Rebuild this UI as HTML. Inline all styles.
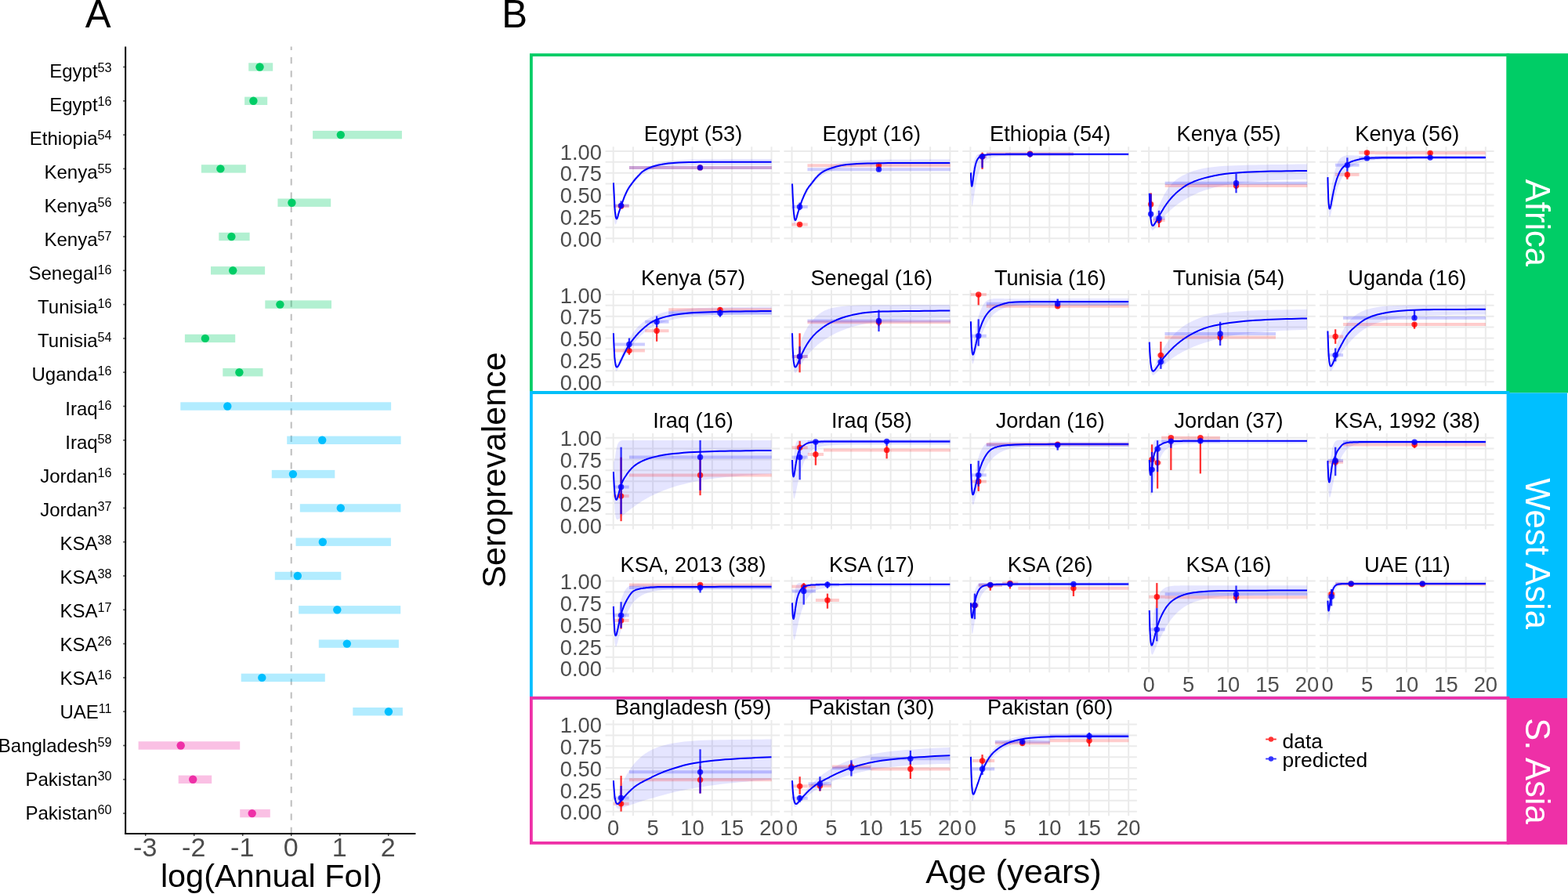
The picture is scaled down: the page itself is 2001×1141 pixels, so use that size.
<!DOCTYPE html>
<html lang="en"><head><meta charset="utf-8"><title>Figure: annual force of infection and seroprevalence by age</title>
<style>html,body{margin:0;padding:0;background:#fff}body{width:2001px;height:1141px;overflow:hidden}svg{display:block}text{font-family:'Liberation Sans', sans-serif}</style></head><body>
<svg width="2001" height="1141" viewBox="0 0 2001 1141">
<rect x="0" y="0" width="2001" height="1141" fill="#ffffff"/>
<g id="panelA">
<text x="108.8" y="34.9" font-size="49.2" fill="#000">A</text>
<line x1="371.7" y1="1064" x2="371.7" y2="59.4" stroke="#bebebe" stroke-width="2" stroke-dasharray="8.2 9.04"/>
<rect x="317.2" y="80.3" width="31" height="10.4" fill="#00CD66" fill-opacity="0.3"/>
<rect x="312.1" y="123.6" width="29.1" height="10.4" fill="#00CD66" fill-opacity="0.3"/>
<rect x="399.1" y="166.9" width="113.8" height="10.4" fill="#00CD66" fill-opacity="0.3"/>
<rect x="256.9" y="210.2" width="56.9" height="10.4" fill="#00CD66" fill-opacity="0.3"/>
<rect x="354.4" y="253.5" width="67.8" height="10.4" fill="#00CD66" fill-opacity="0.3"/>
<rect x="279.3" y="296.8" width="39.3" height="10.4" fill="#00CD66" fill-opacity="0.3"/>
<rect x="269" y="340.1" width="69.1" height="10.4" fill="#00CD66" fill-opacity="0.3"/>
<rect x="338.3" y="383.4" width="84.7" height="10.4" fill="#00CD66" fill-opacity="0.3"/>
<rect x="235.9" y="426.7" width="64.3" height="10.4" fill="#00CD66" fill-opacity="0.3"/>
<rect x="284.3" y="470" width="51.2" height="10.4" fill="#00CD66" fill-opacity="0.3"/>
<rect x="230.3" y="513.3" width="268.8" height="10.4" fill="#00BFFF" fill-opacity="0.3"/>
<rect x="366.2" y="556.6" width="145.4" height="10.4" fill="#00BFFF" fill-opacity="0.3"/>
<rect x="346.8" y="599.9" width="80.5" height="10.4" fill="#00BFFF" fill-opacity="0.3"/>
<rect x="382.8" y="643.2" width="128.6" height="10.4" fill="#00BFFF" fill-opacity="0.3"/>
<rect x="377.5" y="686.5" width="121.4" height="10.4" fill="#00BFFF" fill-opacity="0.3"/>
<rect x="350.8" y="729.8" width="84.5" height="10.4" fill="#00BFFF" fill-opacity="0.3"/>
<rect x="381.1" y="773.1" width="130.1" height="10.4" fill="#00BFFF" fill-opacity="0.3"/>
<rect x="406.8" y="816.4" width="102.1" height="10.4" fill="#00BFFF" fill-opacity="0.3"/>
<rect x="307.7" y="859.7" width="107.1" height="10.4" fill="#00BFFF" fill-opacity="0.3"/>
<rect x="450.3" y="903" width="63.6" height="10.4" fill="#00BFFF" fill-opacity="0.3"/>
<rect x="176.6" y="946.3" width="129.6" height="10.4" fill="#EE30A7" fill-opacity="0.3"/>
<rect x="227.7" y="989.6" width="42.5" height="10.4" fill="#EE30A7" fill-opacity="0.3"/>
<rect x="306.2" y="1032.9" width="38.6" height="10.4" fill="#EE30A7" fill-opacity="0.3"/>
<circle cx="331.5" cy="85.5" r="5.2" fill="#00CD66"/>
<circle cx="323.4" cy="128.8" r="5.2" fill="#00CD66"/>
<circle cx="434.8" cy="172.1" r="5.2" fill="#00CD66"/>
<circle cx="281.4" cy="215.4" r="5.2" fill="#00CD66"/>
<circle cx="372.4" cy="258.7" r="5.2" fill="#00CD66"/>
<circle cx="295.4" cy="302" r="5.2" fill="#00CD66"/>
<circle cx="297.2" cy="345.3" r="5.2" fill="#00CD66"/>
<circle cx="357.4" cy="388.6" r="5.2" fill="#00CD66"/>
<circle cx="261.9" cy="431.9" r="5.2" fill="#00CD66"/>
<circle cx="305.4" cy="475.2" r="5.2" fill="#00CD66"/>
<circle cx="290.3" cy="518.5" r="5.2" fill="#00BFFF"/>
<circle cx="411.2" cy="561.8" r="5.2" fill="#00BFFF"/>
<circle cx="373.9" cy="605.1" r="5.2" fill="#00BFFF"/>
<circle cx="434.8" cy="648.4" r="5.2" fill="#00BFFF"/>
<circle cx="411.8" cy="691.7" r="5.2" fill="#00BFFF"/>
<circle cx="379.8" cy="735" r="5.2" fill="#00BFFF"/>
<circle cx="430.3" cy="778.3" r="5.2" fill="#00BFFF"/>
<circle cx="442.8" cy="821.6" r="5.2" fill="#00BFFF"/>
<circle cx="334.3" cy="864.9" r="5.2" fill="#00BFFF"/>
<circle cx="495.9" cy="908.2" r="5.2" fill="#00BFFF"/>
<circle cx="230.7" cy="951.5" r="5.2" fill="#EE30A7"/>
<circle cx="246.2" cy="994.8" r="5.2" fill="#EE30A7"/>
<circle cx="321.7" cy="1038.1" r="5.2" fill="#EE30A7"/>
<line x1="160.15" y1="59.4" x2="160.15" y2="1065" stroke="#000" stroke-width="2"/>
<line x1="159.15" y1="1064" x2="530.4" y2="1064" stroke="#000" stroke-width="2"/>
<line x1="157.15" y1="85.5" x2="159.15" y2="85.5" stroke="#4d4d4d" stroke-width="1.7"/>
<line x1="157.15" y1="128.8" x2="159.15" y2="128.8" stroke="#4d4d4d" stroke-width="1.7"/>
<line x1="157.15" y1="172.1" x2="159.15" y2="172.1" stroke="#4d4d4d" stroke-width="1.7"/>
<line x1="157.15" y1="215.4" x2="159.15" y2="215.4" stroke="#4d4d4d" stroke-width="1.7"/>
<line x1="157.15" y1="258.7" x2="159.15" y2="258.7" stroke="#4d4d4d" stroke-width="1.7"/>
<line x1="157.15" y1="302" x2="159.15" y2="302" stroke="#4d4d4d" stroke-width="1.7"/>
<line x1="157.15" y1="345.3" x2="159.15" y2="345.3" stroke="#4d4d4d" stroke-width="1.7"/>
<line x1="157.15" y1="388.6" x2="159.15" y2="388.6" stroke="#4d4d4d" stroke-width="1.7"/>
<line x1="157.15" y1="431.9" x2="159.15" y2="431.9" stroke="#4d4d4d" stroke-width="1.7"/>
<line x1="157.15" y1="475.2" x2="159.15" y2="475.2" stroke="#4d4d4d" stroke-width="1.7"/>
<line x1="157.15" y1="518.5" x2="159.15" y2="518.5" stroke="#4d4d4d" stroke-width="1.7"/>
<line x1="157.15" y1="561.8" x2="159.15" y2="561.8" stroke="#4d4d4d" stroke-width="1.7"/>
<line x1="157.15" y1="605.1" x2="159.15" y2="605.1" stroke="#4d4d4d" stroke-width="1.7"/>
<line x1="157.15" y1="648.4" x2="159.15" y2="648.4" stroke="#4d4d4d" stroke-width="1.7"/>
<line x1="157.15" y1="691.7" x2="159.15" y2="691.7" stroke="#4d4d4d" stroke-width="1.7"/>
<line x1="157.15" y1="735" x2="159.15" y2="735" stroke="#4d4d4d" stroke-width="1.7"/>
<line x1="157.15" y1="778.3" x2="159.15" y2="778.3" stroke="#4d4d4d" stroke-width="1.7"/>
<line x1="157.15" y1="821.6" x2="159.15" y2="821.6" stroke="#4d4d4d" stroke-width="1.7"/>
<line x1="157.15" y1="864.9" x2="159.15" y2="864.9" stroke="#4d4d4d" stroke-width="1.7"/>
<line x1="157.15" y1="908.2" x2="159.15" y2="908.2" stroke="#4d4d4d" stroke-width="1.7"/>
<line x1="157.15" y1="951.5" x2="159.15" y2="951.5" stroke="#4d4d4d" stroke-width="1.7"/>
<line x1="157.15" y1="994.8" x2="159.15" y2="994.8" stroke="#4d4d4d" stroke-width="1.7"/>
<line x1="157.15" y1="1038.1" x2="159.15" y2="1038.1" stroke="#4d4d4d" stroke-width="1.7"/>
<line x1="185.7" y1="1065" x2="185.7" y2="1067" stroke="#4d4d4d" stroke-width="1.7"/>
<text x="185.2" y="1093.4" font-size="34" fill="#4d4d4d" text-anchor="middle">-3</text>
<line x1="247.7" y1="1065" x2="247.7" y2="1067" stroke="#4d4d4d" stroke-width="1.7"/>
<text x="247.2" y="1093.4" font-size="34" fill="#4d4d4d" text-anchor="middle">-2</text>
<line x1="309.7" y1="1065" x2="309.7" y2="1067" stroke="#4d4d4d" stroke-width="1.7"/>
<text x="309.2" y="1093.4" font-size="34" fill="#4d4d4d" text-anchor="middle">-1</text>
<line x1="371.7" y1="1065" x2="371.7" y2="1067" stroke="#4d4d4d" stroke-width="1.7"/>
<text x="371.2" y="1093.4" font-size="34" fill="#4d4d4d" text-anchor="middle">0</text>
<line x1="433.7" y1="1065" x2="433.7" y2="1067" stroke="#4d4d4d" stroke-width="1.7"/>
<text x="433.2" y="1093.4" font-size="34" fill="#4d4d4d" text-anchor="middle">1</text>
<line x1="495.7" y1="1065" x2="495.7" y2="1067" stroke="#4d4d4d" stroke-width="1.7"/>
<text x="495.2" y="1093.4" font-size="34" fill="#4d4d4d" text-anchor="middle">2</text>
<text x="142.6" y="98.8" font-size="24" fill="#000" text-anchor="end">Egypt<tspan dy="-7" font-size="16.2">53</tspan></text>
<text x="142.6" y="141.87" font-size="24" fill="#000" text-anchor="end">Egypt<tspan dy="-7" font-size="16.2">16</tspan></text>
<text x="142.6" y="184.94" font-size="24" fill="#000" text-anchor="end">Ethiopia<tspan dy="-7" font-size="16.2">54</tspan></text>
<text x="142.6" y="228.01" font-size="24" fill="#000" text-anchor="end">Kenya<tspan dy="-7" font-size="16.2">55</tspan></text>
<text x="142.6" y="271.08" font-size="24" fill="#000" text-anchor="end">Kenya<tspan dy="-7" font-size="16.2">56</tspan></text>
<text x="142.6" y="314.15" font-size="24" fill="#000" text-anchor="end">Kenya<tspan dy="-7" font-size="16.2">57</tspan></text>
<text x="142.6" y="357.22" font-size="24" fill="#000" text-anchor="end">Senegal<tspan dy="-7" font-size="16.2">16</tspan></text>
<text x="142.6" y="400.29" font-size="24" fill="#000" text-anchor="end">Tunisia<tspan dy="-7" font-size="16.2">16</tspan></text>
<text x="142.6" y="443.36" font-size="24" fill="#000" text-anchor="end">Tunisia<tspan dy="-7" font-size="16.2">54</tspan></text>
<text x="142.6" y="486.43" font-size="24" fill="#000" text-anchor="end">Uganda<tspan dy="-7" font-size="16.2">16</tspan></text>
<text x="142.6" y="529.5" font-size="24" fill="#000" text-anchor="end">Iraq<tspan dy="-7" font-size="16.2">16</tspan></text>
<text x="142.6" y="572.57" font-size="24" fill="#000" text-anchor="end">Iraq<tspan dy="-7" font-size="16.2">58</tspan></text>
<text x="142.6" y="615.64" font-size="24" fill="#000" text-anchor="end">Jordan<tspan dy="-7" font-size="16.2">16</tspan></text>
<text x="142.6" y="658.71" font-size="24" fill="#000" text-anchor="end">Jordan<tspan dy="-7" font-size="16.2">37</tspan></text>
<text x="142.6" y="701.78" font-size="24" fill="#000" text-anchor="end">KSA<tspan dy="-7" font-size="16.2">38</tspan></text>
<text x="142.6" y="744.85" font-size="24" fill="#000" text-anchor="end">KSA<tspan dy="-7" font-size="16.2">38</tspan></text>
<text x="142.6" y="787.92" font-size="24" fill="#000" text-anchor="end">KSA<tspan dy="-7" font-size="16.2">17</tspan></text>
<text x="142.6" y="830.99" font-size="24" fill="#000" text-anchor="end">KSA<tspan dy="-7" font-size="16.2">26</tspan></text>
<text x="142.6" y="874.06" font-size="24" fill="#000" text-anchor="end">KSA<tspan dy="-7" font-size="16.2">16</tspan></text>
<text x="142.6" y="917.13" font-size="24" fill="#000" text-anchor="end">UAE<tspan dy="-7" font-size="16.2">11</tspan></text>
<text x="142.6" y="960.2" font-size="24" fill="#000" text-anchor="end">Bangladesh<tspan dy="-7" font-size="16.2">59</tspan></text>
<text x="142.6" y="1003.27" font-size="24" fill="#000" text-anchor="end">Pakistan<tspan dy="-7" font-size="16.2">30</tspan></text>
<text x="142.6" y="1046.34" font-size="24" fill="#000" text-anchor="end">Pakistan<tspan dy="-7" font-size="16.2">60</tspan></text>
<text x="346.4" y="1132" font-size="41.4" fill="#000" text-anchor="middle">log(Annual FoI)</text>
</g>
<g id="panelB">
<text x="640.3" y="34.9" font-size="49.2" fill="#000">B</text>
<text transform="translate(645.2 600) rotate(-90)" font-size="43" fill="#000" text-anchor="middle">Seroprevalence</text>
<text x="1293.5" y="1127" font-size="43.4" fill="#000" text-anchor="middle">Age (years)</text>
<g><path d="M772.61 304.15H995.19M772.61 290.24H995.19M772.61 276.34H995.19M772.61 262.43H995.19M772.61 248.53H995.19M772.61 234.62H995.19M772.61 220.71H995.19M772.61 206.81H995.19M772.61 192.9H995.19M782.7 187.34V309.71M807.93 187.34V309.71M833.15 187.34V309.71M858.38 187.34V309.71M883.6 187.34V309.71M908.83 187.34V309.71M934.05 187.34V309.71M959.28 187.34V309.71M984.5 187.34V309.71" stroke="#ebebeb" stroke-width="2" fill="none"/><path d="M782.9 223.2 L783.2 232 L783.5 239.5 L783.8 245.8 L784.1 251.2 L784.3 255.7 L784.6 259.5 L784.9 262.6 L785.2 265.2 L785.5 267.3 L785.7 268.9 L786 270.3 L786.3 271.2 L786.6 272 L786.9 272.5 L787.2 272.7 L787.4 272.8 L787.7 272.8 L788 272.6 L788.3 272.4 L788.6 272 L788.8 271.5 L789.1 271 L789.4 270.5 L789.7 269.8 L790 269.2 L790.3 268.5 L790.5 267.7 L790.8 267 L791.1 266.2 L791.4 265.5 L791.7 264.7 L791.9 263.9 L792.2 263.1 L792.5 262.3 L792.8 261.5 L793.8 258.6 L794.9 255.7 L795.9 253 L796.9 250.4 L798 247.8 L799 245.5 L800 243.2 L801.1 241 L802.1 239 L803.1 237.1 L804.2 235.3 L805.2 233.5 L806.2 231.9 L807.3 230.4 L808.3 228.9 L809.3 227.5 L810.4 226.2 L811.4 225 L812.5 223.8 L813.5 222.7 L814.5 221.7 L815.6 220.7 L816.6 219.8 L817.6 218.9 L818.7 218 L819.7 217.3 L820.7 216.5 L821.8 215.8 L822.8 215.1 L823.8 214.5 L824.9 213.9 L825.9 213.4 L826.9 212.8 L828 212.3 L829 211.8 L830 211.4 L831.1 211 L832.1 210.5 L833.2 210.2 L839.7 208.1 L846.3 206.7 L852.9 205.6 L859.5 204.9 L866.1 204.4 L872.6 204 L879.2 203.7 L885.8 203.5 L892.4 203.4 L899 203.3 L905.5 203.2 L912.1 203.2 L918.7 203.2 L925.3 203.1 L931.9 203.1 L938.4 203.1 L945 203.1 L951.6 203.1 L958.2 203.1 L964.8 203.1 L971.3 203.1 L977.9 203.1 L984.5 203.1 L984.5 211.1 L977.9 211.1 L971.3 211.1 L964.8 211.1 L958.2 211.1 L951.6 211.1 L945 211 L938.4 211 L931.9 211 L925.3 211 L918.7 211 L912.1 211 L905.5 211.1 L899 211.1 L892.4 211.1 L885.8 211.2 L879.2 211.3 L872.6 211.4 L866.1 211.6 L859.5 211.8 L852.9 212.2 L846.3 212.9 L839.7 214 L833.2 215.8 L832.1 216.1 L831.1 216.5 L830 216.9 L829 217.4 L828 217.9 L826.9 218.4 L825.9 218.9 L824.9 219.5 L823.8 220.2 L822.8 220.8 L821.8 221.5 L820.7 222.3 L819.7 223 L818.7 223.8 L817.6 224.7 L816.6 225.6 L815.6 226.6 L814.5 227.6 L813.5 228.6 L812.5 229.7 L811.4 230.8 L810.4 232 L809.3 233.3 L808.3 234.6 L807.3 235.9 L806.2 237.3 L805.2 238.8 L804.2 240.4 L803.1 242.1 L802.1 243.8 L801.1 245.7 L800 247.7 L799 249.8 L798 252 L796.9 254.3 L795.9 256.7 L794.9 259.4 L793.8 262.1 L792.8 265 L792.5 265.8 L792.2 266.7 L791.9 267.5 L791.7 268.4 L791.4 269.2 L791.1 270.1 L790.8 271 L790.5 271.9 L790.3 272.9 L790 273.8 L789.7 274.7 L789.4 275.7 L789.1 276.6 L788.8 277.6 L788.6 278.6 L788.3 279.6 L788 280.5 L787.7 281.5 L787.4 282.4 L787.2 283.3 L786.9 284.2 L786.6 285 L786.3 285.7 L786 286.3 L785.7 286.6 L785.5 286.8 L785.2 286.6 L784.9 286 L784.6 284.7 L784.3 282.7 L784.1 279.7 L783.8 275.2 L783.5 268.9 L783.2 260.1 L782.9 248Z" fill="#0000ff" fill-opacity="0.1" stroke="none"/><line x1="782.92" y1="263.13" x2="802.71" y2="263.13" stroke="#ff0000" stroke-opacity="0.2" stroke-width="4"/><line x1="802.94" y1="213.91" x2="984.84" y2="213.91" stroke="#ff0000" stroke-opacity="0.2" stroke-width="4"/><line x1="792.59" y1="261.45" x2="792.59" y2="264.82" stroke="#ff0000" stroke-opacity="0.8" stroke-width="2.3"/><circle cx="792.59" cy="263.13" r="3.7" fill="#ff0000" fill-opacity="0.8"/><line x1="893.44" y1="212.57" x2="893.44" y2="215.37" stroke="#ff0000" stroke-opacity="0.8" stroke-width="2.3"/><circle cx="893.44" cy="213.91" r="3.7" fill="#ff0000" fill-opacity="0.8"/><line x1="782.92" y1="262.35" x2="802.71" y2="262.35" stroke="#0000ff" stroke-opacity="0.2" stroke-width="4"/><line x1="802.94" y1="213.91" x2="984.84" y2="213.91" stroke="#0000ff" stroke-opacity="0.2" stroke-width="4"/><line x1="792.59" y1="256.39" x2="792.59" y2="265.94" stroke="#0000ff" stroke-opacity="0.8" stroke-width="2.3"/><circle cx="792.59" cy="262.35" r="3.7" fill="#0000ff" fill-opacity="0.8"/><line x1="893.44" y1="212" x2="893.44" y2="215.94" stroke="#0000ff" stroke-opacity="0.8" stroke-width="2.3"/><circle cx="893.44" cy="213.91" r="3.7" fill="#0000ff" fill-opacity="0.8"/><path d="M782.9 233.4 L783.2 239.2 L783.5 245.5 L783.8 251.4 L784.1 256.9 L784.3 262 L784.6 266.4 L784.9 269.9 L785.2 272.6 L785.5 274.7 L785.7 276.3 L786 277.6 L786.3 278.5 L786.6 279.1 L786.9 279.4 L787.2 279.3 L787.4 278.9 L787.7 278.3 L788 277.6 L788.3 276.7 L788.6 275.8 L788.8 274.8 L789.1 273.6 L789.4 272.5 L789.7 271.5 L790 270.5 L790.3 269.7 L790.5 269 L790.8 268.2 L791.1 267.4 L791.4 266.6 L791.7 265.8 L791.9 265.1 L792.2 264.3 L792.5 263.5 L792.8 262.7 L793.8 259.6 L794.9 256.5 L795.9 253.6 L796.9 250.9 L798 248.5 L799 246.2 L800 244.1 L801.1 242.1 L802.1 240.3 L803.1 238.7 L804.2 237.2 L805.2 235.8 L806.2 234.4 L807.3 233 L808.3 231.7 L809.3 230.3 L810.4 229 L811.4 227.8 L812.5 226.7 L813.5 225.6 L814.5 224.5 L815.6 223.4 L816.6 222.3 L817.6 221.2 L818.7 220.1 L819.7 219.2 L820.7 218.5 L821.8 217.8 L822.8 217.2 L823.8 216.6 L824.9 216 L825.9 215.5 L826.9 215 L828 214.5 L829 214.1 L830 213.7 L831.1 213.3 L832.1 212.9 L833.2 212.5 L839.7 210.8 L846.3 209.5 L852.9 208.6 L859.5 208 L866.1 207.5 L872.6 207.2 L879.2 207 L885.8 206.9 L892.4 206.8 L899 206.7 L905.5 206.7 L912.1 206.7 L918.7 206.7 L925.3 206.7 L931.9 206.7 L938.4 206.7 L945 206.7 L951.6 206.7 L958.2 206.7 L964.8 206.7 L971.3 206.7 L977.9 206.7 L984.5 206.7" fill="none" stroke="#0000ff" stroke-width="2" stroke-linejoin="round"/><text x="884.5" y="180.1" font-size="27.2" fill="#000" text-anchor="middle">Egypt (53)</text><text x="768" y="314.8" font-size="27.4" fill="#4d4d4d" text-anchor="end">0.00</text><text x="768" y="286.99" font-size="27.4" fill="#4d4d4d" text-anchor="end">0.25</text><text x="768" y="259.18" font-size="27.4" fill="#4d4d4d" text-anchor="end">0.50</text><text x="768" y="231.36" font-size="27.4" fill="#4d4d4d" text-anchor="end">0.75</text><text x="768" y="203.55" font-size="27.4" fill="#4d4d4d" text-anchor="end">1.00</text></g>
<g><path d="M1000.45 304.15H1223.03M1000.45 290.24H1223.03M1000.45 276.34H1223.03M1000.45 262.43H1223.03M1000.45 248.53H1223.03M1000.45 234.62H1223.03M1000.45 220.71H1223.03M1000.45 206.81H1223.03M1000.45 192.9H1223.03M1010.54 187.34V309.71M1035.77 187.34V309.71M1060.99 187.34V309.71M1086.22 187.34V309.71M1111.44 187.34V309.71M1136.66 187.34V309.71M1161.89 187.34V309.71M1187.12 187.34V309.71M1212.34 187.34V309.71" stroke="#ebebeb" stroke-width="2" fill="none"/><path d="M1011 224.4 L1011.3 233.6 L1011.5 241.3 L1011.8 247.9 L1012.1 253.4 L1012.4 258 L1012.6 261.7 L1012.9 264.9 L1013.2 267.4 L1013.5 269.4 L1013.7 271 L1014 272.3 L1014.3 273.2 L1014.6 273.8 L1014.8 274.2 L1015.1 274.5 L1015.4 274.5 L1015.7 274.4 L1015.9 274.2 L1016.2 273.9 L1016.5 273.4 L1016.8 273 L1017 272.4 L1017.3 271.8 L1017.6 271.2 L1017.9 270.5 L1018.2 269.8 L1018.4 269.1 L1018.7 268.3 L1019 267.6 L1019.3 266.8 L1019.5 266 L1019.8 265.2 L1020.1 264.4 L1020.4 263.6 L1020.6 262.9 L1021.7 259.9 L1022.7 257.1 L1023.7 254.3 L1024.8 251.7 L1025.8 249.2 L1026.8 246.8 L1027.9 244.6 L1028.9 242.4 L1029.9 240.4 L1031 238.5 L1032 236.7 L1033 234.9 L1034.1 233.3 L1035.1 231.7 L1036.2 230.2 L1037.2 228.9 L1038.2 227.5 L1039.3 226.3 L1040.3 225.1 L1041.3 224 L1042.4 223 L1043.4 222 L1044.4 221 L1045.5 220.1 L1046.5 219.3 L1047.5 218.5 L1048.6 217.7 L1049.6 217 L1050.6 216.4 L1051.7 215.7 L1052.7 215.1 L1053.7 214.5 L1054.8 214 L1055.8 213.5 L1056.9 213 L1057.9 212.5 L1058.9 212 L1060 211.6 L1061 211.2 L1067.6 209 L1074.2 207.5 L1080.7 206.3 L1087.3 205.5 L1093.9 205 L1100.5 204.5 L1107.1 204.2 L1113.6 204 L1120.2 203.8 L1126.8 203.7 L1133.4 203.6 L1140 203.5 L1146.5 203.5 L1153.1 203.4 L1159.7 203.4 L1166.3 203.4 L1172.9 203.3 L1179.4 203.3 L1186 203.3 L1192.6 203.3 L1199.2 203.3 L1205.8 203.2 L1212.3 203.2 L1212.3 211.3 L1205.8 211.3 L1199.2 211.3 L1192.6 211.3 L1186 211.3 L1179.4 211.3 L1172.9 211.3 L1166.3 211.3 L1159.7 211.3 L1153.1 211.4 L1146.5 211.4 L1140 211.4 L1133.4 211.5 L1126.8 211.5 L1120.2 211.6 L1113.6 211.8 L1107.1 212 L1100.5 212.2 L1093.9 212.5 L1087.3 212.9 L1080.7 213.4 L1074.2 214.3 L1067.6 215.7 L1061 217.6 L1060 218 L1058.9 218.4 L1057.9 218.9 L1056.9 219.4 L1055.8 219.9 L1054.8 220.4 L1053.7 220.9 L1052.7 221.5 L1051.7 222.2 L1050.6 222.8 L1049.6 223.5 L1048.6 224.3 L1047.5 225 L1046.5 225.9 L1045.5 226.7 L1044.4 227.6 L1043.4 228.6 L1042.4 229.6 L1041.3 230.6 L1040.3 231.7 L1039.3 232.8 L1038.2 234 L1037.2 235.3 L1036.2 236.6 L1035.1 237.9 L1034.1 239.4 L1033 240.9 L1032 242.5 L1031 244.2 L1029.9 245.9 L1028.9 247.8 L1027.9 249.8 L1026.8 251.8 L1025.8 254 L1024.8 256.3 L1023.7 258.7 L1022.7 261.3 L1021.7 264 L1020.6 266.8 L1020.4 267.6 L1020.1 268.4 L1019.8 269.2 L1019.5 270 L1019.3 270.8 L1019 271.6 L1018.7 272.5 L1018.4 273.3 L1018.2 274.2 L1017.9 275.1 L1017.6 276 L1017.3 276.8 L1017 277.7 L1016.8 278.6 L1016.5 279.5 L1016.2 280.4 L1015.9 281.3 L1015.7 282.2 L1015.4 283 L1015.1 283.9 L1014.8 284.6 L1014.6 285.3 L1014.3 285.9 L1014 286.3 L1013.7 286.6 L1013.5 286.6 L1013.2 286.3 L1012.9 285.6 L1012.6 284.2 L1012.4 282.1 L1012.1 279 L1011.8 274.5 L1011.5 268.2 L1011.3 259.6 L1011 248Z" fill="#0000ff" fill-opacity="0.1" stroke="none"/><line x1="1010.54" y1="286.51" x2="1030.78" y2="286.51" stroke="#ff0000" stroke-opacity="0.2" stroke-width="4"/><line x1="1030.44" y1="211.22" x2="1212.9" y2="211.22" stroke="#ff0000" stroke-opacity="0.2" stroke-width="4"/><line x1="1020.55" y1="285.05" x2="1020.55" y2="287.86" stroke="#ff0000" stroke-opacity="0.8" stroke-width="2.3"/><circle cx="1020.55" cy="286.51" r="3.7" fill="#ff0000" fill-opacity="0.8"/><line x1="1121.5" y1="207.51" x2="1121.5" y2="213.69" stroke="#ff0000" stroke-opacity="0.8" stroke-width="2.3"/><circle cx="1121.5" cy="211.22" r="3.7" fill="#ff0000" fill-opacity="0.8"/><line x1="1010.54" y1="264.03" x2="1030.78" y2="264.03" stroke="#0000ff" stroke-opacity="0.2" stroke-width="4"/><line x1="1030.44" y1="216.16" x2="1212.9" y2="216.16" stroke="#0000ff" stroke-opacity="0.2" stroke-width="4"/><line x1="1020.55" y1="258.64" x2="1020.55" y2="268.19" stroke="#0000ff" stroke-opacity="0.8" stroke-width="2.3"/><circle cx="1020.55" cy="264.03" r="3.7" fill="#0000ff" fill-opacity="0.8"/><line x1="1121.5" y1="213.69" x2="1121.5" y2="218.75" stroke="#0000ff" stroke-opacity="0.8" stroke-width="2.3"/><circle cx="1121.5" cy="216.16" r="3.7" fill="#0000ff" fill-opacity="0.8"/><path d="M1011 234.5 L1011.3 240.4 L1011.5 246.4 L1011.8 252.1 L1012.1 257.5 L1012.4 262.5 L1012.6 266.9 L1012.9 270.5 L1013.2 273.3 L1013.5 275.7 L1013.7 277.6 L1014 279 L1014.3 280 L1014.6 280.7 L1014.8 281.1 L1015.1 281.1 L1015.4 280.8 L1015.7 280.2 L1015.9 279.5 L1016.2 278.8 L1016.5 278 L1016.8 277 L1017 276 L1017.3 274.9 L1017.6 273.8 L1017.9 272.8 L1018.2 271.9 L1018.4 271 L1018.7 270.1 L1019 269.2 L1019.3 268.3 L1019.5 267.4 L1019.8 266.5 L1020.1 265.7 L1020.4 264.8 L1020.6 264 L1021.7 260.9 L1022.7 257.9 L1023.7 255.2 L1024.8 252.6 L1025.8 250.2 L1026.8 247.9 L1027.9 245.7 L1028.9 243.7 L1029.9 241.8 L1031 240.2 L1032 238.7 L1033 237.4 L1034.1 236.2 L1035.1 234.9 L1036.2 233.5 L1037.2 232.1 L1038.2 230.8 L1039.3 229.5 L1040.3 228.2 L1041.3 227 L1042.4 225.9 L1043.4 224.8 L1044.4 223.8 L1045.5 222.8 L1046.5 221.9 L1047.5 221.1 L1048.6 220.3 L1049.6 219.6 L1050.6 219 L1051.7 218.4 L1052.7 217.9 L1053.7 217.4 L1054.8 216.9 L1055.8 216.4 L1056.9 216 L1057.9 215.6 L1058.9 215.2 L1060 214.9 L1061 214.5 L1067.6 212.5 L1074.2 211.1 L1080.7 210.1 L1087.3 209.4 L1093.9 209 L1100.5 208.7 L1107.1 208.5 L1113.6 208.4 L1120.2 208.3 L1126.8 208.2 L1133.4 208.1 L1140 208.1 L1146.5 208.1 L1153.1 208.1 L1159.7 208.1 L1166.3 208.1 L1172.9 208.1 L1179.4 208.1 L1186 208.1 L1192.6 208.1 L1199.2 208.1 L1205.8 208.1 L1212.3 208.1" fill="none" stroke="#0000ff" stroke-width="2" stroke-linejoin="round"/><text x="1112.34" y="180.1" font-size="27.2" fill="#000" text-anchor="middle">Egypt (16)</text></g>
<g><path d="M1228.29 304.15H1450.87M1228.29 290.24H1450.87M1228.29 276.34H1450.87M1228.29 262.43H1450.87M1228.29 248.53H1450.87M1228.29 234.62H1450.87M1228.29 220.71H1450.87M1228.29 206.81H1450.87M1228.29 192.9H1450.87M1238.38 187.34V309.71M1263.61 187.34V309.71M1288.83 187.34V309.71M1314.06 187.34V309.71M1339.28 187.34V309.71M1364.51 187.34V309.71M1389.73 187.34V309.71M1414.96 187.34V309.71M1440.18 187.34V309.71" stroke="#ebebeb" stroke-width="2" fill="none"/><path d="M1238.9 210.9 L1239.2 216.2 L1239.5 219.2 L1239.8 220.5 L1240 220.7 L1240.3 220.1 L1240.6 219 L1240.8 217.6 L1241.1 216 L1241.4 214.4 L1241.7 212.8 L1241.9 211.2 L1242.2 209.7 L1242.5 208.3 L1242.8 207 L1243 205.9 L1243.3 204.8 L1243.6 203.8 L1243.8 203 L1244.1 202.2 L1244.4 201.5 L1244.7 200.8 L1244.9 200.3 L1245.2 199.8 L1245.5 199.4 L1245.7 199 L1246 198.6 L1246.3 198.3 L1246.6 198.1 L1246.8 197.8 L1247.1 197.6 L1247.4 197.4 L1247.7 197.3 L1247.9 197.1 L1248.2 197 L1248.5 196.9 L1249.5 196.6 L1250.5 196.4 L1251.6 196.3 L1252.6 196.3 L1253.6 196.3 L1254.7 196.2 L1255.7 196.2 L1256.7 196.2 L1257.8 196.2 L1258.8 196.2 L1259.9 196.2 L1260.9 196.2 L1261.9 196.2 L1263 196.2 L1264 196.2 L1265 196.2 L1266.1 196.2 L1267.1 196.2 L1268.1 196.2 L1269.2 196.2 L1270.2 196.2 L1271.2 196.2 L1272.3 196.2 L1273.3 196.2 L1274.3 196.2 L1275.4 196.2 L1276.4 196.2 L1277.4 196.2 L1278.5 196.2 L1279.5 196.2 L1280.6 196.2 L1281.6 196.2 L1282.6 196.2 L1283.7 196.2 L1284.7 196.2 L1285.7 196.2 L1286.8 196.2 L1287.8 196.2 L1288.8 196.2 L1295.4 196.2 L1302 196.2 L1308.6 196.2 L1315.2 196.2 L1321.7 196.2 L1328.3 196.2 L1334.9 196.2 L1341.5 196.2 L1348.1 196.2 L1354.6 196.2 L1361.2 196.2 L1367.8 196.2 L1374.4 196.2 L1381 196.2 L1387.5 196.2 L1394.1 196.2 L1400.7 196.2 L1407.3 196.2 L1413.9 196.2 L1420.4 196.2 L1427 196.2 L1433.6 196.2 L1440.2 196.2 L1440.2 199.2 L1433.6 199.2 L1427 199.2 L1420.4 199.2 L1413.9 199.2 L1407.3 199.2 L1400.7 199.2 L1394.1 199.2 L1387.5 199.2 L1381 199.2 L1374.4 199.2 L1367.8 199.2 L1361.2 199.2 L1354.6 199.2 L1348.1 199.2 L1341.5 199.2 L1334.9 199.3 L1328.3 199.3 L1321.7 199.3 L1315.2 199.3 L1308.6 199.3 L1302 199.3 L1295.4 199.3 L1288.8 199.4 L1287.8 199.4 L1286.8 199.4 L1285.7 199.4 L1284.7 199.4 L1283.7 199.5 L1282.6 199.5 L1281.6 199.5 L1280.6 199.5 L1279.5 199.6 L1278.5 199.6 L1277.4 199.7 L1276.4 199.7 L1275.4 199.8 L1274.3 199.8 L1273.3 199.9 L1272.3 200 L1271.2 200.1 L1270.2 200.3 L1269.2 200.4 L1268.1 200.6 L1267.1 200.8 L1266.1 201 L1265 201.3 L1264 201.6 L1263 202 L1261.9 202.4 L1260.9 202.9 L1259.9 203.5 L1258.8 204.1 L1257.8 204.9 L1256.7 205.8 L1255.7 206.9 L1254.7 208.2 L1253.6 209.7 L1252.6 211.5 L1251.6 213.6 L1250.5 216 L1249.5 218.9 L1248.5 222.2 L1248.2 223.1 L1247.9 224.1 L1247.7 225.2 L1247.4 226.3 L1247.1 227.4 L1246.8 228.6 L1246.6 229.8 L1246.3 231.1 L1246 232.4 L1245.7 233.8 L1245.5 235.2 L1245.2 236.7 L1244.9 238.2 L1244.7 239.8 L1244.4 241.4 L1244.1 243.2 L1243.8 244.9 L1243.6 246.7 L1243.3 248.5 L1243 250.4 L1242.8 252.3 L1242.5 254.1 L1242.2 256 L1241.9 257.7 L1241.7 259.4 L1241.4 260.8 L1241.1 261.9 L1240.8 262.6 L1240.6 262.7 L1240.3 261.9 L1240 260 L1239.8 256.5 L1239.5 250.9 L1239.2 242.3 L1238.9 230Z" fill="#0000ff" fill-opacity="0.1" stroke="none"/><line x1="1248.72" y1="199.98" x2="1258.84" y2="199.98" stroke="#ff0000" stroke-opacity="0.2" stroke-width="4"/><line x1="1258.84" y1="196.27" x2="1369.92" y2="196.27" stroke="#ff0000" stroke-opacity="0.2" stroke-width="4"/><line x1="1253.56" y1="194.59" x2="1253.56" y2="215.94" stroke="#ff0000" stroke-opacity="0.8" stroke-width="2.3"/><circle cx="1253.56" cy="199.98" r="3.7" fill="#ff0000" fill-opacity="0.8"/><line x1="1314.49" y1="195.15" x2="1314.49" y2="200.77" stroke="#ff0000" stroke-opacity="0.8" stroke-width="2.3"/><circle cx="1314.49" cy="196.27" r="3.7" fill="#ff0000" fill-opacity="0.8"/><line x1="1248.72" y1="199.64" x2="1258.84" y2="199.64" stroke="#0000ff" stroke-opacity="0.2" stroke-width="4"/><line x1="1258.84" y1="196.83" x2="1369.92" y2="196.83" stroke="#0000ff" stroke-opacity="0.2" stroke-width="4"/><line x1="1253.56" y1="196.27" x2="1253.56" y2="214.25" stroke="#0000ff" stroke-opacity="0.8" stroke-width="2.3"/><circle cx="1253.56" cy="199.64" r="3.7" fill="#0000ff" fill-opacity="0.8"/><line x1="1314.49" y1="195.71" x2="1314.49" y2="198.52" stroke="#0000ff" stroke-opacity="0.8" stroke-width="2.3"/><circle cx="1314.49" cy="196.83" r="3.7" fill="#0000ff" fill-opacity="0.8"/><path d="M1238.9 220.4 L1239.2 228.5 L1239.5 233.5 L1239.8 236.3 L1240 237.6 L1240.3 237.7 L1240.6 236.9 L1240.8 235.7 L1241.1 234 L1241.4 232.1 L1241.7 230.1 L1241.9 228 L1242.2 225.9 L1242.5 223.9 L1242.8 222 L1243 220.1 L1243.3 218.3 L1243.6 216.7 L1243.8 215.1 L1244.1 213.7 L1244.4 212.4 L1244.7 211.1 L1244.9 210 L1245.2 209 L1245.5 208.1 L1245.7 207.3 L1246 206.5 L1246.3 205.8 L1246.6 205.2 L1246.8 204.6 L1247.1 204.1 L1247.4 203.6 L1247.7 203.1 L1247.9 202.7 L1248.2 202.3 L1248.5 201.9 L1249.5 200.7 L1250.5 199.9 L1251.6 199.3 L1252.6 198.8 L1253.6 198.5 L1254.7 198.2 L1255.7 198 L1256.7 197.8 L1257.8 197.7 L1258.8 197.6 L1259.9 197.4 L1260.9 197.3 L1261.9 197.3 L1263 197.2 L1264 197.2 L1265 197.1 L1266.1 197.1 L1267.1 197.1 L1268.1 197 L1269.2 197 L1270.2 197 L1271.2 197 L1272.3 197 L1273.3 196.9 L1274.3 196.9 L1275.4 196.9 L1276.4 196.9 L1277.4 196.9 L1278.5 196.9 L1279.5 196.9 L1280.6 196.9 L1281.6 196.9 L1282.6 196.9 L1283.7 196.8 L1284.7 196.8 L1285.7 196.8 L1286.8 196.8 L1287.8 196.8 L1288.8 196.8 L1295.4 196.8 L1302 196.8 L1308.6 196.8 L1315.2 196.8 L1321.7 196.8 L1328.3 196.8 L1334.9 196.8 L1341.5 196.8 L1348.1 196.8 L1354.6 196.8 L1361.2 196.8 L1367.8 196.8 L1374.4 196.8 L1381 196.8 L1387.5 196.8 L1394.1 196.8 L1400.7 196.8 L1407.3 196.8 L1413.9 196.8 L1420.4 196.8 L1427 196.8 L1433.6 196.8 L1440.2 196.8" fill="none" stroke="#0000ff" stroke-width="2" stroke-linejoin="round"/><text x="1340.18" y="180.1" font-size="27.2" fill="#000" text-anchor="middle">Ethiopia (54)</text></g>
<g><path d="M1456.13 304.15H1678.71M1456.13 290.24H1678.71M1456.13 276.34H1678.71M1456.13 262.43H1678.71M1456.13 248.53H1678.71M1456.13 234.62H1678.71M1456.13 220.71H1678.71M1456.13 206.81H1678.71M1456.13 192.9H1678.71M1466.22 187.34V309.71M1491.44 187.34V309.71M1516.67 187.34V309.71M1541.89 187.34V309.71M1567.12 187.34V309.71M1592.35 187.34V309.71M1617.57 187.34V309.71M1642.8 187.34V309.71M1668.02 187.34V309.71" stroke="#ebebeb" stroke-width="2" fill="none"/><path d="M1466.8 236.7 L1467.1 248.8 L1467.3 258.3 L1467.6 265.5 L1467.9 270.8 L1468.1 274.5 L1468.4 277.6 L1468.7 280 L1469 282 L1469.2 283.6 L1469.5 284.4 L1469.8 284.7 L1470 284.8 L1470.3 284.7 L1470.6 284.5 L1470.9 284.1 L1471.1 283.6 L1471.4 283 L1471.7 282.3 L1472 281.7 L1472.2 280.9 L1472.5 280.2 L1472.8 279.4 L1473 278.7 L1473.3 277.9 L1473.6 277.1 L1473.9 276.3 L1474.1 275.5 L1474.4 274.8 L1474.7 274 L1474.9 273.2 L1475.2 272.5 L1475.5 271.7 L1475.8 270.9 L1476 270.2 L1476.3 269.5 L1477.3 266.7 L1478.4 264.1 L1479.4 261.7 L1480.4 259.3 L1481.5 256.9 L1482.5 254.7 L1483.6 252.6 L1484.6 250.5 L1485.6 248.6 L1486.7 246.7 L1487.7 244.9 L1488.7 243.2 L1489.8 241.7 L1490.8 240.2 L1491.8 238.7 L1492.9 237.4 L1493.9 236.2 L1494.9 235 L1496 233.9 L1497 232.9 L1498 231.9 L1499.1 231 L1500.1 230.1 L1501.1 229.3 L1502.2 228.5 L1503.2 227.8 L1504.3 227.1 L1505.3 226.4 L1506.3 225.7 L1507.4 225.1 L1508.4 224.5 L1509.4 224 L1510.5 223.4 L1511.5 222.9 L1512.5 222.4 L1513.6 221.9 L1514.6 221.5 L1515.6 221 L1516.7 220.5 L1523.3 218.1 L1529.8 216.2 L1536.4 214.8 L1543 213.8 L1549.6 212.9 L1556.2 212.3 L1562.7 211.8 L1569.3 211.5 L1575.9 211.2 L1582.5 210.9 L1589.1 210.7 L1595.6 210.6 L1602.2 210.4 L1608.8 210.3 L1615.4 210.2 L1622 210.1 L1628.5 210 L1635.1 209.9 L1641.7 209.8 L1648.3 209.7 L1654.9 209.6 L1661.4 209.5 L1668 209.4 L1668 229 L1661.4 229.1 L1654.9 229.2 L1648.3 229.4 L1641.7 229.5 L1635.1 229.8 L1628.5 230 L1622 230.3 L1615.4 230.6 L1608.8 231 L1602.2 231.5 L1595.6 232 L1589.1 232.7 L1582.5 233.4 L1575.9 234.2 L1569.3 235.2 L1562.7 236.4 L1556.2 237.7 L1549.6 239.3 L1543 241.2 L1536.4 243.3 L1529.8 245.8 L1523.3 248.7 L1516.7 252 L1515.6 252.6 L1514.6 253.2 L1513.6 253.8 L1512.5 254.4 L1511.5 255 L1510.5 255.6 L1509.4 256.3 L1508.4 256.9 L1507.4 257.6 L1506.3 258.3 L1505.3 259 L1504.3 259.7 L1503.2 260.5 L1502.2 261.2 L1501.1 262 L1500.1 262.8 L1499.1 263.6 L1498 264.5 L1497 265.3 L1496 266.2 L1494.9 267.1 L1493.9 268 L1492.9 269 L1491.8 269.9 L1490.8 270.9 L1489.8 272 L1488.7 273 L1487.7 274.1 L1486.7 275.2 L1485.6 276.3 L1484.6 277.5 L1483.6 278.7 L1482.5 279.9 L1481.5 281.1 L1480.4 282.4 L1479.4 283.7 L1478.4 285.1 L1477.3 286.5 L1476.3 288 L1476 288.3 L1475.8 288.7 L1475.5 289.1 L1475.2 289.5 L1474.9 289.9 L1474.7 290.3 L1474.4 290.6 L1474.1 291 L1473.9 291.4 L1473.6 291.8 L1473.3 292.1 L1473 292.4 L1472.8 292.8 L1472.5 293.1 L1472.2 293.3 L1472 293.6 L1471.7 293.8 L1471.4 293.9 L1471.1 294 L1470.9 294 L1470.6 293.9 L1470.3 293.8 L1470 293.4 L1469.8 292.9 L1469.5 292.2 L1469.2 291.3 L1469 290 L1468.7 288.4 L1468.4 286.4 L1468.1 283.7 L1467.9 280.4 L1467.6 276.3 L1467.3 271.2 L1467.1 264.8 L1466.8 257Z" fill="#0000ff" fill-opacity="0.1" stroke="none"/><line x1="1466.22" y1="260.66" x2="1471.28" y2="260.66" stroke="#ff0000" stroke-opacity="0.2" stroke-width="4"/><line x1="1471.28" y1="281.11" x2="1486.68" y2="281.11" stroke="#ff0000" stroke-opacity="0.2" stroke-width="4"/><line x1="1486.68" y1="236.95" x2="1668.24" y2="236.95" stroke="#ff0000" stroke-opacity="0.2" stroke-width="4"/><line x1="1468.69" y1="246.28" x2="1468.69" y2="265.94" stroke="#ff0000" stroke-opacity="0.8" stroke-width="2.3"/><circle cx="1468.69" cy="260.66" r="3.7" fill="#ff0000" fill-opacity="0.8"/><line x1="1479.04" y1="272.69" x2="1479.04" y2="290.1" stroke="#ff0000" stroke-opacity="0.8" stroke-width="2.3"/><circle cx="1479.04" cy="281.11" r="3.7" fill="#ff0000" fill-opacity="0.8"/><line x1="1577.52" y1="232.23" x2="1577.52" y2="241.22" stroke="#ff0000" stroke-opacity="0.8" stroke-width="2.3"/><circle cx="1577.52" cy="236.95" r="3.7" fill="#ff0000" fill-opacity="0.8"/><line x1="1466.22" y1="273.25" x2="1471.28" y2="273.25" stroke="#0000ff" stroke-opacity="0.2" stroke-width="4"/><line x1="1471.28" y1="278.53" x2="1486.68" y2="278.53" stroke="#0000ff" stroke-opacity="0.2" stroke-width="4"/><line x1="1486.68" y1="233.69" x2="1668.24" y2="233.69" stroke="#0000ff" stroke-opacity="0.2" stroke-width="4"/><line x1="1468.69" y1="247.4" x2="1468.69" y2="278.3" stroke="#0000ff" stroke-opacity="0.8" stroke-width="2.3"/><circle cx="1468.69" cy="273.25" r="3.7" fill="#0000ff" fill-opacity="0.8"/><line x1="1479.04" y1="268.75" x2="1479.04" y2="285.05" stroke="#0000ff" stroke-opacity="0.8" stroke-width="2.3"/><circle cx="1479.04" cy="278.53" r="3.7" fill="#0000ff" fill-opacity="0.8"/><line x1="1577.52" y1="221.56" x2="1577.52" y2="246.28" stroke="#0000ff" stroke-opacity="0.8" stroke-width="2.3"/><circle cx="1577.52" cy="233.69" r="3.7" fill="#0000ff" fill-opacity="0.8"/><path d="M1466.8 246.8 L1467.1 254.7 L1467.3 261.3 L1467.6 266.8 L1467.9 271.3 L1468.1 275 L1468.4 278 L1468.7 280.5 L1469 282.4 L1469.2 284 L1469.5 285.2 L1469.8 286.2 L1470 286.9 L1470.3 287.4 L1470.6 287.7 L1470.9 287.9 L1471.1 287.9 L1471.4 287.9 L1471.7 287.8 L1472 287.6 L1472.2 287.3 L1472.5 287 L1472.8 286.7 L1473 286.3 L1473.3 286 L1473.6 285.6 L1473.9 285.1 L1474.1 284.7 L1474.4 284.3 L1474.7 283.8 L1474.9 283.3 L1475.2 282.9 L1475.5 282.4 L1475.8 281.9 L1476 281.4 L1476.3 280.9 L1477.3 279.1 L1478.4 277.2 L1479.4 275.4 L1480.4 273.5 L1481.5 271.7 L1482.5 269.9 L1483.6 268.2 L1484.6 266.5 L1485.6 264.8 L1486.7 263.2 L1487.7 261.7 L1488.7 260.2 L1489.8 258.8 L1490.8 257.4 L1491.8 256.1 L1492.9 254.9 L1493.9 253.7 L1494.9 252.5 L1496 251.3 L1497 250.2 L1498 249.2 L1499.1 248.1 L1500.1 247.1 L1501.1 246.1 L1502.2 245.2 L1503.2 244.3 L1504.3 243.4 L1505.3 242.6 L1506.3 241.8 L1507.4 241 L1508.4 240.2 L1509.4 239.5 L1510.5 238.7 L1511.5 238.1 L1512.5 237.4 L1513.6 236.7 L1514.6 236.1 L1515.6 235.5 L1516.7 234.9 L1523.3 231.8 L1529.8 229.4 L1536.4 227.4 L1543 225.7 L1549.6 224.3 L1556.2 223.1 L1562.7 222.1 L1569.3 221.3 L1575.9 220.7 L1582.5 220.2 L1589.1 219.8 L1595.6 219.5 L1602.2 219.2 L1608.8 219 L1615.4 218.8 L1622 218.6 L1628.5 218.5 L1635.1 218.4 L1641.7 218.3 L1648.3 218.2 L1654.9 218.1 L1661.4 218 L1668 218" fill="none" stroke="#0000ff" stroke-width="2" stroke-linejoin="round"/><text x="1568.02" y="180.1" font-size="27.2" fill="#000" text-anchor="middle">Kenya (55)</text></g>
<g><path d="M1683.97 304.15H1906.55M1683.97 290.24H1906.55M1683.97 276.34H1906.55M1683.97 262.43H1906.55M1683.97 248.53H1906.55M1683.97 234.62H1906.55M1683.97 220.71H1906.55M1683.97 206.81H1906.55M1683.97 192.9H1906.55M1694.06 187.34V309.71M1719.28 187.34V309.71M1744.51 187.34V309.71M1769.73 187.34V309.71M1794.96 187.34V309.71M1820.18 187.34V309.71M1845.41 187.34V309.71M1870.63 187.34V309.71M1895.86 187.34V309.71" stroke="#ebebeb" stroke-width="2" fill="none"/><path d="M1694.4 216.5 L1694.7 234.4 L1695 246.1 L1695.2 253.2 L1695.5 257.6 L1695.8 259.7 L1696.1 260.2 L1696.3 259.7 L1696.6 258.5 L1696.9 256.8 L1697.2 254.9 L1697.5 252.8 L1697.7 250.6 L1698 248.3 L1698.3 246.1 L1698.6 244 L1698.9 241.9 L1699.1 239.9 L1699.4 237.9 L1699.7 236.1 L1700 234.3 L1700.2 232.6 L1700.5 231 L1700.8 229.4 L1701.1 228 L1701.4 226.6 L1701.6 225.2 L1701.9 224 L1702.2 222.7 L1702.5 221.6 L1702.8 220.5 L1703 219.5 L1703.3 218.5 L1703.6 217.5 L1703.9 216.6 L1704.1 215.7 L1705.2 212.7 L1706.2 209.8 L1707.3 207.2 L1708.3 205 L1709.3 203.3 L1710.4 202.1 L1711.4 201.2 L1712.4 200.5 L1713.5 199.9 L1714.5 199.5 L1715.5 199.1 L1716.6 198.8 L1717.6 198.6 L1718.6 198.5 L1719.7 198.4 L1720.7 198.3 L1721.7 198.3 L1722.8 198.2 L1723.8 198.2 L1724.8 198.3 L1725.9 198.3 L1726.9 198.3 L1728 198.4 L1729 198.4 L1730 198.5 L1731.1 198.5 L1732.1 198.6 L1733.1 198.6 L1734.2 198.7 L1735.2 198.7 L1736.2 198.8 L1737.3 198.8 L1738.3 198.8 L1739.3 198.9 L1740.4 198.9 L1741.4 198.9 L1742.4 198.9 L1743.5 198.9 L1744.5 198.9 L1751.1 198.9 L1757.7 198.9 L1764.3 198.9 L1770.8 198.9 L1777.4 198.9 L1784 198.9 L1790.6 198.9 L1797.2 198.9 L1803.7 198.9 L1810.3 198.9 L1816.9 198.9 L1823.5 198.9 L1830.1 198.9 L1836.6 198.9 L1843.2 198.9 L1849.8 198.9 L1856.4 198.8 L1863 198.8 L1869.5 198.8 L1876.1 198.8 L1882.7 198.8 L1889.3 198.8 L1895.9 198.8 L1895.9 203.1 L1889.3 203.1 L1882.7 203.1 L1876.1 203.1 L1869.5 203.1 L1863 203.1 L1856.4 203.1 L1849.8 203.1 L1843.2 203.1 L1836.6 203.1 L1830.1 203.1 L1823.5 203.1 L1816.9 203.1 L1810.3 203.1 L1803.7 203.1 L1797.2 203.1 L1790.6 203.2 L1784 203.2 L1777.4 203.3 L1770.8 203.4 L1764.3 203.6 L1757.7 203.9 L1751.1 204.4 L1744.5 205.2 L1743.5 205.4 L1742.4 205.6 L1741.4 205.8 L1740.4 206 L1739.3 206.2 L1738.3 206.5 L1737.3 206.8 L1736.2 207.1 L1735.2 207.4 L1734.2 207.8 L1733.1 208.1 L1732.1 208.5 L1731.1 209 L1730 209.5 L1729 210 L1728 210.6 L1726.9 211.2 L1725.9 211.9 L1724.8 212.6 L1723.8 213.4 L1722.8 214.2 L1721.7 215.1 L1720.7 216.1 L1719.7 217.2 L1718.6 218.4 L1717.6 219.6 L1716.6 221 L1715.5 222.4 L1714.5 224 L1713.5 225.7 L1712.4 227.6 L1711.4 229.6 L1710.4 231.8 L1709.3 234.2 L1708.3 236.8 L1707.3 239.6 L1706.2 242.6 L1705.2 245.9 L1704.1 249.5 L1703.9 250.5 L1703.6 251.5 L1703.3 252.5 L1703 253.6 L1702.8 254.7 L1702.5 255.8 L1702.2 256.9 L1701.9 258.1 L1701.6 259.3 L1701.4 260.5 L1701.1 261.7 L1700.8 262.9 L1700.5 264.1 L1700.2 265.4 L1700 266.6 L1699.7 267.9 L1699.4 269.1 L1699.1 270.3 L1698.9 271.5 L1698.6 272.7 L1698.3 273.7 L1698 274.7 L1697.7 275.6 L1697.5 276.2 L1697.2 276.6 L1696.9 276.8 L1696.6 276.5 L1696.3 275.7 L1696.1 274.2 L1695.8 271.8 L1695.5 268.4 L1695.2 263.5 L1695 256.8 L1694.7 247.7 L1694.4 235.6Z" fill="#0000ff" fill-opacity="0.1" stroke="none"/><line x1="1703.95" y1="222.9" x2="1734.53" y2="222.9" stroke="#ff0000" stroke-opacity="0.2" stroke-width="4"/><line x1="1734.31" y1="194.92" x2="1754.54" y2="194.92" stroke="#ff0000" stroke-opacity="0.2" stroke-width="4"/><line x1="1754.54" y1="195.37" x2="1895.64" y2="195.37" stroke="#ff0000" stroke-opacity="0.2" stroke-width="4"/><line x1="1719.36" y1="218.75" x2="1719.36" y2="228.86" stroke="#ff0000" stroke-opacity="0.8" stroke-width="2.3"/><circle cx="1719.36" cy="222.9" r="3.7" fill="#ff0000" fill-opacity="0.8"/><line x1="1744.43" y1="192.9" x2="1744.43" y2="198.52" stroke="#ff0000" stroke-opacity="0.8" stroke-width="2.3"/><circle cx="1744.43" cy="194.92" r="3.7" fill="#ff0000" fill-opacity="0.8"/><line x1="1825.15" y1="193.46" x2="1825.15" y2="197.96" stroke="#ff0000" stroke-opacity="0.8" stroke-width="2.3"/><circle cx="1825.15" cy="195.37" r="3.7" fill="#ff0000" fill-opacity="0.8"/><line x1="1703.95" y1="210.66" x2="1734.53" y2="210.66" stroke="#0000ff" stroke-opacity="0.2" stroke-width="4"/><line x1="1734.31" y1="201.89" x2="1754.54" y2="201.89" stroke="#0000ff" stroke-opacity="0.2" stroke-width="4"/><line x1="1754.54" y1="201.1" x2="1895.64" y2="201.1" stroke="#0000ff" stroke-opacity="0.2" stroke-width="4"/><line x1="1719.36" y1="201.33" x2="1719.36" y2="218.75" stroke="#0000ff" stroke-opacity="0.8" stroke-width="2.3"/><circle cx="1719.36" cy="210.66" r="3.7" fill="#0000ff" fill-opacity="0.8"/><line x1="1744.43" y1="200.2" x2="1744.43" y2="204.14" stroke="#0000ff" stroke-opacity="0.8" stroke-width="2.3"/><circle cx="1744.43" cy="201.89" r="3.7" fill="#0000ff" fill-opacity="0.8"/><line x1="1825.15" y1="199.64" x2="1825.15" y2="203.01" stroke="#0000ff" stroke-opacity="0.8" stroke-width="2.3"/><circle cx="1825.15" cy="201.1" r="3.7" fill="#0000ff" fill-opacity="0.8"/><path d="M1694.4 226.1 L1694.7 237.9 L1695 246.9 L1695.2 253.7 L1695.5 258.5 L1695.8 262 L1696.1 264.3 L1696.3 265.7 L1696.6 266.4 L1696.9 266.5 L1697.2 266.2 L1697.5 265.6 L1697.7 264.7 L1698 263.7 L1698.3 262.5 L1698.6 261.1 L1698.9 259.7 L1699.1 258.3 L1699.4 256.8 L1699.7 255.3 L1700 253.8 L1700.2 252.4 L1700.5 250.9 L1700.8 249.4 L1701.1 248 L1701.4 246.6 L1701.6 245.3 L1701.9 243.9 L1702.2 242.6 L1702.5 241.4 L1702.8 240.2 L1703 239 L1703.3 237.8 L1703.6 236.7 L1703.9 235.6 L1704.1 234.6 L1705.2 231 L1706.2 227.8 L1707.3 225 L1708.3 222.5 L1709.3 220.3 L1710.4 218.3 L1711.4 216.7 L1712.4 215.2 L1713.5 214 L1714.5 213 L1715.5 212 L1716.6 211.2 L1717.6 210.4 L1718.6 209.7 L1719.7 209 L1720.7 208.3 L1721.7 207.7 L1722.8 207.2 L1723.8 206.7 L1724.8 206.2 L1725.9 205.8 L1726.9 205.4 L1728 205.1 L1729 204.8 L1730 204.5 L1731.1 204.2 L1732.1 203.9 L1733.1 203.7 L1734.2 203.5 L1735.2 203.2 L1736.2 203 L1737.3 202.8 L1738.3 202.6 L1739.3 202.5 L1740.4 202.3 L1741.4 202.2 L1742.4 202.1 L1743.5 202 L1744.5 201.9 L1751.1 201.6 L1757.7 201.4 L1764.3 201.3 L1770.8 201.2 L1777.4 201.2 L1784 201.2 L1790.6 201.2 L1797.2 201.2 L1803.7 201.1 L1810.3 201.1 L1816.9 201.1 L1823.5 201.1 L1830.1 201.1 L1836.6 201.1 L1843.2 201.1 L1849.8 201.1 L1856.4 201.1 L1863 201.1 L1869.5 201.1 L1876.1 201.1 L1882.7 201.1 L1889.3 201.1 L1895.9 201.1" fill="none" stroke="#0000ff" stroke-width="2" stroke-linejoin="round"/><text x="1795.86" y="180.1" font-size="27.2" fill="#000" text-anchor="middle">Kenya (56)</text></g>
<g><path d="M772.61 487.15H995.19M772.61 473.24H995.19M772.61 459.34H995.19M772.61 445.43H995.19M772.61 431.52H995.19M772.61 417.62H995.19M772.61 403.71H995.19M772.61 389.81H995.19M772.61 375.9H995.19M782.7 370.34V492.71M807.93 370.34V492.71M833.15 370.34V492.71M858.38 370.34V492.71M883.6 370.34V492.71M908.83 370.34V492.71M934.05 370.34V492.71M959.28 370.34V492.71M984.5 370.34V492.71" stroke="#ebebeb" stroke-width="2" fill="none"/><path d="M782.9 416.4 L783.2 425 L783.5 432.3 L783.8 438.4 L784.1 443.6 L784.3 447.9 L784.6 451.4 L784.9 454.3 L785.2 456.7 L785.5 458.6 L785.7 460.2 L786 461.3 L786.3 462.2 L786.6 462.9 L786.9 463.3 L787.2 463.5 L787.4 463.6 L787.7 463.6 L788 463.4 L788.3 463.2 L788.6 462.8 L788.8 462.4 L789.1 462 L789.4 461.5 L789.7 460.9 L790 460.3 L790.3 459.7 L790.5 459.1 L790.8 458.5 L791.1 457.8 L791.4 457.1 L791.7 456.4 L791.9 455.8 L792.2 455.1 L792.5 454.4 L792.8 453.7 L793.8 451.2 L794.9 448.7 L795.9 446.3 L796.9 443.9 L798 441.7 L799 439.6 L800 437.5 L801.1 435.5 L802.1 433.6 L803.1 431.8 L804.2 430.1 L805.2 428.5 L806.2 426.9 L807.3 425.4 L808.3 423.9 L809.3 422.6 L810.4 421.3 L811.4 420 L812.5 418.8 L813.5 417.7 L814.5 416.6 L815.6 415.6 L816.6 414.6 L817.6 413.7 L818.7 412.8 L819.7 412 L820.7 411.1 L821.8 410.4 L822.8 409.6 L823.8 408.9 L824.9 408.2 L825.9 407.6 L826.9 406.9 L828 406.3 L829 405.8 L830 405.2 L831.1 404.7 L832.1 404.1 L833.2 403.6 L839.7 400.9 L846.3 398.8 L852.9 397.2 L859.5 396 L866.1 395.1 L872.6 394.4 L879.2 393.9 L885.8 393.5 L892.4 393.1 L899 392.9 L905.5 392.7 L912.1 392.5 L918.7 392.4 L925.3 392.2 L931.9 392.1 L938.4 392 L945 391.9 L951.6 391.9 L958.2 391.8 L964.8 391.7 L971.3 391.6 L977.9 391.6 L984.5 391.5 L984.5 401.5 L977.9 401.5 L971.3 401.5 L964.8 401.5 L958.2 401.6 L951.6 401.6 L945 401.7 L938.4 401.7 L931.9 401.8 L925.3 402 L918.7 402.1 L912.1 402.3 L905.5 402.6 L899 403 L892.4 403.4 L885.8 403.9 L879.2 404.6 L872.6 405.4 L866.1 406.4 L859.5 407.7 L852.9 409.3 L846.3 411.3 L839.7 413.8 L833.2 417 L832.1 417.5 L831.1 418.2 L830 418.8 L829 419.4 L828 420.1 L826.9 420.8 L825.9 421.6 L824.9 422.4 L823.8 423.2 L822.8 424 L821.8 424.9 L820.7 425.8 L819.7 426.7 L818.7 427.6 L817.6 428.6 L816.6 429.6 L815.6 430.7 L814.5 431.8 L813.5 432.9 L812.5 434 L811.4 435.2 L810.4 436.4 L809.3 437.6 L808.3 438.9 L807.3 440.1 L806.2 441.5 L805.2 442.8 L804.2 444.2 L803.1 445.7 L802.1 447.2 L801.1 448.7 L800 450.3 L799 452 L798 453.7 L796.9 455.5 L795.9 457.3 L794.9 459.2 L793.8 461.1 L792.8 463.1 L792.5 463.7 L792.2 464.2 L791.9 464.8 L791.7 465.3 L791.4 465.9 L791.1 466.5 L790.8 467.1 L790.5 467.6 L790.3 468.2 L790 468.8 L789.7 469.3 L789.4 469.9 L789.1 470.4 L788.8 470.9 L788.6 471.4 L788.3 471.9 L788 472.4 L787.7 472.8 L787.4 473.1 L787.2 473.4 L786.9 473.6 L786.6 473.7 L786.3 473.6 L786 473.4 L785.7 472.9 L785.5 472.2 L785.2 471.2 L784.9 469.7 L784.6 467.7 L784.3 465.1 L784.1 461.7 L783.8 457.3 L783.5 451.6 L783.2 444.5 L782.9 435.5Z" fill="#0000ff" fill-opacity="0.1" stroke="none"/><line x1="782.92" y1="447.59" x2="822.95" y2="447.59" stroke="#ff0000" stroke-opacity="0.2" stroke-width="4"/><line x1="823.17" y1="422.2" x2="853.53" y2="422.2" stroke="#ff0000" stroke-opacity="0.2" stroke-width="4"/><line x1="853.19" y1="395.34" x2="984.84" y2="395.34" stroke="#ff0000" stroke-opacity="0.2" stroke-width="4"/><line x1="802.94" y1="443.32" x2="802.94" y2="452.88" stroke="#ff0000" stroke-opacity="0.8" stroke-width="2.3"/><circle cx="802.94" cy="447.59" r="3.7" fill="#ff0000" fill-opacity="0.8"/><line x1="838.12" y1="416.35" x2="838.12" y2="435.8" stroke="#ff0000" stroke-opacity="0.8" stroke-width="2.3"/><circle cx="838.12" cy="422.2" r="3.7" fill="#ff0000" fill-opacity="0.8"/><line x1="918.96" y1="392.19" x2="918.96" y2="398.37" stroke="#ff0000" stroke-opacity="0.8" stroke-width="2.3"/><circle cx="918.96" cy="395.34" r="3.7" fill="#ff0000" fill-opacity="0.8"/><line x1="782.92" y1="439.39" x2="822.95" y2="439.39" stroke="#0000ff" stroke-opacity="0.2" stroke-width="4"/><line x1="823.17" y1="410.74" x2="853.53" y2="410.74" stroke="#0000ff" stroke-opacity="0.2" stroke-width="4"/><line x1="853.19" y1="399.5" x2="984.84" y2="399.5" stroke="#0000ff" stroke-opacity="0.2" stroke-width="4"/><line x1="802.94" y1="431.52" x2="802.94" y2="445.57" stroke="#0000ff" stroke-opacity="0.8" stroke-width="2.3"/><circle cx="802.94" cy="439.39" r="3.7" fill="#0000ff" fill-opacity="0.8"/><line x1="838.12" y1="403.43" x2="838.12" y2="417.48" stroke="#0000ff" stroke-opacity="0.8" stroke-width="2.3"/><circle cx="838.12" cy="410.74" r="3.7" fill="#0000ff" fill-opacity="0.8"/><line x1="918.96" y1="395" x2="918.96" y2="404.56" stroke="#0000ff" stroke-opacity="0.8" stroke-width="2.3"/><circle cx="918.96" cy="399.5" r="3.7" fill="#0000ff" fill-opacity="0.8"/><path d="M782.9 425.3 L783.2 433.8 L783.5 440.8 L783.8 446.7 L784.1 451.5 L784.3 455.4 L784.6 458.6 L784.9 461.2 L785.2 463.2 L785.5 464.9 L785.7 466.1 L786 467 L786.3 467.7 L786.6 468.2 L786.9 468.4 L787.2 468.6 L787.4 468.5 L787.7 468.4 L788 468.2 L788.3 467.9 L788.6 467.5 L788.8 467.1 L789.1 466.7 L789.4 466.2 L789.7 465.7 L790 465.2 L790.3 464.6 L790.5 464.1 L790.8 463.5 L791.1 462.9 L791.4 462.3 L791.7 461.7 L791.9 461.1 L792.2 460.5 L792.5 459.9 L792.8 459.3 L793.8 457.1 L794.9 454.9 L795.9 452.8 L796.9 450.7 L798 448.7 L799 446.7 L800 444.8 L801.1 443 L802.1 441.3 L803.1 439.6 L804.2 438.1 L805.2 436.7 L806.2 435.3 L807.3 434 L808.3 432.6 L809.3 431.3 L810.4 430.1 L811.4 428.8 L812.5 427.6 L813.5 426.5 L814.5 425.3 L815.6 424.3 L816.6 423.2 L817.6 422.2 L818.7 421.2 L819.7 420.3 L820.7 419.4 L821.8 418.5 L822.8 417.6 L823.8 416.7 L824.9 415.9 L825.9 415 L826.9 414.2 L828 413.5 L829 412.7 L830 412 L831.1 411.4 L832.1 410.8 L833.2 410.2 L839.7 407.2 L846.3 405.1 L852.9 403.4 L859.5 402.1 L866.1 401.1 L872.6 400.3 L879.2 399.6 L885.8 399.1 L892.4 398.7 L899 398.4 L905.5 398.2 L912.1 398 L918.7 397.8 L925.3 397.7 L931.9 397.6 L938.4 397.5 L945 397.4 L951.6 397.3 L958.2 397.3 L964.8 397.2 L971.3 397.1 L977.9 397.1 L984.5 397" fill="none" stroke="#0000ff" stroke-width="2" stroke-linejoin="round"/><text x="884.5" y="363.95" font-size="27.2" fill="#000" text-anchor="middle">Kenya (57)</text><text x="768" y="497.8" font-size="27.4" fill="#4d4d4d" text-anchor="end">0.00</text><text x="768" y="469.99" font-size="27.4" fill="#4d4d4d" text-anchor="end">0.25</text><text x="768" y="442.17" font-size="27.4" fill="#4d4d4d" text-anchor="end">0.50</text><text x="768" y="414.36" font-size="27.4" fill="#4d4d4d" text-anchor="end">0.75</text><text x="768" y="386.55" font-size="27.4" fill="#4d4d4d" text-anchor="end">1.00</text></g>
<g><path d="M1000.45 487.15H1223.03M1000.45 473.24H1223.03M1000.45 459.34H1223.03M1000.45 445.43H1223.03M1000.45 431.52H1223.03M1000.45 417.62H1223.03M1000.45 403.71H1223.03M1000.45 389.81H1223.03M1000.45 375.9H1223.03M1010.54 370.34V492.71M1035.77 370.34V492.71M1060.99 370.34V492.71M1086.22 370.34V492.71M1111.44 370.34V492.71M1136.66 370.34V492.71M1161.89 370.34V492.71M1187.12 370.34V492.71M1212.34 370.34V492.71" stroke="#ebebeb" stroke-width="2" fill="none"/><path d="M1011 410.7 L1011.3 424.2 L1011.5 434.6 L1011.8 442.5 L1012.1 448.6 L1012.4 453.1 L1012.6 456.4 L1012.9 458.8 L1013.2 460.3 L1013.5 461.3 L1013.7 461.9 L1014 462 L1014.3 461.9 L1014.6 461.5 L1014.8 461 L1015.1 460.3 L1015.4 459.5 L1015.7 458.6 L1015.9 457.7 L1016.2 456.7 L1016.5 455.6 L1016.8 454.6 L1017 453.5 L1017.3 452.4 L1017.6 451.4 L1017.9 450.3 L1018.2 449.2 L1018.4 448.2 L1018.7 447.2 L1019 446.1 L1019.3 445.1 L1019.5 444.2 L1019.8 443.2 L1020.1 442.3 L1020.4 441.3 L1020.6 440.4 L1021.7 437.2 L1022.7 434.2 L1023.7 431.5 L1024.8 428.9 L1025.8 426.6 L1026.8 424.3 L1027.9 422.3 L1028.9 420.4 L1029.9 418.5 L1031 416.8 L1032 415.2 L1033 413.7 L1034.1 412.3 L1035.1 410.9 L1036.2 409.6 L1037.2 408.3 L1038.2 407.2 L1039.3 406.1 L1040.3 405 L1041.3 404 L1042.4 403.1 L1043.4 402.2 L1044.4 401.4 L1045.5 400.6 L1046.5 399.9 L1047.5 399.2 L1048.6 398.5 L1049.6 397.9 L1050.6 397.3 L1051.7 396.8 L1052.7 396.3 L1053.7 395.8 L1054.8 395.4 L1055.8 395 L1056.9 394.6 L1057.9 394.2 L1058.9 393.9 L1060 393.6 L1061 393.3 L1067.6 391.9 L1074.2 391 L1080.7 390.4 L1087.3 390 L1093.9 389.7 L1100.5 389.5 L1107.1 389.4 L1113.6 389.3 L1120.2 389.3 L1126.8 389.2 L1133.4 389.2 L1140 389.2 L1146.5 389.2 L1153.1 389.1 L1159.7 389.1 L1166.3 389.1 L1172.9 389 L1179.4 389 L1186 389 L1192.6 389 L1199.2 388.9 L1205.8 388.9 L1212.3 388.9 L1212.3 406 L1205.8 406.1 L1199.2 406.3 L1192.6 406.4 L1186 406.6 L1179.4 406.8 L1172.9 407.1 L1166.3 407.3 L1159.7 407.6 L1153.1 408 L1146.5 408.4 L1140 408.9 L1133.4 409.4 L1126.8 410.1 L1120.2 410.9 L1113.6 411.8 L1107.1 412.8 L1100.5 414.1 L1093.9 415.6 L1087.3 417.3 L1080.7 419.4 L1074.2 421.9 L1067.6 424.8 L1061 428.3 L1060 428.8 L1058.9 429.4 L1057.9 430.1 L1056.9 430.7 L1055.8 431.3 L1054.8 431.9 L1053.7 432.6 L1052.7 433.3 L1051.7 434 L1050.6 434.7 L1049.6 435.4 L1048.6 436.1 L1047.5 436.9 L1046.5 437.6 L1045.5 438.4 L1044.4 439.3 L1043.4 440.1 L1042.4 441 L1041.3 441.9 L1040.3 442.9 L1039.3 443.8 L1038.2 444.8 L1037.2 445.9 L1036.2 447 L1035.1 448.1 L1034.1 449.3 L1033 450.5 L1032 451.8 L1031 453.1 L1029.9 454.4 L1028.9 455.7 L1027.9 457.1 L1026.8 458.6 L1025.8 460.1 L1024.8 461.6 L1023.7 463.2 L1022.7 464.8 L1021.7 466.5 L1020.6 468.2 L1020.4 468.6 L1020.1 469.1 L1019.8 469.5 L1019.5 470 L1019.3 470.4 L1019 470.9 L1018.7 471.4 L1018.4 471.8 L1018.2 472.3 L1017.9 472.7 L1017.6 473.1 L1017.3 473.5 L1017 474 L1016.8 474.3 L1016.5 474.7 L1016.2 475 L1015.9 475.3 L1015.7 475.6 L1015.4 475.8 L1015.1 475.9 L1014.8 475.9 L1014.6 475.9 L1014.3 475.6 L1014 475.3 L1013.7 474.7 L1013.5 473.8 L1013.2 472.6 L1012.9 471 L1012.6 469 L1012.4 466.3 L1012.1 462.9 L1011.8 458.6 L1011.5 453.1 L1011.3 446.3 L1011 437.7Z" fill="#0000ff" fill-opacity="0.1" stroke="none"/><line x1="1010.76" y1="455.12" x2="1030.78" y2="455.12" stroke="#ff0000" stroke-opacity="0.2" stroke-width="4"/><line x1="1030.44" y1="411.3" x2="1212.9" y2="411.3" stroke="#ff0000" stroke-opacity="0.2" stroke-width="4"/><line x1="1020.55" y1="425.34" x2="1020.55" y2="475.35" stroke="#ff0000" stroke-opacity="0.8" stroke-width="2.3"/><circle cx="1020.55" cy="455.12" r="3.7" fill="#ff0000" fill-opacity="0.8"/><line x1="1121.5" y1="406.24" x2="1121.5" y2="416.35" stroke="#ff0000" stroke-opacity="0.8" stroke-width="2.3"/><circle cx="1121.5" cy="411.3" r="3.7" fill="#ff0000" fill-opacity="0.8"/><line x1="1010.76" y1="454.9" x2="1030.78" y2="454.9" stroke="#0000ff" stroke-opacity="0.2" stroke-width="4"/><line x1="1030.44" y1="409.39" x2="1212.9" y2="409.39" stroke="#0000ff" stroke-opacity="0.2" stroke-width="4"/><line x1="1020.55" y1="442.2" x2="1020.55" y2="464.68" stroke="#0000ff" stroke-opacity="0.8" stroke-width="2.3"/><circle cx="1020.55" cy="454.9" r="3.7" fill="#0000ff" fill-opacity="0.8"/><line x1="1121.5" y1="395.57" x2="1121.5" y2="423.1" stroke="#0000ff" stroke-opacity="0.8" stroke-width="2.3"/><circle cx="1121.5" cy="409.39" r="3.7" fill="#0000ff" fill-opacity="0.8"/><path d="M1011 425.3 L1011.3 434.2 L1011.5 441.5 L1011.8 447.4 L1012.1 452.3 L1012.4 456.2 L1012.6 459.4 L1012.9 461.9 L1013.2 463.9 L1013.5 465.4 L1013.7 466.6 L1014 467.4 L1014.3 468 L1014.6 468.3 L1014.8 468.5 L1015.1 468.5 L1015.4 468.4 L1015.7 468.2 L1015.9 467.9 L1016.2 467.6 L1016.5 467.1 L1016.8 466.6 L1017 466.1 L1017.3 465.5 L1017.6 464.9 L1017.9 464.3 L1018.2 463.6 L1018.4 463 L1018.7 462.3 L1019 461.7 L1019.3 461 L1019.5 460.3 L1019.8 459.7 L1020.1 459 L1020.4 458.4 L1020.6 457.7 L1021.7 455.4 L1022.7 453 L1023.7 450.8 L1024.8 448.7 L1025.8 446.6 L1026.8 444.6 L1027.9 442.8 L1028.9 441 L1029.9 439.3 L1031 437.6 L1032 436.1 L1033 434.6 L1034.1 433.2 L1035.1 431.9 L1036.2 430.6 L1037.2 429.3 L1038.2 428.2 L1039.3 427.1 L1040.3 426.1 L1041.3 425.1 L1042.4 424.1 L1043.4 423.2 L1044.4 422.4 L1045.5 421.5 L1046.5 420.7 L1047.5 419.9 L1048.6 419.1 L1049.6 418.3 L1050.6 417.5 L1051.7 416.8 L1052.7 416.1 L1053.7 415.4 L1054.8 414.8 L1055.8 414.1 L1056.9 413.5 L1057.9 413 L1058.9 412.4 L1060 411.8 L1061 411.3 L1067.6 408.3 L1074.2 405.7 L1080.7 403.7 L1087.3 402.1 L1093.9 400.7 L1100.5 399.6 L1107.1 398.8 L1113.6 398.2 L1120.2 397.8 L1126.8 397.6 L1133.4 397.4 L1140 397.3 L1146.5 397.2 L1153.1 397.1 L1159.7 397 L1166.3 397 L1172.9 396.9 L1179.4 396.8 L1186 396.8 L1192.6 396.7 L1199.2 396.6 L1205.8 396.5 L1212.3 396.5" fill="none" stroke="#0000ff" stroke-width="2" stroke-linejoin="round"/><text x="1112.34" y="363.95" font-size="27.2" fill="#000" text-anchor="middle">Senegal (16)</text></g>
<g><path d="M1228.29 487.15H1450.87M1228.29 473.24H1450.87M1228.29 459.34H1450.87M1228.29 445.43H1450.87M1228.29 431.52H1450.87M1228.29 417.62H1450.87M1228.29 403.71H1450.87M1228.29 389.81H1450.87M1228.29 375.9H1450.87M1238.38 370.34V492.71M1263.61 370.34V492.71M1288.83 370.34V492.71M1314.06 370.34V492.71M1339.28 370.34V492.71M1364.51 370.34V492.71M1389.73 370.34V492.71M1414.96 370.34V492.71M1440.18 370.34V492.71" stroke="#ebebeb" stroke-width="2" fill="none"/><path d="M1238.9 399.5 L1239.2 416.2 L1239.5 427.6 L1239.8 435.3 L1240 440.1 L1240.3 442.9 L1240.6 444.3 L1240.8 444.6 L1241.1 444.1 L1241.4 443.2 L1241.7 441.8 L1241.9 440.2 L1242.2 438.5 L1242.5 436.6 L1242.8 434.7 L1243 432.9 L1243.3 431 L1243.6 429.1 L1243.8 427.3 L1244.1 425.6 L1244.4 423.9 L1244.7 422.3 L1244.9 420.7 L1245.2 419.1 L1245.5 417.7 L1245.7 416.2 L1246 414.9 L1246.3 413.5 L1246.6 412.3 L1246.8 411.1 L1247.1 409.9 L1247.4 408.8 L1247.7 407.7 L1247.9 406.6 L1248.2 405.6 L1248.5 404.6 L1249.5 401.2 L1250.5 398.1 L1251.6 395.4 L1252.6 393 L1253.6 390.9 L1254.7 389.1 L1255.7 387.5 L1256.7 386.2 L1257.8 385.1 L1258.8 384.3 L1259.9 383.6 L1260.9 383 L1261.9 382.5 L1263 382.2 L1264 381.9 L1265 381.6 L1266.1 381.4 L1267.1 381.3 L1268.1 381.1 L1269.2 381.1 L1270.2 381 L1271.2 381 L1272.3 381 L1273.3 381 L1274.3 381 L1275.4 381 L1276.4 381 L1277.4 381 L1278.5 381.1 L1279.5 381.1 L1280.6 381.1 L1281.6 381.2 L1282.6 381.2 L1283.7 381.2 L1284.7 381.2 L1285.7 381.2 L1286.8 381.2 L1287.8 381.2 L1288.8 381.2 L1295.4 381.2 L1302 381.2 L1308.6 381.2 L1315.2 381.2 L1321.7 381.2 L1328.3 381.2 L1334.9 381.2 L1341.5 381.2 L1348.1 381.2 L1354.6 381.2 L1361.2 381.2 L1367.8 381.1 L1374.4 381.1 L1381 381.1 L1387.5 381.1 L1394.1 381.1 L1400.7 381.1 L1407.3 381.1 L1413.9 381.1 L1420.4 381 L1427 381 L1433.6 381 L1440.2 381 L1440.2 388.8 L1433.6 388.7 L1427 388.7 L1420.4 388.6 L1413.9 388.6 L1407.3 388.5 L1400.7 388.5 L1394.1 388.4 L1387.5 388.4 L1381 388.3 L1374.4 388.3 L1367.8 388.3 L1361.2 388.2 L1354.6 388.2 L1348.1 388.2 L1341.5 388.1 L1334.9 388.1 L1328.3 388.2 L1321.7 388.3 L1315.2 388.4 L1308.6 388.7 L1302 389.2 L1295.4 389.9 L1288.8 391.1 L1287.8 391.3 L1286.8 391.6 L1285.7 391.8 L1284.7 392.1 L1283.7 392.4 L1282.6 392.8 L1281.6 393.1 L1280.6 393.5 L1279.5 393.9 L1278.5 394.4 L1277.4 394.9 L1276.4 395.4 L1275.4 395.9 L1274.3 396.5 L1273.3 397.2 L1272.3 397.9 L1271.2 398.6 L1270.2 399.4 L1269.2 400.2 L1268.1 401.1 L1267.1 402.1 L1266.1 403.1 L1265 404.3 L1264 405.5 L1263 406.8 L1261.9 408.3 L1260.9 410 L1259.9 411.9 L1258.8 413.9 L1257.8 416.1 L1256.7 418.3 L1255.7 420.5 L1254.7 422.7 L1253.6 425.1 L1252.6 427.6 L1251.6 430.3 L1250.5 433.2 L1249.5 436.2 L1248.5 439.5 L1248.2 440.4 L1247.9 441.3 L1247.7 442.2 L1247.4 443.2 L1247.1 444.1 L1246.8 445.1 L1246.6 446.1 L1246.3 447.1 L1246 448.1 L1245.7 449.2 L1245.5 450.2 L1245.2 451.3 L1244.9 452.4 L1244.7 453.5 L1244.4 454.6 L1244.1 455.7 L1243.8 456.8 L1243.6 458 L1243.3 459 L1243 460.1 L1242.8 461.1 L1242.5 462.1 L1242.2 462.9 L1241.9 463.6 L1241.7 464.2 L1241.4 464.4 L1241.1 464.3 L1240.8 463.7 L1240.6 462.4 L1240.3 460.2 L1240 456.8 L1239.8 451.8 L1239.5 444.7 L1239.2 434.7 L1238.9 420.8Z" fill="#0000ff" fill-opacity="0.1" stroke="none"/><line x1="1238.6" y1="375.9" x2="1258.84" y2="375.9" stroke="#ff0000" stroke-opacity="0.2" stroke-width="4"/><line x1="1258.84" y1="390.85" x2="1440.4" y2="390.85" stroke="#ff0000" stroke-opacity="0.2" stroke-width="4"/><line x1="1248.72" y1="375.9" x2="1248.72" y2="389.38" stroke="#ff0000" stroke-opacity="0.8" stroke-width="2.3"/><circle cx="1248.72" cy="375.9" r="3.7" fill="#ff0000" fill-opacity="0.8"/><line x1="1349.68" y1="388.26" x2="1349.68" y2="393.32" stroke="#ff0000" stroke-opacity="0.8" stroke-width="2.3"/><circle cx="1349.68" cy="390.85" r="3.7" fill="#ff0000" fill-opacity="0.8"/><line x1="1238.6" y1="428.72" x2="1258.84" y2="428.72" stroke="#0000ff" stroke-opacity="0.2" stroke-width="4"/><line x1="1258.84" y1="387.7" x2="1440.4" y2="387.7" stroke="#0000ff" stroke-opacity="0.2" stroke-width="4"/><line x1="1248.72" y1="407.36" x2="1248.72" y2="441.64" stroke="#0000ff" stroke-opacity="0.8" stroke-width="2.3"/><circle cx="1248.72" cy="428.72" r="3.7" fill="#0000ff" fill-opacity="0.8"/><line x1="1349.68" y1="381.52" x2="1349.68" y2="390.51" stroke="#0000ff" stroke-opacity="0.8" stroke-width="2.3"/><circle cx="1349.68" cy="387.7" r="3.7" fill="#0000ff" fill-opacity="0.8"/><path d="M1238.9 410.2 L1239.2 421.5 L1239.5 430.3 L1239.8 437.1 L1240 442.2 L1240.3 446 L1240.6 448.7 L1240.8 450.6 L1241.1 451.7 L1241.4 452.4 L1241.7 452.6 L1241.9 452.4 L1242.2 452 L1242.5 451.3 L1242.8 450.5 L1243 449.6 L1243.3 448.6 L1243.6 447.4 L1243.8 446.3 L1244.1 445.1 L1244.4 443.9 L1244.7 442.6 L1244.9 441.4 L1245.2 440.1 L1245.5 438.9 L1245.7 437.7 L1246 436.5 L1246.3 435.3 L1246.6 434.1 L1246.8 433 L1247.1 431.9 L1247.4 430.7 L1247.7 429.7 L1247.9 428.6 L1248.2 427.6 L1248.5 426.6 L1249.5 422.9 L1250.5 419.6 L1251.6 416.6 L1252.6 413.8 L1253.6 411.3 L1254.7 409 L1255.7 406.9 L1256.7 405 L1257.8 403.2 L1258.8 401.7 L1259.9 400.3 L1260.9 399 L1261.9 397.8 L1263 396.7 L1264 395.7 L1265 394.9 L1266.1 394.1 L1267.1 393.3 L1268.1 392.7 L1269.2 392.1 L1270.2 391.6 L1271.2 391.1 L1272.3 390.6 L1273.3 390.2 L1274.3 389.9 L1275.4 389.5 L1276.4 389.2 L1277.4 388.8 L1278.5 388.5 L1279.5 388.1 L1280.6 387.8 L1281.6 387.5 L1282.6 387.2 L1283.7 386.9 L1284.7 386.7 L1285.7 386.5 L1286.8 386.3 L1287.8 386.1 L1288.8 386 L1295.4 385.5 L1302 385.3 L1308.6 385.2 L1315.2 385.1 L1321.7 385.1 L1328.3 385 L1334.9 385 L1341.5 385 L1348.1 385 L1354.6 385 L1361.2 385 L1367.8 385 L1374.4 385 L1381 385 L1387.5 385 L1394.1 385 L1400.7 385 L1407.3 384.9 L1413.9 384.9 L1420.4 384.9 L1427 384.9 L1433.6 384.9 L1440.2 384.9" fill="none" stroke="#0000ff" stroke-width="2" stroke-linejoin="round"/><text x="1340.18" y="363.95" font-size="27.2" fill="#000" text-anchor="middle">Tunisia (16)</text></g>
<g><path d="M1456.13 487.15H1678.71M1456.13 473.24H1678.71M1456.13 459.34H1678.71M1456.13 445.43H1678.71M1456.13 431.52H1678.71M1456.13 417.62H1678.71M1456.13 403.71H1678.71M1456.13 389.81H1678.71M1456.13 375.9H1678.71M1466.22 370.34V492.71M1491.44 370.34V492.71M1516.67 370.34V492.71M1541.89 370.34V492.71M1567.12 370.34V492.71M1592.35 370.34V492.71M1617.57 370.34V492.71M1642.8 370.34V492.71M1668.02 370.34V492.71" stroke="#ebebeb" stroke-width="2" fill="none"/><path d="M1466.8 422 L1467.1 431.2 L1467.3 438.8 L1467.6 445.2 L1467.9 450.3 L1468.1 454.6 L1468.4 458.1 L1468.7 460.9 L1469 463.1 L1469.2 464.9 L1469.5 466.3 L1469.8 467.3 L1470 468.1 L1470.3 468.6 L1470.6 469 L1470.9 469.1 L1471.1 469.2 L1471.4 469.1 L1471.7 469 L1472 468.7 L1472.2 468.4 L1472.5 468 L1472.8 467.6 L1473 467.2 L1473.3 466.7 L1473.6 466.2 L1473.9 465.7 L1474.1 465.2 L1474.4 464.6 L1474.7 464.1 L1474.9 463.5 L1475.2 462.9 L1475.5 462.4 L1475.8 461.8 L1476 461.2 L1476.3 460.6 L1477.3 458.4 L1478.4 456.3 L1479.4 454.2 L1480.4 452.2 L1481.5 450.3 L1482.5 448.4 L1483.6 446.5 L1484.6 444.8 L1485.6 443.1 L1486.7 441.4 L1487.7 439.8 L1488.7 438.3 L1489.8 436.8 L1490.8 435.4 L1491.8 434 L1492.9 432.7 L1493.9 431.4 L1494.9 430.2 L1496 429 L1497 427.9 L1498 426.8 L1499.1 425.7 L1500.1 424.7 L1501.1 423.7 L1502.2 422.7 L1503.2 421.8 L1504.3 420.9 L1505.3 420.1 L1506.3 419.2 L1507.4 418.4 L1508.4 417.6 L1509.4 416.9 L1510.5 416.2 L1511.5 415.5 L1512.5 414.8 L1513.6 414.1 L1514.6 413.5 L1515.6 412.9 L1516.7 412.3 L1523.3 409 L1529.8 406.3 L1536.4 404.1 L1543 402.4 L1549.6 401 L1556.2 400 L1562.7 399.1 L1569.3 398.4 L1575.9 397.8 L1582.5 397.3 L1589.1 396.9 L1595.6 396.6 L1602.2 396.3 L1608.8 396.1 L1615.4 395.9 L1622 395.7 L1628.5 395.6 L1635.1 395.4 L1641.7 395.3 L1648.3 395.2 L1654.9 395.1 L1661.4 394.9 L1668 394.8 L1668 420.8 L1661.4 421 L1654.9 421.2 L1648.3 421.4 L1641.7 421.7 L1635.1 422.1 L1628.5 422.4 L1622 422.9 L1615.4 423.3 L1608.8 423.9 L1602.2 424.5 L1595.6 425.1 L1589.1 425.9 L1582.5 426.8 L1575.9 427.8 L1569.3 428.9 L1562.7 430.2 L1556.2 431.8 L1549.6 433.7 L1543 435.7 L1536.4 437.7 L1529.8 440 L1523.3 442.6 L1516.7 445.4 L1515.6 445.9 L1514.6 446.4 L1513.6 447 L1512.5 447.5 L1511.5 448 L1510.5 448.5 L1509.4 449.1 L1508.4 449.6 L1507.4 450.2 L1506.3 450.8 L1505.3 451.4 L1504.3 452 L1503.2 452.6 L1502.2 453.2 L1501.1 453.9 L1500.1 454.5 L1499.1 455.2 L1498 455.9 L1497 456.6 L1496 457.3 L1494.9 458.1 L1493.9 458.8 L1492.9 459.6 L1491.8 460.4 L1490.8 461.3 L1489.8 462.1 L1488.7 463 L1487.7 463.9 L1486.7 464.8 L1485.6 465.7 L1484.6 466.7 L1483.6 467.7 L1482.5 468.7 L1481.5 469.7 L1480.4 470.7 L1479.4 471.8 L1478.4 472.9 L1477.3 474 L1476.3 475.1 L1476 475.4 L1475.8 475.6 L1475.5 475.9 L1475.2 476.2 L1474.9 476.5 L1474.7 476.8 L1474.4 477 L1474.1 477.3 L1473.9 477.5 L1473.6 477.8 L1473.3 478 L1473 478.2 L1472.8 478.4 L1472.5 478.6 L1472.2 478.7 L1472 478.8 L1471.7 478.9 L1471.4 478.9 L1471.1 478.8 L1470.9 478.7 L1470.6 478.5 L1470.3 478.1 L1470 477.7 L1469.8 477.1 L1469.5 476.4 L1469.2 475.4 L1469 474.2 L1468.7 472.6 L1468.4 470.7 L1468.1 468.4 L1467.9 465.6 L1467.6 462.1 L1467.3 457.9 L1467.1 452.8 L1466.8 446.7Z" fill="#0000ff" fill-opacity="0.1" stroke="none"/><line x1="1476.56" y1="453.44" x2="1486.68" y2="453.44" stroke="#ff0000" stroke-opacity="0.2" stroke-width="4"/><line x1="1486.46" y1="430.4" x2="1628" y2="430.4" stroke="#ff0000" stroke-opacity="0.2" stroke-width="4"/><line x1="1481.4" y1="436.02" x2="1481.4" y2="457.93" stroke="#ff0000" stroke-opacity="0.8" stroke-width="2.3"/><circle cx="1481.4" cy="453.44" r="3.7" fill="#ff0000" fill-opacity="0.8"/><line x1="1557.17" y1="426.47" x2="1557.17" y2="435.46" stroke="#ff0000" stroke-opacity="0.8" stroke-width="2.3"/><circle cx="1557.17" cy="430.4" r="3.7" fill="#ff0000" fill-opacity="0.8"/><line x1="1476.56" y1="461.87" x2="1486.68" y2="461.87" stroke="#0000ff" stroke-opacity="0.2" stroke-width="4"/><line x1="1486.46" y1="425.91" x2="1628" y2="425.91" stroke="#0000ff" stroke-opacity="0.2" stroke-width="4"/><line x1="1481.4" y1="455.69" x2="1481.4" y2="470.86" stroke="#0000ff" stroke-opacity="0.8" stroke-width="2.3"/><circle cx="1481.4" cy="461.87" r="3.7" fill="#0000ff" fill-opacity="0.8"/><line x1="1557.17" y1="410.74" x2="1557.17" y2="441.08" stroke="#0000ff" stroke-opacity="0.8" stroke-width="2.3"/><circle cx="1557.17" cy="425.91" r="3.7" fill="#0000ff" fill-opacity="0.8"/><path d="M1466.8 436.6 L1467.1 443.1 L1467.3 448.7 L1467.6 453.3 L1467.9 457.3 L1468.1 460.5 L1468.4 463.3 L1468.7 465.6 L1469 467.4 L1469.2 469 L1469.5 470.2 L1469.8 471.2 L1470 472 L1470.3 472.6 L1470.6 473 L1470.9 473.4 L1471.1 473.6 L1471.4 473.7 L1471.7 473.7 L1472 473.6 L1472.2 473.5 L1472.5 473.4 L1472.8 473.2 L1473 472.9 L1473.3 472.7 L1473.6 472.4 L1473.9 472.1 L1474.1 471.7 L1474.4 471.4 L1474.7 471 L1474.9 470.6 L1475.2 470.3 L1475.5 469.9 L1475.8 469.5 L1476 469.1 L1476.3 468.7 L1477.3 467.2 L1478.4 465.6 L1479.4 464.1 L1480.4 462.6 L1481.5 461.2 L1482.5 459.8 L1483.6 458.5 L1484.6 457.2 L1485.6 455.9 L1486.7 454.7 L1487.7 453.6 L1488.7 452.4 L1489.8 451.3 L1490.8 450.2 L1491.8 449 L1492.9 447.9 L1493.9 446.9 L1494.9 445.8 L1496 444.8 L1497 443.8 L1498 442.8 L1499.1 441.8 L1500.1 440.9 L1501.1 440 L1502.2 439.1 L1503.2 438.2 L1504.3 437.4 L1505.3 436.5 L1506.3 435.7 L1507.4 434.9 L1508.4 434.2 L1509.4 433.4 L1510.5 432.7 L1511.5 432 L1512.5 431.3 L1513.6 430.6 L1514.6 429.9 L1515.6 429.3 L1516.7 428.7 L1523.3 425 L1529.8 421.9 L1536.4 419.3 L1543 417.1 L1549.6 415.5 L1556.2 414.2 L1562.7 413.1 L1569.3 412.1 L1575.9 411.2 L1582.5 410.4 L1589.1 409.8 L1595.6 409.2 L1602.2 408.8 L1608.8 408.4 L1615.4 408 L1622 407.7 L1628.5 407.5 L1635.1 407.3 L1641.7 407.1 L1648.3 406.9 L1654.9 406.7 L1661.4 406.6 L1668 406.5" fill="none" stroke="#0000ff" stroke-width="2" stroke-linejoin="round"/><text x="1568.02" y="363.95" font-size="27.2" fill="#000" text-anchor="middle">Tunisia (54)</text></g>
<g><path d="M1683.97 487.15H1906.55M1683.97 473.24H1906.55M1683.97 459.34H1906.55M1683.97 445.43H1906.55M1683.97 431.52H1906.55M1683.97 417.62H1906.55M1683.97 403.71H1906.55M1683.97 389.81H1906.55M1683.97 375.9H1906.55M1694.06 370.34V492.71M1719.28 370.34V492.71M1744.51 370.34V492.71M1769.73 370.34V492.71M1794.96 370.34V492.71M1820.18 370.34V492.71M1845.41 370.34V492.71M1870.63 370.34V492.71M1895.86 370.34V492.71" stroke="#ebebeb" stroke-width="2" fill="none"/><path d="M1694.4 411.9 L1694.7 423.1 L1695 432.1 L1695.2 439.3 L1695.5 445.1 L1695.8 449.7 L1696.1 453.2 L1696.3 455.9 L1696.6 458 L1696.9 459.4 L1697.2 460.4 L1697.5 461.1 L1697.7 461.4 L1698 461.5 L1698.3 461.3 L1698.6 461 L1698.9 460.6 L1699.1 460 L1699.4 459.4 L1699.7 458.7 L1700 457.9 L1700.2 457.1 L1700.5 456.3 L1700.8 455.4 L1701.1 454.6 L1701.4 453.7 L1701.6 452.8 L1701.9 451.9 L1702.2 451 L1702.5 450.1 L1702.8 449.2 L1703 448.3 L1703.3 447.4 L1703.6 446.5 L1703.9 445.7 L1704.1 444.8 L1705.2 441.7 L1706.2 438.8 L1707.3 436 L1708.3 433.4 L1709.3 430.9 L1710.4 428.5 L1711.4 426.3 L1712.4 424.2 L1713.5 422.2 L1714.5 420.3 L1715.5 418.6 L1716.6 416.9 L1717.6 415.3 L1718.6 413.9 L1719.7 412.5 L1720.7 411.1 L1721.7 409.9 L1722.8 408.7 L1723.8 407.6 L1724.8 406.6 L1725.9 405.6 L1726.9 404.7 L1728 403.8 L1729 403 L1730 402.2 L1731.1 401.4 L1732.1 400.8 L1733.1 400.1 L1734.2 399.5 L1735.2 398.9 L1736.2 398.3 L1737.3 397.8 L1738.3 397.3 L1739.3 396.9 L1740.4 396.4 L1741.4 396 L1742.4 395.6 L1743.5 395.3 L1744.5 394.9 L1751.1 393.2 L1757.7 391.9 L1764.3 391.1 L1770.8 390.6 L1777.4 390.2 L1784 389.9 L1790.6 389.7 L1797.2 389.6 L1803.7 389.5 L1810.3 389.4 L1816.9 389.3 L1823.5 389.3 L1830.1 389.2 L1836.6 389.2 L1843.2 389.1 L1849.8 389 L1856.4 389 L1863 388.9 L1869.5 388.9 L1876.1 388.8 L1882.7 388.7 L1889.3 388.7 L1895.9 388.6 L1895.9 401.5 L1889.3 401.5 L1882.7 401.6 L1876.1 401.6 L1869.5 401.7 L1863 401.7 L1856.4 401.8 L1849.8 401.9 L1843.2 402 L1836.6 402.2 L1830.1 402.4 L1823.5 402.6 L1816.9 402.9 L1810.3 403.3 L1803.7 403.8 L1797.2 404.4 L1790.6 405.1 L1784 406 L1777.4 407.1 L1770.8 408.4 L1764.3 410.1 L1757.7 412.2 L1751.1 414.8 L1744.5 418.1 L1743.5 418.7 L1742.4 419.3 L1741.4 419.9 L1740.4 420.6 L1739.3 421.3 L1738.3 422 L1737.3 422.7 L1736.2 423.5 L1735.2 424.3 L1734.2 425.2 L1733.1 426 L1732.1 426.9 L1731.1 427.9 L1730 428.8 L1729 429.8 L1728 430.8 L1726.9 431.9 L1725.9 433 L1724.8 434.1 L1723.8 435.2 L1722.8 436.4 L1721.7 437.5 L1720.7 438.8 L1719.7 440 L1718.6 441.3 L1717.6 442.6 L1716.6 443.9 L1715.5 445.3 L1714.5 446.8 L1713.5 448.3 L1712.4 449.8 L1711.4 451.4 L1710.4 453 L1709.3 454.7 L1708.3 456.4 L1707.3 458.2 L1706.2 460 L1705.2 461.9 L1704.1 463.9 L1703.9 464.4 L1703.6 464.9 L1703.3 465.5 L1703 466 L1702.8 466.6 L1702.5 467.1 L1702.2 467.7 L1701.9 468.2 L1701.6 468.7 L1701.4 469.3 L1701.1 469.8 L1700.8 470.3 L1700.5 470.9 L1700.2 471.3 L1700 471.8 L1699.7 472.3 L1699.4 472.7 L1699.1 473 L1698.9 473.4 L1698.6 473.6 L1698.3 473.7 L1698 473.8 L1697.7 473.6 L1697.5 473.4 L1697.2 472.8 L1696.9 472 L1696.6 470.9 L1696.3 469.3 L1696.1 467.2 L1695.8 464.4 L1695.5 460.8 L1695.2 456.1 L1695 450.2 L1694.7 442.7 L1694.4 433.2Z" fill="#0000ff" fill-opacity="0.1" stroke="none"/><line x1="1694.4" y1="429.5" x2="1714.07" y2="429.5" stroke="#ff0000" stroke-opacity="0.2" stroke-width="4"/><line x1="1714.07" y1="414.11" x2="1895.97" y2="414.11" stroke="#ff0000" stroke-opacity="0.2" stroke-width="4"/><line x1="1704.18" y1="420.29" x2="1704.18" y2="438.83" stroke="#ff0000" stroke-opacity="0.8" stroke-width="2.3"/><circle cx="1704.18" cy="429.5" r="3.7" fill="#ff0000" fill-opacity="0.8"/><line x1="1805.02" y1="411.86" x2="1805.02" y2="419.73" stroke="#ff0000" stroke-opacity="0.8" stroke-width="2.3"/><circle cx="1805.02" cy="414.11" r="3.7" fill="#ff0000" fill-opacity="0.8"/><line x1="1694.4" y1="453.21" x2="1714.07" y2="453.21" stroke="#0000ff" stroke-opacity="0.2" stroke-width="4"/><line x1="1714.07" y1="405.68" x2="1895.97" y2="405.68" stroke="#0000ff" stroke-opacity="0.2" stroke-width="4"/><line x1="1704.18" y1="444.45" x2="1704.18" y2="461.3" stroke="#0000ff" stroke-opacity="0.8" stroke-width="2.3"/><circle cx="1704.18" cy="453.21" r="3.7" fill="#0000ff" fill-opacity="0.8"/><line x1="1805.02" y1="395.57" x2="1805.02" y2="407.36" stroke="#0000ff" stroke-opacity="0.8" stroke-width="2.3"/><circle cx="1805.02" cy="405.68" r="3.7" fill="#0000ff" fill-opacity="0.8"/><path d="M1694.4 422.5 L1694.7 431.9 L1695 439.6 L1695.2 445.8 L1695.5 450.9 L1695.8 455 L1696.1 458.3 L1696.3 460.9 L1696.6 462.9 L1696.9 464.4 L1697.2 465.6 L1697.5 466.4 L1697.7 466.9 L1698 467.2 L1698.3 467.4 L1698.6 467.3 L1698.9 467.2 L1699.1 466.9 L1699.4 466.6 L1699.7 466.1 L1700 465.6 L1700.2 465.1 L1700.5 464.5 L1700.8 463.9 L1701.1 463.3 L1701.4 462.6 L1701.6 461.9 L1701.9 461.2 L1702.2 460.6 L1702.5 459.9 L1702.8 459.2 L1703 458.5 L1703.3 457.8 L1703.6 457.1 L1703.9 456.4 L1704.1 455.8 L1705.2 453.3 L1706.2 451 L1707.3 448.9 L1708.3 446.8 L1709.3 444.7 L1710.4 442.8 L1711.4 440.8 L1712.4 438.9 L1713.5 437 L1714.5 435.1 L1715.5 433.3 L1716.6 431.6 L1717.6 430 L1718.6 428.4 L1719.7 427 L1720.7 425.7 L1721.7 424.5 L1722.8 423.3 L1723.8 422.2 L1724.8 421.1 L1725.9 420.1 L1726.9 419.2 L1728 418.2 L1729 417.3 L1730 416.5 L1731.1 415.6 L1732.1 414.7 L1733.1 413.9 L1734.2 413.1 L1735.2 412.3 L1736.2 411.5 L1737.3 410.7 L1738.3 410 L1739.3 409.3 L1740.4 408.6 L1741.4 407.9 L1742.4 407.3 L1743.5 406.8 L1744.5 406.3 L1751.1 403.5 L1757.7 401.5 L1764.3 400 L1770.8 398.7 L1777.4 397.8 L1784 397 L1790.6 396.4 L1797.2 396 L1803.7 395.7 L1810.3 395.5 L1816.9 395.3 L1823.5 395.2 L1830.1 395.1 L1836.6 395.1 L1843.2 395 L1849.8 395 L1856.4 394.9 L1863 394.9 L1869.5 394.9 L1876.1 394.8 L1882.7 394.8 L1889.3 394.8 L1895.9 394.8" fill="none" stroke="#0000ff" stroke-width="2" stroke-linejoin="round"/><text x="1795.86" y="363.95" font-size="27.2" fill="#000" text-anchor="middle">Uganda (16)</text></g>
<g><path d="M772.61 669.9H995.19M772.61 655.99H995.19M772.61 642.09H995.19M772.61 628.18H995.19M772.61 614.27H995.19M772.61 600.37H995.19M772.61 586.46H995.19M772.61 572.56H995.19M772.61 558.65H995.19M782.7 553.09V675.46M807.93 553.09V675.46M833.15 553.09V675.46M858.38 553.09V675.46M883.6 553.09V675.46M908.83 553.09V675.46M934.05 553.09V675.46M959.28 553.09V675.46M984.5 553.09V675.46" stroke="#ebebeb" stroke-width="2" fill="none"/><path d="M782.9 584.7 L783.2 587.8 L783.5 589.1 L783.8 589 L784.1 588.2 L784.3 586.8 L784.6 585.1 L784.9 583.2 L785.2 581.3 L785.5 579.4 L785.7 577.6 L786 575.9 L786.3 574.4 L786.6 572.9 L786.9 571.6 L787.2 570.5 L787.4 569.4 L787.7 568.5 L788 567.6 L788.3 566.9 L788.6 566.3 L788.8 565.7 L789.1 565.2 L789.4 564.8 L789.7 564.4 L790 564 L790.3 563.8 L790.5 563.5 L790.8 563.3 L791.1 563.1 L791.4 562.9 L791.7 562.8 L791.9 562.6 L792.2 562.5 L792.5 562.4 L792.8 562.4 L793.8 562.1 L794.9 562 L795.9 562 L796.9 561.9 L798 561.9 L799 561.9 L800 561.9 L801.1 561.9 L802.1 561.9 L803.1 561.9 L804.2 561.9 L805.2 561.9 L806.2 561.9 L807.3 561.9 L808.3 561.9 L809.3 561.9 L810.4 561.9 L811.4 561.9 L812.5 561.9 L813.5 561.9 L814.5 561.9 L815.6 561.9 L816.6 561.9 L817.6 561.9 L818.7 561.9 L819.7 561.9 L820.7 561.9 L821.8 561.9 L822.8 561.9 L823.8 561.9 L824.9 561.9 L825.9 561.9 L826.9 561.9 L828 561.9 L829 561.9 L830 561.9 L831.1 561.9 L832.1 561.9 L833.2 561.9 L839.7 561.9 L846.3 561.9 L852.9 561.9 L859.5 561.9 L866.1 561.9 L872.6 561.9 L879.2 561.9 L885.8 561.9 L892.4 561.9 L899 561.9 L905.5 561.9 L912.1 561.9 L918.7 561.9 L925.3 561.9 L931.9 561.9 L938.4 561.9 L945 561.9 L951.6 561.9 L958.2 561.9 L964.8 561.9 L971.3 561.9 L977.9 561.9 L984.5 561.9 L984.5 605 L977.9 605.3 L971.3 605.6 L964.8 606 L958.2 606.4 L951.6 606.8 L945 607.3 L938.4 607.9 L931.9 608.5 L925.3 609.1 L918.7 609.8 L912.1 610.6 L905.5 611.5 L899 612.5 L892.4 613.6 L885.8 614.8 L879.2 616.3 L872.6 617.9 L866.1 619.6 L859.5 621.6 L852.9 623.8 L846.3 626.3 L839.7 629 L833.2 632 L832.1 632.6 L831.1 633.1 L830 633.6 L829 634.1 L828 634.7 L826.9 635.3 L825.9 635.8 L824.9 636.4 L823.8 637 L822.8 637.6 L821.8 638.2 L820.7 638.8 L819.7 639.5 L818.7 640.1 L817.6 640.8 L816.6 641.4 L815.6 642.1 L814.5 642.8 L813.5 643.5 L812.5 644.2 L811.4 644.9 L810.4 645.7 L809.3 646.4 L808.3 647.2 L807.3 647.9 L806.2 648.7 L805.2 649.5 L804.2 650.2 L803.1 651 L802.1 651.9 L801.1 652.7 L800 653.5 L799 654.4 L798 655.2 L796.9 656.1 L795.9 657 L794.9 657.9 L793.8 658.8 L792.8 659.7 L792.5 660 L792.2 660.2 L791.9 660.5 L791.7 660.7 L791.4 661 L791.1 661.2 L790.8 661.5 L790.5 661.7 L790.3 661.9 L790 662.1 L789.7 662.3 L789.4 662.5 L789.1 662.7 L788.8 662.9 L788.6 663 L788.3 663.1 L788 663.1 L787.7 663.1 L787.4 663.1 L787.2 662.9 L786.9 662.7 L786.6 662.3 L786.3 661.8 L786 661 L785.7 660.1 L785.5 658.8 L785.2 657.1 L784.9 655 L784.6 652.4 L784.3 649 L784.1 644.7 L783.8 639.4 L783.5 632.7 L783.2 624.4 L782.9 614Z" fill="#0000ff" fill-opacity="0.1" stroke="none"/><line x1="782.7" y1="633.12" x2="802.71" y2="633.12" stroke="#ff0000" stroke-opacity="0.2" stroke-width="4"/><line x1="802.94" y1="606.46" x2="984.84" y2="606.46" stroke="#ff0000" stroke-opacity="0.2" stroke-width="4"/><line x1="792.59" y1="583.62" x2="792.59" y2="665.18" stroke="#ff0000" stroke-opacity="0.8" stroke-width="2.3"/><circle cx="792.59" cy="633.12" r="3.7" fill="#ff0000" fill-opacity="0.8"/><line x1="893.55" y1="583.62" x2="893.55" y2="632.22" stroke="#ff0000" stroke-opacity="0.8" stroke-width="2.3"/><circle cx="893.55" cy="606.46" r="3.7" fill="#ff0000" fill-opacity="0.8"/><line x1="782.7" y1="621.53" x2="802.71" y2="621.53" stroke="#0000ff" stroke-opacity="0.2" stroke-width="4"/><line x1="802.94" y1="583.4" x2="984.84" y2="583.4" stroke="#0000ff" stroke-opacity="0.2" stroke-width="4"/><line x1="792.59" y1="570.69" x2="792.59" y2="656.18" stroke="#0000ff" stroke-opacity="0.8" stroke-width="2.3"/><circle cx="792.59" cy="621.53" r="3.7" fill="#0000ff" fill-opacity="0.8"/><line x1="893.55" y1="561.91" x2="893.55" y2="625.8" stroke="#0000ff" stroke-opacity="0.8" stroke-width="2.3"/><circle cx="893.55" cy="583.4" r="3.7" fill="#0000ff" fill-opacity="0.8"/><path d="M782.9 602.2 L783.2 609.3 L783.5 615.3 L783.8 620.2 L784.1 624.3 L784.3 627.7 L784.6 630.4 L784.9 632.6 L785.2 634.3 L785.5 635.6 L785.7 636.6 L786 637.3 L786.3 637.7 L786.6 637.8 L786.9 637.7 L787.2 637.3 L787.4 636.8 L787.7 636.2 L788 635.4 L788.3 634.6 L788.6 633.6 L788.8 632.7 L789.1 631.6 L789.4 630.6 L789.7 629.5 L790 628.4 L790.3 627.4 L790.5 626.3 L790.8 625.2 L791.1 624.2 L791.4 623.2 L791.7 622.2 L791.9 621.2 L792.2 620.3 L792.5 619.4 L792.8 618.6 L793.8 615.8 L794.9 613.5 L795.9 611.5 L796.9 609.8 L798 608.2 L799 606.7 L800 605.1 L801.1 603.6 L802.1 602.3 L803.1 601 L804.2 599.8 L805.2 598.6 L806.2 597.6 L807.3 596.6 L808.3 595.6 L809.3 594.7 L810.4 593.9 L811.4 593.1 L812.5 592.4 L813.5 591.7 L814.5 591.1 L815.6 590.5 L816.6 590 L817.6 589.4 L818.7 588.9 L819.7 588.4 L820.7 587.9 L821.8 587.5 L822.8 587 L823.8 586.6 L824.9 586.2 L825.9 585.8 L826.9 585.5 L828 585.1 L829 584.8 L830 584.5 L831.1 584.2 L832.1 583.9 L833.2 583.6 L839.7 582.1 L846.3 580.8 L852.9 579.8 L859.5 579 L866.1 578.4 L872.6 577.8 L879.2 577.3 L885.8 577 L892.4 576.7 L899 576.4 L905.5 576.2 L912.1 576 L918.7 575.8 L925.3 575.7 L931.9 575.6 L938.4 575.5 L945 575.4 L951.6 575.3 L958.2 575.2 L964.8 575.1 L971.3 575 L977.9 575 L984.5 575" fill="none" stroke="#0000ff" stroke-width="2" stroke-linejoin="round"/><text x="884.5" y="545.85" font-size="27.2" fill="#000" text-anchor="middle">Iraq (16)</text><text x="768" y="680.55" font-size="27.4" fill="#4d4d4d" text-anchor="end">0.00</text><text x="768" y="652.74" font-size="27.4" fill="#4d4d4d" text-anchor="end">0.25</text><text x="768" y="624.92" font-size="27.4" fill="#4d4d4d" text-anchor="end">0.50</text><text x="768" y="597.11" font-size="27.4" fill="#4d4d4d" text-anchor="end">0.75</text><text x="768" y="569.3" font-size="27.4" fill="#4d4d4d" text-anchor="end">1.00</text></g>
<g><path d="M1000.45 669.9H1223.03M1000.45 655.99H1223.03M1000.45 642.09H1223.03M1000.45 628.18H1223.03M1000.45 614.27H1223.03M1000.45 600.37H1223.03M1000.45 586.46H1223.03M1000.45 572.56H1223.03M1000.45 558.65H1223.03M1010.54 553.09V675.46M1035.77 553.09V675.46M1060.99 553.09V675.46M1086.22 553.09V675.46M1111.44 553.09V675.46M1136.66 553.09V675.46M1161.89 553.09V675.46M1187.12 553.09V675.46M1212.34 553.09V675.46" stroke="#ebebeb" stroke-width="2" fill="none"/><path d="M1011 576.9 L1011.3 592.9 L1011.5 598.6 L1011.8 599 L1012.1 596.7 L1012.4 593.2 L1012.6 589.5 L1012.9 585.8 L1013.2 582.5 L1013.5 579.4 L1013.7 576.8 L1014 574.4 L1014.3 572.4 L1014.6 570.7 L1014.8 569.2 L1015.1 567.9 L1015.4 566.9 L1015.7 565.9 L1015.9 565.2 L1016.2 564.5 L1016.5 564 L1016.8 563.5 L1017 563.1 L1017.3 562.8 L1017.6 562.5 L1017.9 562.3 L1018.2 562.1 L1018.4 562 L1018.7 561.8 L1019 561.7 L1019.3 561.7 L1019.5 561.6 L1019.8 561.5 L1020.1 561.5 L1020.4 561.5 L1020.6 561.4 L1021.7 561.4 L1022.7 561.4 L1023.7 561.5 L1024.8 561.5 L1025.8 561.6 L1026.8 561.6 L1027.9 561.6 L1028.9 561.7 L1029.9 561.7 L1031 561.7 L1032 561.7 L1033 561.7 L1034.1 561.7 L1035.1 561.7 L1036.2 561.7 L1037.2 561.7 L1038.2 561.7 L1039.3 561.7 L1040.3 561.7 L1041.3 561.7 L1042.4 561.7 L1043.4 561.7 L1044.4 561.7 L1045.5 561.7 L1046.5 561.7 L1047.5 561.7 L1048.6 561.7 L1049.6 561.7 L1050.6 561.7 L1051.7 561.7 L1052.7 561.7 L1053.7 561.7 L1054.8 561.7 L1055.8 561.7 L1056.9 561.7 L1057.9 561.7 L1058.9 561.7 L1060 561.7 L1061 561.7 L1067.6 561.7 L1074.2 561.7 L1080.7 561.7 L1087.3 561.7 L1093.9 561.7 L1100.5 561.7 L1107.1 561.7 L1113.6 561.7 L1120.2 561.7 L1126.8 561.7 L1133.4 561.6 L1140 561.6 L1146.5 561.6 L1153.1 561.6 L1159.7 561.6 L1166.3 561.6 L1172.9 561.6 L1179.4 561.6 L1186 561.6 L1192.6 561.6 L1199.2 561.6 L1205.8 561.6 L1212.3 561.6 L1212.3 567.5 L1205.8 567.5 L1199.2 567.5 L1192.6 567.5 L1186 567.5 L1179.4 567.5 L1172.9 567.5 L1166.3 567.5 L1159.7 567.5 L1153.1 567.5 L1146.5 567.5 L1140 567.5 L1133.4 567.5 L1126.8 567.5 L1120.2 567.5 L1113.6 567.5 L1107.1 567.5 L1100.5 567.5 L1093.9 567.5 L1087.3 567.5 L1080.7 567.6 L1074.2 567.7 L1067.6 567.9 L1061 568.2 L1060 568.3 L1058.9 568.4 L1057.9 568.4 L1056.9 568.5 L1055.8 568.7 L1054.8 568.8 L1053.7 568.9 L1052.7 569.1 L1051.7 569.2 L1050.6 569.4 L1049.6 569.6 L1048.6 569.8 L1047.5 570 L1046.5 570.2 L1045.5 570.4 L1044.4 570.6 L1043.4 570.9 L1042.4 571.2 L1041.3 571.6 L1040.3 572 L1039.3 572.5 L1038.2 573.1 L1037.2 573.7 L1036.2 574.5 L1035.1 575.4 L1034.1 576.5 L1033 577.6 L1032 579 L1031 580.4 L1029.9 582 L1028.9 583.8 L1027.9 585.8 L1026.8 587.9 L1025.8 590.4 L1024.8 593.1 L1023.7 596 L1022.7 599.2 L1021.7 602.7 L1020.6 606.5 L1020.4 607.5 L1020.1 608.6 L1019.8 609.6 L1019.5 610.7 L1019.3 611.9 L1019 613 L1018.7 614.2 L1018.4 615.4 L1018.2 616.7 L1017.9 617.9 L1017.6 619.2 L1017.3 620.5 L1017 621.8 L1016.8 623.2 L1016.5 624.5 L1016.2 625.9 L1015.9 627.2 L1015.7 628.6 L1015.4 629.9 L1015.1 631.2 L1014.8 632.5 L1014.6 633.6 L1014.3 634.7 L1014 635.6 L1013.7 636.2 L1013.5 636.6 L1013.2 636.6 L1012.9 636 L1012.6 634.7 L1012.4 632.5 L1012.1 629.2 L1011.8 624.4 L1011.5 617.6 L1011.3 608.4 L1011 596Z" fill="#0000ff" fill-opacity="0.1" stroke="none"/><line x1="1010.54" y1="571.25" x2="1030.78" y2="571.25" stroke="#ff0000" stroke-opacity="0.2" stroke-width="4"/><line x1="1030.78" y1="579.91" x2="1051.01" y2="579.91" stroke="#ff0000" stroke-opacity="0.2" stroke-width="4"/><line x1="1051.01" y1="574.4" x2="1212.9" y2="574.4" stroke="#ff0000" stroke-opacity="0.2" stroke-width="4"/><line x1="1020.66" y1="562.81" x2="1020.66" y2="575.19" stroke="#ff0000" stroke-opacity="0.8" stroke-width="2.3"/><circle cx="1020.66" cy="571.25" r="3.7" fill="#ff0000" fill-opacity="0.8"/><line x1="1040.89" y1="575.75" x2="1040.89" y2="593.75" stroke="#ff0000" stroke-opacity="0.8" stroke-width="2.3"/><circle cx="1040.89" cy="579.91" r="3.7" fill="#ff0000" fill-opacity="0.8"/><line x1="1131.62" y1="569" x2="1131.62" y2="585.31" stroke="#ff0000" stroke-opacity="0.8" stroke-width="2.3"/><circle cx="1131.62" cy="574.4" r="3.7" fill="#ff0000" fill-opacity="0.8"/><line x1="1010.54" y1="583.62" x2="1030.78" y2="583.62" stroke="#0000ff" stroke-opacity="0.2" stroke-width="4"/><line x1="1030.78" y1="563.94" x2="1051.01" y2="563.94" stroke="#0000ff" stroke-opacity="0.2" stroke-width="4"/><line x1="1051.01" y1="563.37" x2="1212.9" y2="563.37" stroke="#0000ff" stroke-opacity="0.2" stroke-width="4"/><line x1="1020.66" y1="570.12" x2="1020.66" y2="612.31" stroke="#0000ff" stroke-opacity="0.8" stroke-width="2.3"/><circle cx="1020.66" cy="583.62" r="3.7" fill="#0000ff" fill-opacity="0.8"/><line x1="1040.89" y1="562.25" x2="1040.89" y2="575.75" stroke="#0000ff" stroke-opacity="0.8" stroke-width="2.3"/><circle cx="1040.89" cy="563.94" r="3.7" fill="#0000ff" fill-opacity="0.8"/><line x1="1131.62" y1="562.25" x2="1131.62" y2="569" stroke="#0000ff" stroke-opacity="0.8" stroke-width="2.3"/><circle cx="1131.62" cy="563.37" r="3.7" fill="#0000ff" fill-opacity="0.8"/><path d="M1011 587 L1011.3 595.1 L1011.5 600.8 L1011.8 604.6 L1012.1 606.9 L1012.4 608 L1012.6 608.4 L1012.9 608 L1013.2 607.2 L1013.5 606 L1013.7 604.5 L1014 602.9 L1014.3 601.1 L1014.6 599.2 L1014.8 597.4 L1015.1 595.5 L1015.4 593.7 L1015.7 591.9 L1015.9 590.2 L1016.2 588.6 L1016.5 587.1 L1016.8 585.6 L1017 584.3 L1017.3 583 L1017.6 581.8 L1017.9 580.8 L1018.2 579.8 L1018.4 578.9 L1018.7 578 L1019 577.2 L1019.3 576.5 L1019.5 575.9 L1019.8 575.2 L1020.1 574.6 L1020.4 574.1 L1020.6 573.6 L1021.7 571.9 L1022.7 570.7 L1023.7 569.8 L1024.8 569 L1025.8 568.4 L1026.8 567.7 L1027.9 567 L1028.9 566.4 L1029.9 565.9 L1031 565.5 L1032 565.2 L1033 565 L1034.1 564.8 L1035.1 564.6 L1036.2 564.4 L1037.2 564.3 L1038.2 564.2 L1039.3 564.1 L1040.3 564 L1041.3 563.9 L1042.4 563.9 L1043.4 563.8 L1044.4 563.8 L1045.5 563.7 L1046.5 563.7 L1047.5 563.6 L1048.6 563.6 L1049.6 563.6 L1050.6 563.5 L1051.7 563.5 L1052.7 563.5 L1053.7 563.4 L1054.8 563.4 L1055.8 563.4 L1056.9 563.4 L1057.9 563.4 L1058.9 563.4 L1060 563.4 L1061 563.4 L1067.6 563.4 L1074.2 563.4 L1080.7 563.4 L1087.3 563.4 L1093.9 563.4 L1100.5 563.4 L1107.1 563.4 L1113.6 563.4 L1120.2 563.4 L1126.8 563.4 L1133.4 563.4 L1140 563.4 L1146.5 563.4 L1153.1 563.4 L1159.7 563.4 L1166.3 563.4 L1172.9 563.4 L1179.4 563.4 L1186 563.4 L1192.6 563.4 L1199.2 563.4 L1205.8 563.4 L1212.3 563.4" fill="none" stroke="#0000ff" stroke-width="2" stroke-linejoin="round"/><text x="1112.34" y="545.85" font-size="27.2" fill="#000" text-anchor="middle">Iraq (58)</text></g>
<g><path d="M1228.29 669.9H1450.87M1228.29 655.99H1450.87M1228.29 642.09H1450.87M1228.29 628.18H1450.87M1228.29 614.27H1450.87M1228.29 600.37H1450.87M1228.29 586.46H1450.87M1228.29 572.56H1450.87M1228.29 558.65H1450.87M1238.38 553.09V675.46M1263.61 553.09V675.46M1288.83 553.09V675.46M1314.06 553.09V675.46M1339.28 553.09V675.46M1364.51 553.09V675.46M1389.73 553.09V675.46M1414.96 553.09V675.46M1440.18 553.09V675.46" stroke="#ebebeb" stroke-width="2" fill="none"/><path d="M1238.9 581.4 L1239.2 595.5 L1239.5 605.6 L1239.8 612.6 L1240 617.3 L1240.3 620.1 L1240.6 621.6 L1240.8 622.2 L1241.1 622 L1241.4 621.2 L1241.7 620.1 L1241.9 618.7 L1242.2 617.1 L1242.5 615.4 L1242.8 613.7 L1243 611.9 L1243.3 610.1 L1243.6 608.3 L1243.8 606.6 L1244.1 604.9 L1244.4 603.2 L1244.7 601.6 L1244.9 600 L1245.2 598.5 L1245.5 597.1 L1245.7 595.7 L1246 594.3 L1246.3 593 L1246.6 591.8 L1246.8 590.6 L1247.1 589.4 L1247.4 588.4 L1247.7 587.3 L1247.9 586.3 L1248.2 585.3 L1248.5 584.4 L1249.5 581.1 L1250.5 578.3 L1251.6 575.8 L1252.6 573.6 L1253.6 571.7 L1254.7 570.1 L1255.7 568.8 L1256.7 567.6 L1257.8 566.7 L1258.8 566 L1259.9 565.4 L1260.9 565 L1261.9 564.6 L1263 564.3 L1264 564 L1265 563.8 L1266.1 563.7 L1267.1 563.6 L1268.1 563.5 L1269.2 563.5 L1270.2 563.5 L1271.2 563.4 L1272.3 563.4 L1273.3 563.5 L1274.3 563.5 L1275.4 563.5 L1276.4 563.5 L1277.4 563.6 L1278.5 563.6 L1279.5 563.7 L1280.6 563.7 L1281.6 563.7 L1282.6 563.7 L1283.7 563.8 L1284.7 563.8 L1285.7 563.8 L1286.8 563.8 L1287.8 563.8 L1288.8 563.8 L1295.4 563.8 L1302 563.8 L1308.6 563.8 L1315.2 563.8 L1321.7 563.8 L1328.3 563.8 L1334.9 563.8 L1341.5 563.8 L1348.1 563.8 L1354.6 563.8 L1361.2 563.8 L1367.8 563.8 L1374.4 563.8 L1381 563.7 L1387.5 563.7 L1394.1 563.7 L1400.7 563.7 L1407.3 563.7 L1413.9 563.7 L1420.4 563.7 L1427 563.7 L1433.6 563.7 L1440.2 563.6 L1440.2 569.7 L1433.6 569.7 L1427 569.6 L1420.4 569.6 L1413.9 569.6 L1407.3 569.5 L1400.7 569.5 L1394.1 569.4 L1387.5 569.4 L1381 569.4 L1374.4 569.3 L1367.8 569.3 L1361.2 569.3 L1354.6 569.3 L1348.1 569.3 L1341.5 569.3 L1334.9 569.3 L1328.3 569.4 L1321.7 569.5 L1315.2 569.7 L1308.6 570.1 L1302 570.6 L1295.4 571.5 L1288.8 572.8 L1287.8 573 L1286.8 573.3 L1285.7 573.6 L1284.7 573.9 L1283.7 574.3 L1282.6 574.7 L1281.6 575.1 L1280.6 575.5 L1279.5 575.9 L1278.5 576.4 L1277.4 576.9 L1276.4 577.5 L1275.4 578.1 L1274.3 578.7 L1273.3 579.4 L1272.3 580.1 L1271.2 580.9 L1270.2 581.7 L1269.2 582.6 L1268.1 583.6 L1267.1 584.6 L1266.1 585.7 L1265 586.8 L1264 588.1 L1263 589.4 L1261.9 590.9 L1260.9 592.6 L1259.9 594.4 L1258.8 596.4 L1257.8 598.4 L1256.7 600.6 L1255.7 602.8 L1254.7 605 L1253.6 607.4 L1252.6 610 L1251.6 612.8 L1250.5 615.7 L1249.5 618.8 L1248.5 622.1 L1248.2 623 L1247.9 623.9 L1247.7 624.9 L1247.4 625.8 L1247.1 626.8 L1246.8 627.8 L1246.6 628.8 L1246.3 629.8 L1246 630.8 L1245.7 631.8 L1245.5 632.9 L1245.2 633.9 L1244.9 635 L1244.7 636 L1244.4 637.1 L1244.1 638.1 L1243.8 639.1 L1243.6 640.1 L1243.3 641.1 L1243 642 L1242.8 642.8 L1242.5 643.5 L1242.2 644 L1241.9 644.4 L1241.7 644.5 L1241.4 644.3 L1241.1 643.7 L1240.8 642.6 L1240.6 640.8 L1240.3 638.2 L1240 634.5 L1239.8 629.4 L1239.5 622.5 L1239.2 613.5 L1238.9 601.6Z" fill="#0000ff" fill-opacity="0.1" stroke="none"/><line x1="1239.17" y1="614.56" x2="1258.84" y2="614.56" stroke="#ff0000" stroke-opacity="0.2" stroke-width="4"/><line x1="1258.84" y1="567.09" x2="1440.4" y2="567.09" stroke="#ff0000" stroke-opacity="0.2" stroke-width="4"/><line x1="1248.72" y1="609.49" x2="1248.72" y2="626.93" stroke="#ff0000" stroke-opacity="0.8" stroke-width="2.3"/><circle cx="1248.72" cy="614.56" r="3.7" fill="#ff0000" fill-opacity="0.8"/><line x1="1349.68" y1="564.5" x2="1349.68" y2="569.56" stroke="#ff0000" stroke-opacity="0.8" stroke-width="2.3"/><circle cx="1349.68" cy="567.09" r="3.7" fill="#ff0000" fill-opacity="0.8"/><line x1="1239.17" y1="606.34" x2="1258.84" y2="606.34" stroke="#0000ff" stroke-opacity="0.2" stroke-width="4"/><line x1="1258.84" y1="568.1" x2="1440.4" y2="568.1" stroke="#0000ff" stroke-opacity="0.2" stroke-width="4"/><line x1="1248.72" y1="588.12" x2="1248.72" y2="620.74" stroke="#0000ff" stroke-opacity="0.8" stroke-width="2.3"/><circle cx="1248.72" cy="606.34" r="3.7" fill="#0000ff" fill-opacity="0.8"/><line x1="1349.68" y1="565.62" x2="1349.68" y2="574.62" stroke="#0000ff" stroke-opacity="0.8" stroke-width="2.3"/><circle cx="1349.68" cy="568.1" r="3.7" fill="#0000ff" fill-opacity="0.8"/><path d="M1238.9 592.1 L1239.2 602.4 L1239.5 610.6 L1239.8 616.9 L1240 621.6 L1240.3 625.2 L1240.6 627.8 L1240.8 629.5 L1241.1 630.6 L1241.4 631.2 L1241.7 631.3 L1241.9 631.1 L1242.2 630.7 L1242.5 630 L1242.8 629.2 L1243 628.3 L1243.3 627.2 L1243.6 626.1 L1243.8 624.9 L1244.1 623.7 L1244.4 622.5 L1244.7 621.2 L1244.9 620 L1245.2 618.8 L1245.5 617.5 L1245.7 616.3 L1246 615.1 L1246.3 613.9 L1246.6 612.7 L1246.8 611.6 L1247.1 610.4 L1247.4 609.3 L1247.7 608.2 L1247.9 607.2 L1248.2 606.1 L1248.5 605.1 L1249.5 601.4 L1250.5 598.1 L1251.6 595 L1252.6 592.3 L1253.6 589.7 L1254.7 587.5 L1255.7 585.4 L1256.7 583.5 L1257.8 581.7 L1258.8 580.1 L1259.9 578.7 L1260.9 577.4 L1261.9 576.2 L1263 575.2 L1264 574.3 L1265 573.5 L1266.1 572.9 L1267.1 572.3 L1268.1 571.8 L1269.2 571.4 L1270.2 571 L1271.2 570.7 L1272.3 570.4 L1273.3 570.1 L1274.3 569.9 L1275.4 569.6 L1276.4 569.4 L1277.4 569.2 L1278.5 569 L1279.5 568.8 L1280.6 568.7 L1281.6 568.5 L1282.6 568.4 L1283.7 568.3 L1284.7 568.2 L1285.7 568.1 L1286.8 568 L1287.8 567.9 L1288.8 567.9 L1295.4 567.5 L1302 567.2 L1308.6 567.1 L1315.2 567 L1321.7 566.9 L1328.3 566.9 L1334.9 566.9 L1341.5 566.8 L1348.1 566.8 L1354.6 566.8 L1361.2 566.8 L1367.8 566.8 L1374.4 566.8 L1381 566.8 L1387.5 566.8 L1394.1 566.8 L1400.7 566.8 L1407.3 566.8 L1413.9 566.8 L1420.4 566.8 L1427 566.8 L1433.6 566.7 L1440.2 566.7" fill="none" stroke="#0000ff" stroke-width="2" stroke-linejoin="round"/><text x="1340.18" y="545.85" font-size="27.2" fill="#000" text-anchor="middle">Jordan (16)</text></g>
<g><path d="M1456.13 669.9H1678.71M1456.13 655.99H1678.71M1456.13 642.09H1678.71M1456.13 628.18H1678.71M1456.13 614.27H1678.71M1456.13 600.37H1678.71M1456.13 586.46H1678.71M1456.13 572.56H1678.71M1456.13 558.65H1678.71M1466.22 553.09V675.46M1491.44 553.09V675.46M1516.67 553.09V675.46M1541.89 553.09V675.46M1567.12 553.09V675.46M1592.35 553.09V675.46M1617.57 553.09V675.46M1642.8 553.09V675.46M1668.02 553.09V675.46" stroke="#ebebeb" stroke-width="2" fill="none"/><path d="M1466.8 576.9 L1467.1 589.7 L1467.3 595.1 L1467.6 596.3 L1467.9 595.1 L1468.1 592.7 L1468.4 589.7 L1468.7 586.7 L1469 583.7 L1469.2 580.8 L1469.5 578.2 L1469.8 575.8 L1470 573.6 L1470.3 571.7 L1470.6 570.1 L1470.9 568.6 L1471.1 567.4 L1471.4 566.3 L1471.7 565.4 L1472 564.6 L1472.2 564 L1472.5 563.5 L1472.8 563 L1473 562.6 L1473.3 562.3 L1473.6 562 L1473.9 561.8 L1474.1 561.6 L1474.4 561.5 L1474.7 561.3 L1474.9 561.2 L1475.2 561.1 L1475.5 561.1 L1475.8 561 L1476 561 L1476.3 561 L1477.3 560.9 L1478.4 561 L1479.4 561.1 L1480.4 561.2 L1481.5 561.3 L1482.5 561.4 L1483.6 561.4 L1484.6 561.5 L1485.6 561.5 L1486.7 561.5 L1487.7 561.5 L1488.7 561.5 L1489.8 561.5 L1490.8 561.5 L1491.8 561.5 L1492.9 561.5 L1493.9 561.5 L1494.9 561.5 L1496 561.5 L1497 561.5 L1498 561.5 L1499.1 561.5 L1500.1 561.5 L1501.1 561.5 L1502.2 561.5 L1503.2 561.5 L1504.3 561.5 L1505.3 561.5 L1506.3 561.5 L1507.4 561.5 L1508.4 561.5 L1509.4 561.5 L1510.5 561.5 L1511.5 561.5 L1512.5 561.5 L1513.6 561.5 L1514.6 561.5 L1515.6 561.5 L1516.7 561.5 L1523.3 561.5 L1529.8 561.5 L1536.4 561.5 L1543 561.5 L1549.6 561.5 L1556.2 561.5 L1562.7 561.5 L1569.3 561.5 L1575.9 561.5 L1582.5 561.5 L1589.1 561.5 L1595.6 561.5 L1602.2 561.5 L1608.8 561.5 L1615.4 561.5 L1622 561.5 L1628.5 561.5 L1635.1 561.4 L1641.7 561.4 L1648.3 561.4 L1654.9 561.4 L1661.4 561.4 L1668 561.4 L1668 565.7 L1661.4 565.8 L1654.9 565.8 L1648.3 565.9 L1641.7 565.9 L1635.1 565.9 L1628.5 566 L1622 566 L1615.4 566 L1608.8 566 L1602.2 566.1 L1595.6 566.1 L1589.1 566.1 L1582.5 566.1 L1575.9 566.1 L1569.3 566.1 L1562.7 566.1 L1556.2 566.2 L1549.6 566.2 L1543 566.2 L1536.4 566.2 L1529.8 566.2 L1523.3 566.3 L1516.7 566.5 L1515.6 566.5 L1514.6 566.5 L1513.6 566.6 L1512.5 566.6 L1511.5 566.7 L1510.5 566.7 L1509.4 566.8 L1508.4 566.9 L1507.4 567 L1506.3 567.1 L1505.3 567.2 L1504.3 567.3 L1503.2 567.4 L1502.2 567.6 L1501.1 567.8 L1500.1 568 L1499.1 568.2 L1498 568.5 L1497 568.8 L1496 569.1 L1494.9 569.5 L1493.9 570 L1492.9 570.5 L1491.8 571 L1490.8 571.7 L1489.8 572.4 L1488.7 573.2 L1487.7 574.1 L1486.7 575.1 L1485.6 576.3 L1484.6 577.6 L1483.6 579.1 L1482.5 580.9 L1481.5 583 L1480.4 585.3 L1479.4 588 L1478.4 591 L1477.3 594.4 L1476.3 598.1 L1476 599.1 L1475.8 600.1 L1475.5 601.2 L1475.2 602.4 L1474.9 603.5 L1474.7 604.7 L1474.4 606 L1474.1 607.2 L1473.9 608.5 L1473.6 609.9 L1473.3 611.2 L1473 612.6 L1472.8 614.1 L1472.5 615.6 L1472.2 617.1 L1472 618.6 L1471.7 620.2 L1471.4 621.7 L1471.1 623.3 L1470.9 624.8 L1470.6 626.3 L1470.3 627.8 L1470 629.1 L1469.8 630.4 L1469.5 631.4 L1469.2 632.1 L1469 632.5 L1468.7 632.4 L1468.4 631.7 L1468.1 630 L1467.9 627.3 L1467.6 623 L1467.3 616.8 L1467.1 608 L1466.8 596Z" fill="#0000ff" fill-opacity="0.1" stroke="none"/><line x1="1466.22" y1="586.43" x2="1473.75" y2="586.43" stroke="#ff0000" stroke-opacity="0.2" stroke-width="4"/><line x1="1473.75" y1="590.6" x2="1482.18" y2="590.6" stroke="#ff0000" stroke-opacity="0.2" stroke-width="4"/><line x1="1482.18" y1="558.65" x2="1506.36" y2="558.65" stroke="#ff0000" stroke-opacity="0.2" stroke-width="4"/><line x1="1506.36" y1="558.65" x2="1556.95" y2="558.65" stroke="#ff0000" stroke-opacity="0.2" stroke-width="4"/><line x1="1470.04" y1="567.31" x2="1470.04" y2="600.5" stroke="#ff0000" stroke-opacity="0.8" stroke-width="2.3"/><circle cx="1470.04" cy="586.43" r="3.7" fill="#ff0000" fill-opacity="0.8"/><line x1="1477.13" y1="573.5" x2="1477.13" y2="623.56" stroke="#ff0000" stroke-opacity="0.8" stroke-width="2.3"/><circle cx="1477.13" cy="590.6" r="3.7" fill="#ff0000" fill-opacity="0.8"/><line x1="1494.33" y1="558.65" x2="1494.33" y2="599.93" stroke="#ff0000" stroke-opacity="0.8" stroke-width="2.3"/><circle cx="1494.33" cy="558.65" r="3.7" fill="#ff0000" fill-opacity="0.8"/><line x1="1531.88" y1="558.65" x2="1531.88" y2="604.43" stroke="#ff0000" stroke-opacity="0.8" stroke-width="2.3"/><circle cx="1531.88" cy="558.65" r="3.7" fill="#ff0000" fill-opacity="0.8"/><line x1="1466.22" y1="599.37" x2="1473.75" y2="599.37" stroke="#0000ff" stroke-opacity="0.2" stroke-width="4"/><line x1="1473.75" y1="572.94" x2="1482.18" y2="572.94" stroke="#0000ff" stroke-opacity="0.2" stroke-width="4"/><line x1="1482.18" y1="563.15" x2="1506.36" y2="563.15" stroke="#0000ff" stroke-opacity="0.2" stroke-width="4"/><line x1="1506.36" y1="562.81" x2="1556.95" y2="562.81" stroke="#0000ff" stroke-opacity="0.2" stroke-width="4"/><line x1="1470.04" y1="576.87" x2="1470.04" y2="628.62" stroke="#0000ff" stroke-opacity="0.8" stroke-width="2.3"/><circle cx="1470.04" cy="599.37" r="3.7" fill="#0000ff" fill-opacity="0.8"/><line x1="1477.13" y1="562.25" x2="1477.13" y2="602.18" stroke="#0000ff" stroke-opacity="0.8" stroke-width="2.3"/><circle cx="1477.13" cy="572.94" r="3.7" fill="#0000ff" fill-opacity="0.8"/><line x1="1494.33" y1="561.69" x2="1494.33" y2="571.81" stroke="#0000ff" stroke-opacity="0.8" stroke-width="2.3"/><circle cx="1494.33" cy="563.15" r="3.7" fill="#0000ff" fill-opacity="0.8"/><line x1="1531.88" y1="561.69" x2="1531.88" y2="565.62" stroke="#0000ff" stroke-opacity="0.8" stroke-width="2.3"/><circle cx="1531.88" cy="562.81" r="3.7" fill="#0000ff" fill-opacity="0.8"/><path d="M1466.8 587 L1467.1 595 L1467.3 600.3 L1467.6 603.7 L1467.9 605.6 L1468.1 606.3 L1468.4 606.3 L1468.7 605.6 L1469 604.4 L1469.2 602.9 L1469.5 601.1 L1469.8 599.1 L1470 597.1 L1470.3 595.1 L1470.6 593.1 L1470.9 591.1 L1471.1 589.2 L1471.4 587.5 L1471.7 585.8 L1472 584.2 L1472.2 582.8 L1472.5 581.5 L1472.8 580.4 L1473 579.4 L1473.3 578.5 L1473.6 577.8 L1473.9 577.1 L1474.1 576.4 L1474.4 575.8 L1474.7 575.3 L1474.9 574.8 L1475.2 574.3 L1475.5 573.9 L1475.8 573.4 L1476 572.9 L1476.3 572.4 L1477.3 570.8 L1478.4 569.5 L1479.4 568.6 L1480.4 567.8 L1481.5 567.3 L1482.5 566.8 L1483.6 566.2 L1484.6 565.7 L1485.6 565.3 L1486.7 565 L1487.7 564.7 L1488.7 564.4 L1489.8 564.1 L1490.8 563.9 L1491.8 563.7 L1492.9 563.5 L1493.9 563.4 L1494.9 563.3 L1496 563.2 L1497 563.1 L1498 563.1 L1499.1 563.1 L1500.1 563 L1501.1 563 L1502.2 563 L1503.2 562.9 L1504.3 562.9 L1505.3 562.9 L1506.3 562.9 L1507.4 562.9 L1508.4 562.9 L1509.4 562.8 L1510.5 562.8 L1511.5 562.8 L1512.5 562.8 L1513.6 562.8 L1514.6 562.8 L1515.6 562.8 L1516.7 562.8 L1523.3 562.8 L1529.8 562.8 L1536.4 562.8 L1543 562.8 L1549.6 562.8 L1556.2 562.8 L1562.7 562.8 L1569.3 562.8 L1575.9 562.8 L1582.5 562.8 L1589.1 562.8 L1595.6 562.8 L1602.2 562.8 L1608.8 562.8 L1615.4 562.8 L1622 562.8 L1628.5 562.8 L1635.1 562.8 L1641.7 562.8 L1648.3 562.8 L1654.9 562.8 L1661.4 562.8 L1668 562.8" fill="none" stroke="#0000ff" stroke-width="2" stroke-linejoin="round"/><text x="1568.02" y="545.85" font-size="27.2" fill="#000" text-anchor="middle">Jordan (37)</text></g>
<g><path d="M1683.97 669.9H1906.55M1683.97 655.99H1906.55M1683.97 642.09H1906.55M1683.97 628.18H1906.55M1683.97 614.27H1906.55M1683.97 600.37H1906.55M1683.97 586.46H1906.55M1683.97 572.56H1906.55M1683.97 558.65H1906.55M1694.06 553.09V675.46M1719.28 553.09V675.46M1744.51 553.09V675.46M1769.73 553.09V675.46M1794.96 553.09V675.46M1820.18 553.09V675.46M1845.41 553.09V675.46M1870.63 553.09V675.46M1895.86 553.09V675.46" stroke="#ebebeb" stroke-width="2" fill="none"/><path d="M1694.4 578 L1694.7 587.6 L1695 593.6 L1695.2 596.8 L1695.5 598.1 L1695.8 598.1 L1696.1 597.2 L1696.3 595.8 L1696.6 593.9 L1696.9 591.9 L1697.2 589.8 L1697.5 587.7 L1697.7 585.7 L1698 583.7 L1698.3 581.9 L1698.6 580.2 L1698.9 578.6 L1699.1 577.1 L1699.4 575.7 L1699.7 574.5 L1700 573.3 L1700.2 572.2 L1700.5 571.2 L1700.8 570.2 L1701.1 569.3 L1701.4 568.5 L1701.6 567.7 L1701.9 567 L1702.2 566.3 L1702.5 565.7 L1702.8 565.2 L1703 564.7 L1703.3 564.2 L1703.6 563.9 L1703.9 563.5 L1704.1 563.3 L1705.2 562.6 L1706.2 562.1 L1707.3 561.8 L1708.3 561.6 L1709.3 561.5 L1710.4 561.4 L1711.4 561.4 L1712.4 561.4 L1713.5 561.4 L1714.5 561.4 L1715.5 561.5 L1716.6 561.5 L1717.6 561.5 L1718.6 561.6 L1719.7 561.6 L1720.7 561.7 L1721.7 561.7 L1722.8 561.8 L1723.8 561.8 L1724.8 561.9 L1725.9 561.9 L1726.9 561.9 L1728 562 L1729 562 L1730 562.1 L1731.1 562.1 L1732.1 562.1 L1733.1 562.1 L1734.2 562.2 L1735.2 562.2 L1736.2 562.2 L1737.3 562.2 L1738.3 562.3 L1739.3 562.3 L1740.4 562.3 L1741.4 562.3 L1742.4 562.3 L1743.5 562.3 L1744.5 562.3 L1751.1 562.3 L1757.7 562.3 L1764.3 562.4 L1770.8 562.4 L1777.4 562.4 L1784 562.4 L1790.6 562.4 L1797.2 562.4 L1803.7 562.4 L1810.3 562.4 L1816.9 562.4 L1823.5 562.4 L1830.1 562.4 L1836.6 562.4 L1843.2 562.4 L1849.8 562.4 L1856.4 562.4 L1863 562.4 L1869.5 562.4 L1876.1 562.4 L1882.7 562.4 L1889.3 562.4 L1895.9 562.4 L1895.9 564.8 L1889.3 564.8 L1882.7 564.8 L1876.1 564.8 L1869.5 564.8 L1863 564.8 L1856.4 564.8 L1849.8 564.8 L1843.2 564.8 L1836.6 564.8 L1830.1 564.8 L1823.5 564.8 L1816.9 564.8 L1810.3 564.8 L1803.7 564.8 L1797.2 564.8 L1790.6 564.8 L1784 564.8 L1777.4 564.8 L1770.8 564.8 L1764.3 564.8 L1757.7 564.9 L1751.1 565.1 L1744.5 565.5 L1743.5 565.6 L1742.4 565.7 L1741.4 565.7 L1740.4 565.8 L1739.3 565.9 L1738.3 566 L1737.3 566.2 L1736.2 566.3 L1735.2 566.4 L1734.2 566.6 L1733.1 566.8 L1732.1 567 L1731.1 567.2 L1730 567.5 L1729 567.8 L1728 568.1 L1726.9 568.5 L1725.9 568.9 L1724.8 569.4 L1723.8 569.9 L1722.8 570.5 L1721.7 571.2 L1720.7 571.9 L1719.7 572.7 L1718.6 573.7 L1717.6 574.8 L1716.6 576 L1715.5 577.4 L1714.5 578.9 L1713.5 580.6 L1712.4 582.4 L1711.4 584.4 L1710.4 586.6 L1709.3 588.9 L1708.3 591.5 L1707.3 594.4 L1706.2 597.5 L1705.2 601 L1704.1 604.7 L1703.9 605.8 L1703.6 606.9 L1703.3 608 L1703 609.2 L1702.8 610.4 L1702.5 611.6 L1702.2 612.8 L1701.9 614.1 L1701.6 615.4 L1701.4 616.7 L1701.1 618 L1700.8 619.3 L1700.5 620.7 L1700.2 622.1 L1700 623.5 L1699.7 624.9 L1699.4 626.2 L1699.1 627.6 L1698.9 628.9 L1698.6 630.2 L1698.3 631.4 L1698 632.5 L1697.7 633.4 L1697.5 634.2 L1697.2 634.7 L1696.9 635 L1696.6 634.8 L1696.3 634.1 L1696.1 632.8 L1695.8 630.6 L1695.5 627.5 L1695.2 623 L1695 617 L1694.7 608.9 L1694.4 598.2Z" fill="#0000ff" fill-opacity="0.1" stroke="none"/><line x1="1694.06" y1="589.81" x2="1714.07" y2="589.81" stroke="#ff0000" stroke-opacity="0.2" stroke-width="4"/><line x1="1714.07" y1="567.54" x2="1895.97" y2="567.54" stroke="#ff0000" stroke-opacity="0.2" stroke-width="4"/><line x1="1704.18" y1="584.75" x2="1704.18" y2="594.87" stroke="#ff0000" stroke-opacity="0.8" stroke-width="2.3"/><circle cx="1704.18" cy="589.81" r="3.7" fill="#ff0000" fill-opacity="0.8"/><line x1="1805.13" y1="564.5" x2="1805.13" y2="571.81" stroke="#ff0000" stroke-opacity="0.8" stroke-width="2.3"/><circle cx="1805.13" cy="567.54" r="3.7" fill="#ff0000" fill-opacity="0.8"/><line x1="1694.06" y1="587.9" x2="1714.07" y2="587.9" stroke="#0000ff" stroke-opacity="0.2" stroke-width="4"/><line x1="1714.07" y1="564.27" x2="1895.97" y2="564.27" stroke="#0000ff" stroke-opacity="0.2" stroke-width="4"/><line x1="1704.18" y1="570.69" x2="1704.18" y2="607.24" stroke="#0000ff" stroke-opacity="0.8" stroke-width="2.3"/><circle cx="1704.18" cy="587.9" r="3.7" fill="#0000ff" fill-opacity="0.8"/><line x1="1805.13" y1="562.81" x2="1805.13" y2="566.19" stroke="#0000ff" stroke-opacity="0.8" stroke-width="2.3"/><circle cx="1805.13" cy="564.27" r="3.7" fill="#0000ff" fill-opacity="0.8"/><path d="M1694.4 588.1 L1694.7 597.5 L1695 604.3 L1695.2 609 L1695.5 612.2 L1695.8 614.2 L1696.1 615.2 L1696.3 615.5 L1696.6 615.2 L1696.9 614.3 L1697.2 613 L1697.5 611.4 L1697.7 609.6 L1698 607.6 L1698.3 605.5 L1698.6 603.4 L1698.9 601.4 L1699.1 599.4 L1699.4 597.5 L1699.7 595.7 L1700 594 L1700.2 592.5 L1700.5 591.2 L1700.8 590.1 L1701.1 589.1 L1701.4 588.2 L1701.6 587.4 L1701.9 586.7 L1702.2 586.1 L1702.5 585.4 L1702.8 584.8 L1703 584.2 L1703.3 583.6 L1703.6 582.9 L1703.9 582.2 L1704.1 581.5 L1705.2 578.8 L1706.2 576.6 L1707.3 574.8 L1708.3 573.3 L1709.3 572 L1710.4 570.7 L1711.4 569.4 L1712.4 568.2 L1713.5 567.3 L1714.5 566.6 L1715.5 566.2 L1716.6 565.8 L1717.6 565.5 L1718.6 565.3 L1719.7 565.1 L1720.7 564.9 L1721.7 564.7 L1722.8 564.6 L1723.8 564.5 L1724.8 564.5 L1725.9 564.4 L1726.9 564.3 L1728 564.3 L1729 564.3 L1730 564.2 L1731.1 564.2 L1732.1 564.2 L1733.1 564.2 L1734.2 564.1 L1735.2 564.1 L1736.2 564.1 L1737.3 564.1 L1738.3 564.1 L1739.3 564.1 L1740.4 564.1 L1741.4 564.1 L1742.4 564.1 L1743.5 564.1 L1744.5 564 L1751.1 564 L1757.7 564 L1764.3 564 L1770.8 564 L1777.4 564 L1784 564 L1790.6 564 L1797.2 564 L1803.7 564 L1810.3 564 L1816.9 564 L1823.5 564 L1830.1 564 L1836.6 563.9 L1843.2 563.9 L1849.8 563.9 L1856.4 563.9 L1863 563.9 L1869.5 563.9 L1876.1 563.9 L1882.7 563.9 L1889.3 563.9 L1895.9 563.9" fill="none" stroke="#0000ff" stroke-width="2" stroke-linejoin="round"/><text x="1795.86" y="545.85" font-size="27.2" fill="#000" text-anchor="middle">KSA, 1992 (38)</text></g>
<g><path d="M772.61 852.75H995.19M772.61 838.84H995.19M772.61 824.94H995.19M772.61 811.03H995.19M772.61 797.12H995.19M772.61 783.22H995.19M772.61 769.31H995.19M772.61 755.41H995.19M772.61 741.5H995.19M782.7 735.94V858.31M807.93 735.94V858.31M833.15 735.94V858.31M858.38 735.94V858.31M883.6 735.94V858.31M908.83 735.94V858.31M934.05 735.94V858.31M959.28 735.94V858.31M984.5 735.94V858.31" stroke="#ebebeb" stroke-width="2" fill="none"/><path d="M782.9 763.2 L783.2 774.1 L783.5 782.3 L783.8 788.4 L784.1 792.7 L784.3 795.7 L784.6 797.6 L784.9 798.6 L785.2 798.9 L785.5 798.7 L785.7 798.1 L786 797.1 L786.3 796 L786.6 794.6 L786.9 793.2 L787.2 791.7 L787.4 790.1 L787.7 788.5 L788 786.9 L788.3 785.2 L788.6 783.7 L788.8 782.1 L789.1 780.6 L789.4 779.1 L789.7 777.7 L790 776.3 L790.3 775 L790.5 773.7 L790.8 772.5 L791.1 771.3 L791.4 770.1 L791.7 769.1 L791.9 768 L792.2 767 L792.5 766 L792.8 765.1 L793.8 762 L794.9 759.2 L795.9 756.9 L796.9 754.8 L798 753 L799 751.5 L800 750.2 L801.1 749.2 L802.1 748.4 L803.1 747.8 L804.2 747.2 L805.2 746.8 L806.2 746.5 L807.3 746.3 L808.3 746.1 L809.3 745.9 L810.4 745.8 L811.4 745.7 L812.5 745.7 L813.5 745.6 L814.5 745.6 L815.6 745.6 L816.6 745.7 L817.6 745.7 L818.7 745.7 L819.7 745.8 L820.7 745.8 L821.8 745.8 L822.8 745.9 L823.8 745.9 L824.9 746 L825.9 746 L826.9 746 L828 746.1 L829 746.1 L830 746.1 L831.1 746.1 L832.1 746.1 L833.2 746.1 L839.7 746.1 L846.3 746.1 L852.9 746.1 L859.5 746.1 L866.1 746.1 L872.6 746.1 L879.2 746.1 L885.8 746.1 L892.4 746.1 L899 746.1 L905.5 746.1 L912.1 746.1 L918.7 746.1 L925.3 746.1 L931.9 746.1 L938.4 746.1 L945 746.1 L951.6 746 L958.2 746 L964.8 746 L971.3 746 L977.9 746 L984.5 746 L984.5 751.8 L977.9 751.8 L971.3 751.8 L964.8 751.8 L958.2 751.8 L951.6 751.8 L945 751.8 L938.4 751.8 L931.9 751.8 L925.3 751.8 L918.7 751.8 L912.1 751.8 L905.5 751.8 L899 751.8 L892.4 751.9 L885.8 751.9 L879.2 751.9 L872.6 752 L866.1 752.1 L859.5 752.3 L852.9 752.6 L846.3 753 L839.7 753.7 L833.2 754.9 L832.1 755.1 L831.1 755.3 L830 755.6 L829 755.9 L828 756.2 L826.9 756.5 L825.9 756.8 L824.9 757.2 L823.8 757.6 L822.8 758 L821.8 758.5 L820.7 759 L819.7 759.5 L818.7 760.1 L817.6 760.7 L816.6 761.4 L815.6 762.1 L814.5 762.8 L813.5 763.6 L812.5 764.5 L811.4 765.5 L810.4 766.5 L809.3 767.6 L808.3 768.8 L807.3 770.1 L806.2 771.6 L805.2 773.2 L804.2 775 L803.1 776.9 L802.1 778.9 L801.1 781 L800 783.2 L799 785.4 L798 787.9 L796.9 790.5 L795.9 793.2 L794.9 796.2 L793.8 799.4 L792.8 802.7 L792.5 803.7 L792.2 804.7 L791.9 805.7 L791.7 806.7 L791.4 807.7 L791.1 808.7 L790.8 809.8 L790.5 810.9 L790.3 811.9 L790 813 L789.7 814.1 L789.4 815.2 L789.1 816.3 L788.8 817.3 L788.6 818.4 L788.3 819.5 L788 820.5 L787.7 821.4 L787.4 822.3 L787.2 823.2 L786.9 823.9 L786.6 824.5 L786.3 824.9 L786 825.1 L785.7 825.1 L785.5 824.7 L785.2 823.9 L784.9 822.6 L784.6 820.7 L784.3 818 L784.1 814.3 L783.8 809.4 L783.5 803.1 L783.2 794.9 L782.9 784.6Z" fill="#0000ff" fill-opacity="0.1" stroke="none"/><line x1="782.92" y1="791.89" x2="802.71" y2="791.89" stroke="#ff0000" stroke-opacity="0.2" stroke-width="4"/><line x1="802.94" y1="746.56" x2="984.84" y2="746.56" stroke="#ff0000" stroke-opacity="0.2" stroke-width="4"/><line x1="792.59" y1="787.96" x2="792.59" y2="802.58" stroke="#ff0000" stroke-opacity="0.8" stroke-width="2.3"/><circle cx="792.59" cy="791.89" r="3.7" fill="#ff0000" fill-opacity="0.8"/><line x1="893.55" y1="744.65" x2="893.55" y2="748.59" stroke="#ff0000" stroke-opacity="0.8" stroke-width="2.3"/><circle cx="893.55" cy="746.56" r="3.7" fill="#ff0000" fill-opacity="0.8"/><line x1="782.92" y1="785.37" x2="802.71" y2="785.37" stroke="#0000ff" stroke-opacity="0.2" stroke-width="4"/><line x1="802.94" y1="750.05" x2="984.84" y2="750.05" stroke="#0000ff" stroke-opacity="0.2" stroke-width="4"/><line x1="792.59" y1="768.27" x2="792.59" y2="801.46" stroke="#0000ff" stroke-opacity="0.8" stroke-width="2.3"/><circle cx="792.59" cy="785.37" r="3.7" fill="#0000ff" fill-opacity="0.8"/><line x1="893.55" y1="747.46" x2="893.55" y2="756.46" stroke="#0000ff" stroke-opacity="0.8" stroke-width="2.3"/><circle cx="893.55" cy="750.05" r="3.7" fill="#0000ff" fill-opacity="0.8"/><path d="M782.9 773.9 L783.2 783.5 L783.5 791.2 L783.8 797.1 L784.1 801.7 L784.3 805.1 L784.6 807.7 L784.9 809.4 L785.2 810.5 L785.5 811.1 L785.7 811.2 L786 811.1 L786.3 810.6 L786.6 809.9 L786.9 809.1 L787.2 808.1 L787.4 807 L787.7 805.8 L788 804.6 L788.3 803.3 L788.6 802 L788.8 800.7 L789.1 799.3 L789.4 798 L789.7 796.7 L790 795.4 L790.3 794.1 L790.5 792.8 L790.8 791.5 L791.1 790.3 L791.4 789.1 L791.7 788 L791.9 786.8 L792.2 785.7 L792.5 784.6 L792.8 783.6 L793.8 780 L794.9 776.9 L795.9 774.1 L796.9 771.7 L798 769.5 L799 767.5 L800 765.6 L801.1 763.8 L802.1 762.1 L803.1 760.4 L804.2 758.9 L805.2 757.5 L806.2 756.3 L807.3 755.3 L808.3 754.5 L809.3 753.8 L810.4 753.3 L811.4 752.8 L812.5 752.5 L813.5 752.2 L814.5 751.9 L815.6 751.7 L816.6 751.5 L817.6 751.3 L818.7 751.1 L819.7 751 L820.7 750.8 L821.8 750.6 L822.8 750.4 L823.8 750.3 L824.9 750.1 L825.9 750 L826.9 749.9 L828 749.8 L829 749.7 L830 749.6 L831.1 749.5 L832.1 749.4 L833.2 749.4 L839.7 749.1 L846.3 749 L852.9 749 L859.5 748.9 L866.1 748.9 L872.6 748.9 L879.2 748.9 L885.8 748.9 L892.4 748.9 L899 748.9 L905.5 748.9 L912.1 748.9 L918.7 748.8 L925.3 748.8 L931.9 748.8 L938.4 748.8 L945 748.8 L951.6 748.8 L958.2 748.8 L964.8 748.8 L971.3 748.8 L977.9 748.8 L984.5 748.8" fill="none" stroke="#0000ff" stroke-width="2" stroke-linejoin="round"/><text x="884.5" y="729.8" font-size="27.2" fill="#000" text-anchor="middle">KSA, 2013 (38)</text><text x="768" y="863.4" font-size="27.4" fill="#4d4d4d" text-anchor="end">0.00</text><text x="768" y="835.59" font-size="27.4" fill="#4d4d4d" text-anchor="end">0.25</text><text x="768" y="807.77" font-size="27.4" fill="#4d4d4d" text-anchor="end">0.50</text><text x="768" y="779.96" font-size="27.4" fill="#4d4d4d" text-anchor="end">0.75</text><text x="768" y="752.15" font-size="27.4" fill="#4d4d4d" text-anchor="end">1.00</text></g>
<g><path d="M1000.45 852.75H1223.03M1000.45 838.84H1223.03M1000.45 824.94H1223.03M1000.45 811.03H1223.03M1000.45 797.12H1223.03M1000.45 783.22H1223.03M1000.45 769.31H1223.03M1000.45 755.41H1223.03M1000.45 741.5H1223.03M1010.54 735.94V858.31M1035.77 735.94V858.31M1060.99 735.94V858.31M1086.22 735.94V858.31M1111.44 735.94V858.31M1136.66 735.94V858.31M1161.89 735.94V858.31M1187.12 735.94V858.31M1212.34 735.94V858.31" stroke="#ebebeb" stroke-width="2" fill="none"/><path d="M1011 759.8 L1011.3 775.9 L1011.5 781.6 L1011.8 781.9 L1012.1 779.6 L1012.4 776.2 L1012.6 772.4 L1012.9 768.8 L1013.2 765.4 L1013.5 762.3 L1013.7 759.6 L1014 757.3 L1014.3 755.2 L1014.6 753.5 L1014.8 751.9 L1015.1 750.6 L1015.4 749.5 L1015.7 748.6 L1015.9 747.8 L1016.2 747.1 L1016.5 746.6 L1016.8 746.1 L1017 745.7 L1017.3 745.4 L1017.6 745.1 L1017.9 744.9 L1018.2 744.7 L1018.4 744.6 L1018.7 744.4 L1019 744.3 L1019.3 744.3 L1019.5 744.2 L1019.8 744.1 L1020.1 744.1 L1020.4 744.1 L1020.6 744.1 L1021.7 744.1 L1022.7 744.1 L1023.7 744.2 L1024.8 744.2 L1025.8 744.3 L1026.8 744.4 L1027.9 744.4 L1028.9 744.5 L1029.9 744.5 L1031 744.5 L1032 744.5 L1033 744.5 L1034.1 744.5 L1035.1 744.5 L1036.2 744.5 L1037.2 744.5 L1038.2 744.5 L1039.3 744.5 L1040.3 744.5 L1041.3 744.5 L1042.4 744.5 L1043.4 744.5 L1044.4 744.5 L1045.5 744.5 L1046.5 744.5 L1047.5 744.5 L1048.6 744.5 L1049.6 744.5 L1050.6 744.5 L1051.7 744.5 L1052.7 744.5 L1053.7 744.5 L1054.8 744.5 L1055.8 744.5 L1056.9 744.5 L1057.9 744.5 L1058.9 744.5 L1060 744.5 L1061 744.5 L1067.6 744.5 L1074.2 744.5 L1080.7 744.5 L1087.3 744.5 L1093.9 744.5 L1100.5 744.5 L1107.1 744.5 L1113.6 744.5 L1120.2 744.5 L1126.8 744.5 L1133.4 744.5 L1140 744.5 L1146.5 744.5 L1153.1 744.5 L1159.7 744.5 L1166.3 744.5 L1172.9 744.5 L1179.4 744.5 L1186 744.4 L1192.6 744.4 L1199.2 744.4 L1205.8 744.4 L1212.3 744.4 L1212.3 749 L1205.8 749 L1199.2 749 L1192.6 749 L1186 749 L1179.4 749 L1172.9 749 L1166.3 749 L1159.7 749 L1153.1 749 L1146.5 749 L1140 749 L1133.4 749 L1126.8 749 L1120.2 749 L1113.6 749 L1107.1 749 L1100.5 749 L1093.9 749 L1087.3 749 L1080.7 749.1 L1074.2 749.1 L1067.6 749.3 L1061 749.7 L1060 749.7 L1058.9 749.8 L1057.9 749.9 L1056.9 750 L1055.8 750.2 L1054.8 750.3 L1053.7 750.4 L1052.7 750.6 L1051.7 750.7 L1050.6 750.9 L1049.6 751.1 L1048.6 751.3 L1047.5 751.5 L1046.5 751.7 L1045.5 752 L1044.4 752.3 L1043.4 752.7 L1042.4 753.1 L1041.3 753.5 L1040.3 754 L1039.3 754.6 L1038.2 755.2 L1037.2 755.9 L1036.2 756.7 L1035.1 757.6 L1034.1 758.6 L1033 759.8 L1032 761 L1031 762.4 L1029.9 764 L1028.9 765.7 L1027.9 767.6 L1026.8 769.7 L1025.8 772 L1024.8 774.6 L1023.7 777.4 L1022.7 780.6 L1021.7 784 L1020.6 787.7 L1020.4 788.8 L1020.1 789.9 L1019.8 791 L1019.5 792.1 L1019.3 793.2 L1019 794.4 L1018.7 795.6 L1018.4 796.8 L1018.2 798.1 L1017.9 799.4 L1017.6 800.6 L1017.3 802 L1017 803.3 L1016.8 804.6 L1016.5 806 L1016.2 807.3 L1015.9 808.6 L1015.7 809.9 L1015.4 811.2 L1015.1 812.4 L1014.8 813.5 L1014.6 814.5 L1014.3 815.4 L1014 816.1 L1013.7 816.5 L1013.5 816.7 L1013.2 816.4 L1012.9 815.6 L1012.6 814.1 L1012.4 811.9 L1012.1 808.6 L1011.8 804 L1011.5 797.8 L1011.3 789.6 L1011 779Z" fill="#0000ff" fill-opacity="0.1" stroke="none"/><line x1="1010.54" y1="748.59" x2="1040.89" y2="748.59" stroke="#ff0000" stroke-opacity="0.2" stroke-width="4"/><line x1="1040.89" y1="766.02" x2="1070.91" y2="766.02" stroke="#ff0000" stroke-opacity="0.2" stroke-width="4"/><line x1="1025.72" y1="744.09" x2="1025.72" y2="753.09" stroke="#ff0000" stroke-opacity="0.8" stroke-width="2.3"/><circle cx="1025.72" cy="748.59" r="3.7" fill="#ff0000" fill-opacity="0.8"/><line x1="1055.96" y1="757.59" x2="1055.96" y2="776.71" stroke="#ff0000" stroke-opacity="0.8" stroke-width="2.3"/><circle cx="1055.96" cy="766.02" r="3.7" fill="#ff0000" fill-opacity="0.8"/><line x1="1010.54" y1="754.44" x2="1040.89" y2="754.44" stroke="#0000ff" stroke-opacity="0.2" stroke-width="4"/><line x1="1040.89" y1="746.11" x2="1070.91" y2="746.11" stroke="#0000ff" stroke-opacity="0.2" stroke-width="4"/><line x1="1025.72" y1="746.34" x2="1025.72" y2="771.65" stroke="#0000ff" stroke-opacity="0.8" stroke-width="2.3"/><circle cx="1025.72" cy="754.44" r="3.7" fill="#0000ff" fill-opacity="0.8"/><line x1="1055.96" y1="742.4" x2="1055.96" y2="750.84" stroke="#0000ff" stroke-opacity="0.8" stroke-width="2.3"/><circle cx="1055.96" cy="746.11" r="3.7" fill="#0000ff" fill-opacity="0.8"/><path d="M1011 769.4 L1011.3 777.5 L1011.5 783.1 L1011.8 786.7 L1012.1 788.8 L1012.4 789.8 L1012.6 789.9 L1012.9 789.4 L1013.2 788.4 L1013.5 787 L1013.7 785.4 L1014 783.7 L1014.3 781.8 L1014.6 779.9 L1014.8 778 L1015.1 776.1 L1015.4 774.3 L1015.7 772.6 L1015.9 770.9 L1016.2 769.3 L1016.5 767.7 L1016.8 766.3 L1017 765 L1017.3 763.8 L1017.6 762.7 L1017.9 761.7 L1018.2 760.7 L1018.4 759.9 L1018.7 759.1 L1019 758.4 L1019.3 757.7 L1019.5 757.1 L1019.8 756.5 L1020.1 755.9 L1020.4 755.4 L1020.6 754.8 L1021.7 753 L1022.7 751.6 L1023.7 750.6 L1024.8 749.7 L1025.8 749.1 L1026.8 748.6 L1027.9 748.1 L1028.9 747.7 L1029.9 747.4 L1031 747.2 L1032 747 L1033 746.9 L1034.1 746.7 L1035.1 746.6 L1036.2 746.6 L1037.2 746.5 L1038.2 746.5 L1039.3 746.4 L1040.3 746.4 L1041.3 746.3 L1042.4 746.3 L1043.4 746.2 L1044.4 746.2 L1045.5 746.2 L1046.5 746.1 L1047.5 746.1 L1048.6 746.1 L1049.6 746.1 L1050.6 746 L1051.7 746 L1052.7 746 L1053.7 746 L1054.8 745.9 L1055.8 745.9 L1056.9 745.9 L1057.9 745.9 L1058.9 745.9 L1060 745.9 L1061 745.9 L1067.6 745.9 L1074.2 745.9 L1080.7 745.8 L1087.3 745.8 L1093.9 745.8 L1100.5 745.8 L1107.1 745.8 L1113.6 745.8 L1120.2 745.8 L1126.8 745.8 L1133.4 745.8 L1140 745.8 L1146.5 745.8 L1153.1 745.8 L1159.7 745.8 L1166.3 745.8 L1172.9 745.8 L1179.4 745.8 L1186 745.8 L1192.6 745.8 L1199.2 745.8 L1205.8 745.8 L1212.3 745.8" fill="none" stroke="#0000ff" stroke-width="2" stroke-linejoin="round"/><text x="1112.34" y="729.8" font-size="27.2" fill="#000" text-anchor="middle">KSA (17)</text></g>
<g><path d="M1228.29 852.75H1450.87M1228.29 838.84H1450.87M1228.29 824.94H1450.87M1228.29 811.03H1450.87M1228.29 797.12H1450.87M1228.29 783.22H1450.87M1228.29 769.31H1450.87M1228.29 755.41H1450.87M1228.29 741.5H1450.87M1238.38 735.94V858.31M1263.61 735.94V858.31M1288.83 735.94V858.31M1314.06 735.94V858.31M1339.28 735.94V858.31M1364.51 735.94V858.31M1389.73 735.94V858.31M1414.96 735.94V858.31M1440.18 735.94V858.31" stroke="#ebebeb" stroke-width="2" fill="none"/><path d="M1238.9 759.8 L1239.2 765.6 L1239.5 769.3 L1239.8 771.2 L1240 772 L1240.3 772 L1240.6 771.3 L1240.8 770.2 L1241.1 768.9 L1241.4 767.4 L1241.7 765.8 L1241.9 764.2 L1242.2 762.6 L1242.5 761.1 L1242.8 759.7 L1243 758.3 L1243.3 757 L1243.6 755.8 L1243.8 754.7 L1244.1 753.7 L1244.4 752.7 L1244.7 751.8 L1244.9 751 L1245.2 750.3 L1245.5 749.7 L1245.7 749 L1246 748.5 L1246.3 748 L1246.6 747.6 L1246.8 747.2 L1247.1 746.8 L1247.4 746.5 L1247.7 746.2 L1247.9 745.9 L1248.2 745.7 L1248.5 745.5 L1249.5 744.9 L1250.5 744.5 L1251.6 744.3 L1252.6 744.2 L1253.6 744.1 L1254.7 744.1 L1255.7 744.1 L1256.7 744.1 L1257.8 744.1 L1258.8 744.1 L1259.9 744.1 L1260.9 744.1 L1261.9 744.2 L1263 744.2 L1264 744.2 L1265 744.2 L1266.1 744.2 L1267.1 744.2 L1268.1 744.2 L1269.2 744.2 L1270.2 744.2 L1271.2 744.2 L1272.3 744.2 L1273.3 744.2 L1274.3 744.2 L1275.4 744.2 L1276.4 744.2 L1277.4 744.2 L1278.5 744.2 L1279.5 744.2 L1280.6 744.2 L1281.6 744.2 L1282.6 744.2 L1283.7 744.2 L1284.7 744.2 L1285.7 744.2 L1286.8 744.2 L1287.8 744.2 L1288.8 744.2 L1295.4 744.2 L1302 744.2 L1308.6 744.2 L1315.2 744.2 L1321.7 744.2 L1328.3 744.1 L1334.9 744.1 L1341.5 744.1 L1348.1 744.1 L1354.6 744.1 L1361.2 744.1 L1367.8 744.1 L1374.4 744.1 L1381 744.1 L1387.5 744.1 L1394.1 744.1 L1400.7 744.1 L1407.3 744.1 L1413.9 744.1 L1420.4 744.1 L1427 744.1 L1433.6 744.1 L1440.2 744.1 L1440.2 747 L1433.6 747 L1427 747 L1420.4 747 L1413.9 747 L1407.3 747 L1400.7 747 L1394.1 747 L1387.5 747 L1381 747 L1374.4 747 L1367.8 747 L1361.2 747 L1354.6 747 L1348.1 747 L1341.5 747 L1334.9 747 L1328.3 747 L1321.7 747 L1315.2 747 L1308.6 747 L1302 747 L1295.4 747 L1288.8 747.1 L1287.8 747.1 L1286.8 747.1 L1285.7 747.1 L1284.7 747.1 L1283.7 747.1 L1282.6 747.2 L1281.6 747.2 L1280.6 747.2 L1279.5 747.2 L1278.5 747.3 L1277.4 747.3 L1276.4 747.4 L1275.4 747.4 L1274.3 747.5 L1273.3 747.6 L1272.3 747.7 L1271.2 747.8 L1270.2 747.9 L1269.2 748.1 L1268.1 748.2 L1267.1 748.5 L1266.1 748.8 L1265 749.1 L1264 749.5 L1263 749.9 L1261.9 750.5 L1260.9 751.1 L1259.9 751.7 L1258.8 752.5 L1257.8 753.3 L1256.7 754.2 L1255.7 755.3 L1254.7 756.5 L1253.6 758 L1252.6 759.7 L1251.6 761.7 L1250.5 764.1 L1249.5 766.9 L1248.5 770.2 L1248.2 771.2 L1247.9 772.2 L1247.7 773.2 L1247.4 774.3 L1247.1 775.5 L1246.8 776.6 L1246.6 777.9 L1246.3 779.2 L1246 780.5 L1245.7 781.9 L1245.5 783.3 L1245.2 784.8 L1244.9 786.3 L1244.7 787.9 L1244.4 789.5 L1244.1 791.2 L1243.8 792.9 L1243.6 794.7 L1243.3 796.5 L1243 798.3 L1242.8 800.1 L1242.5 801.8 L1242.2 803.5 L1241.9 805.1 L1241.7 806.6 L1241.4 807.8 L1241.1 808.7 L1240.8 809.1 L1240.6 809 L1240.3 808 L1240 806 L1239.8 802.7 L1239.5 797.4 L1239.2 789.8 L1238.9 779Z" fill="#0000ff" fill-opacity="0.1" stroke="none"/><line x1="1238.94" y1="772.77" x2="1248.72" y2="772.77" stroke="#ff0000" stroke-opacity="0.2" stroke-width="4"/><line x1="1248.72" y1="746.9" x2="1279.08" y2="746.9" stroke="#ff0000" stroke-opacity="0.2" stroke-width="4"/><line x1="1279.08" y1="744.42" x2="1299.31" y2="744.42" stroke="#ff0000" stroke-opacity="0.2" stroke-width="4"/><line x1="1299.31" y1="750.84" x2="1440.4" y2="750.84" stroke="#ff0000" stroke-opacity="0.2" stroke-width="4"/><line x1="1243.89" y1="767.71" x2="1243.89" y2="778.96" stroke="#ff0000" stroke-opacity="0.8" stroke-width="2.3"/><circle cx="1243.89" cy="772.77" r="3.7" fill="#ff0000" fill-opacity="0.8"/><line x1="1263.79" y1="744.65" x2="1263.79" y2="753.65" stroke="#ff0000" stroke-opacity="0.8" stroke-width="2.3"/><circle cx="1263.79" cy="746.9" r="3.7" fill="#ff0000" fill-opacity="0.8"/><line x1="1288.97" y1="742.96" x2="1288.97" y2="751.4" stroke="#ff0000" stroke-opacity="0.8" stroke-width="2.3"/><circle cx="1288.97" cy="744.42" r="3.7" fill="#ff0000" fill-opacity="0.8"/><line x1="1369.92" y1="746.34" x2="1369.92" y2="760.96" stroke="#ff0000" stroke-opacity="0.8" stroke-width="2.3"/><circle cx="1369.92" cy="750.84" r="3.7" fill="#ff0000" fill-opacity="0.8"/><line x1="1238.94" y1="772.43" x2="1248.72" y2="772.43" stroke="#0000ff" stroke-opacity="0.2" stroke-width="4"/><line x1="1248.72" y1="746.34" x2="1279.08" y2="746.34" stroke="#0000ff" stroke-opacity="0.2" stroke-width="4"/><line x1="1279.08" y1="745.55" x2="1299.31" y2="745.55" stroke="#0000ff" stroke-opacity="0.2" stroke-width="4"/><line x1="1299.31" y1="745.55" x2="1440.4" y2="745.55" stroke="#0000ff" stroke-opacity="0.2" stroke-width="4"/><line x1="1243.89" y1="757.59" x2="1243.89" y2="790.21" stroke="#0000ff" stroke-opacity="0.8" stroke-width="2.3"/><circle cx="1243.89" cy="772.43" r="3.7" fill="#0000ff" fill-opacity="0.8"/><line x1="1263.79" y1="744.65" x2="1263.79" y2="748.59" stroke="#0000ff" stroke-opacity="0.8" stroke-width="2.3"/><circle cx="1263.79" cy="746.34" r="3.7" fill="#0000ff" fill-opacity="0.8"/><line x1="1288.97" y1="744.09" x2="1288.97" y2="746.9" stroke="#0000ff" stroke-opacity="0.8" stroke-width="2.3"/><circle cx="1288.97" cy="745.55" r="3.7" fill="#0000ff" fill-opacity="0.8"/><line x1="1369.92" y1="744.09" x2="1369.92" y2="746.9" stroke="#0000ff" stroke-opacity="0.8" stroke-width="2.3"/><circle cx="1369.92" cy="745.55" r="3.7" fill="#0000ff" fill-opacity="0.8"/><path d="M1238.9 769.4 L1239.2 777.1 L1239.5 782.3 L1239.8 785.7 L1240 787.7 L1240.3 788.5 L1240.6 788.6 L1240.8 788 L1241.1 787 L1241.4 785.6 L1241.7 783.9 L1241.9 782.2 L1242.2 780.3 L1242.5 778.5 L1242.8 776.6 L1243 774.8 L1243.3 773.1 L1243.6 771.4 L1243.8 769.9 L1244.1 768.4 L1244.4 767 L1244.7 765.7 L1244.9 764.5 L1245.2 763.4 L1245.5 762.3 L1245.7 761.3 L1246 760.4 L1246.3 759.6 L1246.6 758.8 L1246.8 758 L1247.1 757.3 L1247.4 756.6 L1247.7 756 L1247.9 755.4 L1248.2 754.8 L1248.5 754.3 L1249.5 752.5 L1250.5 751.1 L1251.6 750 L1252.6 749.2 L1253.6 748.5 L1254.7 748 L1255.7 747.6 L1256.7 747.3 L1257.8 747 L1258.8 746.7 L1259.9 746.5 L1260.9 746.4 L1261.9 746.3 L1263 746.2 L1264 746.1 L1265 746 L1266.1 746 L1267.1 745.9 L1268.1 745.9 L1269.2 745.9 L1270.2 745.9 L1271.2 745.8 L1272.3 745.8 L1273.3 745.8 L1274.3 745.8 L1275.4 745.8 L1276.4 745.7 L1277.4 745.7 L1278.5 745.7 L1279.5 745.7 L1280.6 745.7 L1281.6 745.7 L1282.6 745.7 L1283.7 745.7 L1284.7 745.7 L1285.7 745.7 L1286.8 745.7 L1287.8 745.7 L1288.8 745.7 L1295.4 745.6 L1302 745.6 L1308.6 745.6 L1315.2 745.6 L1321.7 745.6 L1328.3 745.6 L1334.9 745.6 L1341.5 745.6 L1348.1 745.6 L1354.6 745.6 L1361.2 745.6 L1367.8 745.6 L1374.4 745.6 L1381 745.6 L1387.5 745.6 L1394.1 745.6 L1400.7 745.6 L1407.3 745.6 L1413.9 745.6 L1420.4 745.6 L1427 745.5 L1433.6 745.5 L1440.2 745.5" fill="none" stroke="#0000ff" stroke-width="2" stroke-linejoin="round"/><text x="1340.18" y="729.8" font-size="27.2" fill="#000" text-anchor="middle">KSA (26)</text></g>
<g><path d="M1456.13 852.75H1678.71M1456.13 838.84H1678.71M1456.13 824.94H1678.71M1456.13 811.03H1678.71M1456.13 797.12H1678.71M1456.13 783.22H1678.71M1456.13 769.31H1678.71M1456.13 755.41H1678.71M1456.13 741.5H1678.71M1466.22 735.94V858.31M1491.44 735.94V858.31M1516.67 735.94V858.31M1541.89 735.94V858.31M1567.12 735.94V858.31M1592.35 735.94V858.31M1617.57 735.94V858.31M1642.8 735.94V858.31M1668.02 735.94V858.31" stroke="#ebebeb" stroke-width="2" fill="none"/><path d="M1466.8 767.9 L1467.1 788.6 L1467.3 798.6 L1467.6 805.5 L1467.9 810.8 L1468.1 814.6 L1468.4 814.7 L1468.7 813.9 L1469 812.4 L1469.2 810.5 L1469.5 808.3 L1469.8 806.1 L1470 803.3 L1470.3 799.6 L1470.6 795.9 L1470.9 792.8 L1471.1 790.7 L1471.4 788.7 L1471.7 786.8 L1472 785 L1472.2 783.4 L1472.5 781.8 L1472.8 780.2 L1473 778.8 L1473.3 777.4 L1473.6 776.1 L1473.9 774.9 L1474.1 773.7 L1474.4 772.6 L1474.7 771.5 L1474.9 770.5 L1475.2 769.5 L1475.5 768.5 L1475.8 767.6 L1476 766.7 L1476.3 765.8 L1477.3 762.8 L1478.4 760.2 L1479.4 758.1 L1480.4 756.3 L1481.5 754.8 L1482.5 753.6 L1483.6 752.5 L1484.6 751.7 L1485.6 750.9 L1486.7 750.3 L1487.7 749.8 L1488.7 749.3 L1489.8 749 L1490.8 748.7 L1491.8 748.4 L1492.9 748.2 L1493.9 748.1 L1494.9 747.9 L1496 747.8 L1497 747.7 L1498 747.6 L1499.1 747.6 L1500.1 747.5 L1501.1 747.5 L1502.2 747.4 L1503.2 747.4 L1504.3 747.4 L1505.3 747.4 L1506.3 747.3 L1507.4 747.3 L1508.4 747.3 L1509.4 747.3 L1510.5 747.3 L1511.5 747.3 L1512.5 747.3 L1513.6 747.3 L1514.6 747.3 L1515.6 747.3 L1516.7 747.3 L1523.3 747.3 L1529.8 747.3 L1536.4 747.3 L1543 747.3 L1549.6 747.3 L1556.2 747.3 L1562.7 747.3 L1569.3 747.3 L1575.9 747.3 L1582.5 747.2 L1589.1 747.2 L1595.6 747.2 L1602.2 747.2 L1608.8 747.2 L1615.4 747.2 L1622 747.2 L1628.5 747.2 L1635.1 747.2 L1641.7 747.2 L1648.3 747.2 L1654.9 747.2 L1661.4 747.2 L1668 747.2 L1668 759.6 L1661.4 759.6 L1654.9 759.6 L1648.3 759.6 L1641.7 759.6 L1635.1 759.6 L1628.5 759.6 L1622 759.7 L1615.4 759.7 L1608.8 759.7 L1602.2 759.8 L1595.6 759.9 L1589.1 760 L1582.5 760.2 L1575.9 760.4 L1569.3 760.8 L1562.7 761.2 L1556.2 761.8 L1549.6 762.5 L1543 763.5 L1536.4 764.7 L1529.8 766.4 L1523.3 768.6 L1516.7 771.6 L1515.6 772.1 L1514.6 772.7 L1513.6 773.3 L1512.5 774 L1511.5 774.6 L1510.5 775.3 L1509.4 776 L1508.4 776.8 L1507.4 777.6 L1506.3 778.4 L1505.3 779.3 L1504.3 780.1 L1503.2 781.1 L1502.2 782 L1501.1 783.1 L1500.1 784.1 L1499.1 785.2 L1498 786.3 L1497 787.5 L1496 788.8 L1494.9 790 L1493.9 791.4 L1492.9 792.8 L1491.8 794.2 L1490.8 795.7 L1489.8 797.4 L1488.7 799.1 L1487.7 800.9 L1486.7 802.9 L1485.6 804.8 L1484.6 806.8 L1483.6 808.7 L1482.5 810.7 L1481.5 812.7 L1480.4 814.7 L1479.4 816.9 L1478.4 819 L1477.3 821.3 L1476.3 823.6 L1476 824.2 L1475.8 824.9 L1475.5 825.5 L1475.2 826.1 L1474.9 826.8 L1474.7 827.4 L1474.4 828 L1474.1 828.7 L1473.9 829.3 L1473.6 829.9 L1473.3 830.6 L1473 831.2 L1472.8 831.8 L1472.5 832.4 L1472.2 833 L1472 833.5 L1471.7 834 L1471.4 834.5 L1471.1 834.9 L1470.9 835.2 L1470.6 835.4 L1470.3 835.5 L1470 835.4 L1469.8 835.1 L1469.5 834.6 L1469.2 833.8 L1469 832.5 L1468.7 830.8 L1468.4 828.5 L1468.1 825.4 L1467.9 821.3 L1467.6 816.1 L1467.3 809.4 L1467.1 800.9 L1466.8 790.2Z" fill="#0000ff" fill-opacity="0.1" stroke="none"/><line x1="1466.22" y1="761.75" x2="1486.68" y2="761.75" stroke="#ff0000" stroke-opacity="0.2" stroke-width="4"/><line x1="1486.68" y1="762.31" x2="1668.24" y2="762.31" stroke="#ff0000" stroke-opacity="0.2" stroke-width="4"/><line x1="1476.34" y1="744.09" x2="1476.34" y2="776.15" stroke="#ff0000" stroke-opacity="0.8" stroke-width="2.3"/><circle cx="1476.34" cy="761.75" r="3.7" fill="#ff0000" fill-opacity="0.8"/><line x1="1577.52" y1="756.46" x2="1577.52" y2="767.71" stroke="#ff0000" stroke-opacity="0.8" stroke-width="2.3"/><circle cx="1577.52" cy="762.31" r="3.7" fill="#ff0000" fill-opacity="0.8"/><line x1="1466.22" y1="803.37" x2="1486.68" y2="803.37" stroke="#0000ff" stroke-opacity="0.2" stroke-width="4"/><line x1="1486.68" y1="758.37" x2="1668.24" y2="758.37" stroke="#0000ff" stroke-opacity="0.2" stroke-width="4"/><line x1="1476.34" y1="776.15" x2="1476.34" y2="818.33" stroke="#0000ff" stroke-opacity="0.8" stroke-width="2.3"/><circle cx="1476.34" cy="803.37" r="3.7" fill="#0000ff" fill-opacity="0.8"/><line x1="1577.52" y1="747.46" x2="1577.52" y2="769.96" stroke="#0000ff" stroke-opacity="0.8" stroke-width="2.3"/><circle cx="1577.52" cy="758.37" r="3.7" fill="#0000ff" fill-opacity="0.8"/><path d="M1466.8 779 L1467.1 790.2 L1467.3 799.1 L1467.6 806 L1467.9 811.3 L1468.1 815.3 L1468.4 818.3 L1468.7 820.5 L1469 822 L1469.2 822.9 L1469.5 823.5 L1469.8 823.6 L1470 823.5 L1470.3 823.2 L1470.6 822.6 L1470.9 821.9 L1471.1 821.1 L1471.4 820.2 L1471.7 819.3 L1472 818.3 L1472.2 817.2 L1472.5 816.1 L1472.8 815 L1473 813.9 L1473.3 812.8 L1473.6 811.7 L1473.9 810.7 L1474.1 809.6 L1474.4 808.5 L1474.7 807.5 L1474.9 806.4 L1475.2 805.4 L1475.5 804.4 L1475.8 803.4 L1476 802.5 L1476.3 801.6 L1477.3 798.2 L1478.4 795.1 L1479.4 792.3 L1480.4 789.7 L1481.5 787.3 L1482.5 785.1 L1483.6 783 L1484.6 781 L1485.6 779.2 L1486.7 777.5 L1487.7 775.9 L1488.7 774.4 L1489.8 773 L1490.8 771.8 L1491.8 770.6 L1492.9 769.5 L1493.9 768.5 L1494.9 767.6 L1496 766.8 L1497 766 L1498 765.3 L1499.1 764.6 L1500.1 763.9 L1501.1 763.3 L1502.2 762.8 L1503.2 762.2 L1504.3 761.7 L1505.3 761.3 L1506.3 760.8 L1507.4 760.4 L1508.4 760 L1509.4 759.6 L1510.5 759.3 L1511.5 758.9 L1512.5 758.6 L1513.6 758.3 L1514.6 758.1 L1515.6 757.8 L1516.7 757.6 L1523.3 756.3 L1529.8 755.5 L1536.4 754.9 L1543 754.5 L1549.6 754.3 L1556.2 754.1 L1562.7 754 L1569.3 754 L1575.9 753.9 L1582.5 753.8 L1589.1 753.8 L1595.6 753.8 L1602.2 753.7 L1608.8 753.7 L1615.4 753.7 L1622 753.6 L1628.5 753.6 L1635.1 753.6 L1641.7 753.5 L1648.3 753.5 L1654.9 753.5 L1661.4 753.4 L1668 753.4" fill="none" stroke="#0000ff" stroke-width="2" stroke-linejoin="round"/><text x="1568.02" y="729.8" font-size="27.2" fill="#000" text-anchor="middle">KSA (16)</text><text x="1466.22" y="883.05" font-size="27.4" fill="#4d4d4d" text-anchor="middle">0</text><text x="1516.67" y="883.05" font-size="27.4" fill="#4d4d4d" text-anchor="middle">5</text><text x="1567.12" y="883.05" font-size="27.4" fill="#4d4d4d" text-anchor="middle">10</text><text x="1617.57" y="883.05" font-size="27.4" fill="#4d4d4d" text-anchor="middle">15</text><text x="1668.02" y="883.05" font-size="27.4" fill="#4d4d4d" text-anchor="middle">20</text></g>
<g><path d="M1683.97 852.75H1906.55M1683.97 838.84H1906.55M1683.97 824.94H1906.55M1683.97 811.03H1906.55M1683.97 797.12H1906.55M1683.97 783.22H1906.55M1683.97 769.31H1906.55M1683.97 755.41H1906.55M1683.97 741.5H1906.55M1694.06 735.94V858.31M1719.28 735.94V858.31M1744.51 735.94V858.31M1769.73 735.94V858.31M1794.96 735.94V858.31M1820.18 735.94V858.31M1845.41 735.94V858.31M1870.63 735.94V858.31M1895.86 735.94V858.31" stroke="#ebebeb" stroke-width="2" fill="none"/><path d="M1694.4 758.7 L1694.7 763.8 L1695 766.5 L1695.2 767.7 L1695.5 767.7 L1695.8 767 L1696.1 765.8 L1696.3 764.4 L1696.6 762.8 L1696.9 761.1 L1697.2 759.5 L1697.5 758 L1697.7 756.5 L1698 755.1 L1698.3 753.9 L1698.6 752.7 L1698.9 751.7 L1699.1 750.8 L1699.4 750 L1699.7 749.2 L1700 748.6 L1700.2 748 L1700.5 747.5 L1700.8 747.1 L1701.1 746.7 L1701.4 746.4 L1701.6 746.1 L1701.9 745.8 L1702.2 745.6 L1702.5 745.4 L1702.8 745.2 L1703 745.1 L1703.3 744.9 L1703.6 744.8 L1703.9 744.7 L1704.1 744.7 L1705.2 744.4 L1706.2 744.3 L1707.3 744.2 L1708.3 744.2 L1709.3 744.1 L1710.4 744.1 L1711.4 744.1 L1712.4 744.1 L1713.5 744.1 L1714.5 744.1 L1715.5 744.1 L1716.6 744.1 L1717.6 744.1 L1718.6 744.1 L1719.7 744.1 L1720.7 744.1 L1721.7 744.1 L1722.8 744.1 L1723.8 744.1 L1724.8 744.1 L1725.9 744.1 L1726.9 744.1 L1728 744.1 L1729 744.1 L1730 744.1 L1731.1 744.1 L1732.1 744.1 L1733.1 744.1 L1734.2 744.1 L1735.2 744.1 L1736.2 744.1 L1737.3 744.1 L1738.3 744.1 L1739.3 744.1 L1740.4 744.1 L1741.4 744.1 L1742.4 744.1 L1743.5 744.1 L1744.5 744.1 L1751.1 744.1 L1757.7 744.1 L1764.3 744.1 L1770.8 744.1 L1777.4 744.1 L1784 744.1 L1790.6 744.1 L1797.2 744.1 L1803.7 744.1 L1810.3 744.1 L1816.9 744.1 L1823.5 744.1 L1830.1 744.1 L1836.6 744.1 L1843.2 744.1 L1849.8 744.1 L1856.4 744.1 L1863 744.1 L1869.5 744.1 L1876.1 744.1 L1882.7 744.1 L1889.3 744.1 L1895.9 744.1 L1895.9 745.8 L1889.3 745.8 L1882.7 745.8 L1876.1 745.8 L1869.5 745.8 L1863 745.8 L1856.4 745.8 L1849.8 745.8 L1843.2 745.8 L1836.6 745.8 L1830.1 745.8 L1823.5 745.8 L1816.9 745.8 L1810.3 745.8 L1803.7 745.8 L1797.2 745.8 L1790.6 745.8 L1784 745.8 L1777.4 745.8 L1770.8 745.8 L1764.3 745.8 L1757.7 745.8 L1751.1 745.8 L1744.5 745.8 L1743.5 745.8 L1742.4 745.8 L1741.4 745.8 L1740.4 745.8 L1739.3 745.8 L1738.3 745.8 L1737.3 745.8 L1736.2 745.8 L1735.2 745.8 L1734.2 745.8 L1733.1 745.8 L1732.1 745.8 L1731.1 745.8 L1730 745.8 L1729 745.8 L1728 745.8 L1726.9 745.8 L1725.9 745.8 L1724.8 745.8 L1723.8 745.8 L1722.8 745.8 L1721.7 745.8 L1720.7 745.8 L1719.7 745.9 L1718.6 745.9 L1717.6 745.9 L1716.6 746 L1715.5 746.1 L1714.5 746.2 L1713.5 746.3 L1712.4 746.5 L1711.4 746.7 L1710.4 747 L1709.3 747.4 L1708.3 747.9 L1707.3 748.7 L1706.2 749.8 L1705.2 751.1 L1704.1 752.8 L1703.9 753.3 L1703.6 753.9 L1703.3 754.5 L1703 755.1 L1702.8 755.8 L1702.5 756.5 L1702.2 757.3 L1701.9 758.1 L1701.6 759.1 L1701.4 760 L1701.1 761.1 L1700.8 762.2 L1700.5 763.5 L1700.2 764.8 L1700 766.2 L1699.7 767.8 L1699.4 769.4 L1699.1 771.2 L1698.9 773 L1698.6 775 L1698.3 777.1 L1698 779.2 L1697.7 781.4 L1697.5 783.6 L1697.2 785.8 L1696.9 788 L1696.6 789.9 L1696.3 791.6 L1696.1 792.9 L1695.8 793.5 L1695.5 793.3 L1695.2 791.8 L1695 788.6 L1694.7 783.1 L1694.4 774.5Z" fill="#0000ff" fill-opacity="0.1" stroke="none"/><line x1="1694.06" y1="758.15" x2="1704.18" y2="758.15" stroke="#ff0000" stroke-opacity="0.2" stroke-width="4"/><line x1="1704.18" y1="745.55" x2="1734.31" y2="745.55" stroke="#ff0000" stroke-opacity="0.2" stroke-width="4"/><line x1="1734.31" y1="745.77" x2="1895.97" y2="745.77" stroke="#ff0000" stroke-opacity="0.2" stroke-width="4"/><line x1="1699.12" y1="753.09" x2="1699.12" y2="763.21" stroke="#ff0000" stroke-opacity="0.8" stroke-width="2.3"/><circle cx="1699.12" cy="758.15" r="3.7" fill="#ff0000" fill-opacity="0.8"/><line x1="1724.19" y1="744.09" x2="1724.19" y2="747.46" stroke="#ff0000" stroke-opacity="0.8" stroke-width="2.3"/><circle cx="1724.19" cy="745.55" r="3.7" fill="#ff0000" fill-opacity="0.8"/><line x1="1815.25" y1="744.09" x2="1815.25" y2="748.02" stroke="#ff0000" stroke-opacity="0.8" stroke-width="2.3"/><circle cx="1815.25" cy="745.77" r="3.7" fill="#ff0000" fill-opacity="0.8"/><line x1="1694.06" y1="761.52" x2="1704.18" y2="761.52" stroke="#0000ff" stroke-opacity="0.2" stroke-width="4"/><line x1="1704.18" y1="744.87" x2="1734.31" y2="744.87" stroke="#0000ff" stroke-opacity="0.2" stroke-width="4"/><line x1="1734.31" y1="744.87" x2="1895.97" y2="744.87" stroke="#0000ff" stroke-opacity="0.2" stroke-width="4"/><line x1="1699.12" y1="751.96" x2="1699.12" y2="773.33" stroke="#0000ff" stroke-opacity="0.8" stroke-width="2.3"/><circle cx="1699.12" cy="761.52" r="3.7" fill="#0000ff" fill-opacity="0.8"/><line x1="1724.19" y1="744.09" x2="1724.19" y2="746.34" stroke="#0000ff" stroke-opacity="0.8" stroke-width="2.3"/><circle cx="1724.19" cy="744.87" r="3.7" fill="#0000ff" fill-opacity="0.8"/><line x1="1815.25" y1="744.09" x2="1815.25" y2="746.34" stroke="#0000ff" stroke-opacity="0.8" stroke-width="2.3"/><circle cx="1815.25" cy="744.87" r="3.7" fill="#0000ff" fill-opacity="0.8"/><path d="M1694.4 766.6 L1694.7 773.1 L1695 776.9 L1695.2 778.9 L1695.5 779.5 L1695.8 779.1 L1696.1 777.8 L1696.3 776.1 L1696.6 774.2 L1696.9 772.1 L1697.2 770.1 L1697.5 768.3 L1697.7 766.7 L1698 765.2 L1698.3 763.8 L1698.6 762.4 L1698.9 761.1 L1699.1 759.8 L1699.4 758.4 L1699.7 757.2 L1700 756.1 L1700.2 755 L1700.5 754 L1700.8 753.1 L1701.1 752.3 L1701.4 751.6 L1701.6 751 L1701.9 750.4 L1702.2 749.9 L1702.5 749.4 L1702.8 749 L1703 748.6 L1703.3 748.3 L1703.6 748 L1703.9 747.7 L1704.1 747.5 L1705.2 746.7 L1706.2 746.2 L1707.3 745.8 L1708.3 745.6 L1709.3 745.4 L1710.4 745.3 L1711.4 745.2 L1712.4 745.1 L1713.5 745.1 L1714.5 745.1 L1715.5 745 L1716.6 745 L1717.6 745 L1718.6 745 L1719.7 745 L1720.7 745 L1721.7 745 L1722.8 745 L1723.8 745 L1724.8 745 L1725.9 745 L1726.9 745 L1728 745 L1729 745 L1730 745 L1731.1 745 L1732.1 745 L1733.1 745 L1734.2 744.9 L1735.2 744.9 L1736.2 744.9 L1737.3 744.9 L1738.3 744.9 L1739.3 744.9 L1740.4 744.9 L1741.4 744.9 L1742.4 744.9 L1743.5 744.9 L1744.5 744.9 L1751.1 744.9 L1757.7 744.9 L1764.3 744.9 L1770.8 744.9 L1777.4 744.9 L1784 744.9 L1790.6 744.9 L1797.2 744.9 L1803.7 744.9 L1810.3 744.9 L1816.9 744.9 L1823.5 744.9 L1830.1 744.9 L1836.6 744.9 L1843.2 744.9 L1849.8 744.9 L1856.4 744.9 L1863 744.9 L1869.5 744.9 L1876.1 744.9 L1882.7 744.9 L1889.3 744.9 L1895.9 744.9" fill="none" stroke="#0000ff" stroke-width="2" stroke-linejoin="round"/><text x="1795.86" y="729.8" font-size="27.2" fill="#000" text-anchor="middle">UAE (11)</text><text x="1694.06" y="883.05" font-size="27.4" fill="#4d4d4d" text-anchor="middle">0</text><text x="1744.51" y="883.05" font-size="27.4" fill="#4d4d4d" text-anchor="middle">5</text><text x="1794.96" y="883.05" font-size="27.4" fill="#4d4d4d" text-anchor="middle">10</text><text x="1845.41" y="883.05" font-size="27.4" fill="#4d4d4d" text-anchor="middle">15</text><text x="1895.86" y="883.05" font-size="27.4" fill="#4d4d4d" text-anchor="middle">20</text></g>
<g><path d="M772.61 1035.75H995.19M772.61 1021.84H995.19M772.61 1007.94H995.19M772.61 994.03H995.19M772.61 980.12H995.19M772.61 966.22H995.19M772.61 952.31H995.19M772.61 938.41H995.19M772.61 924.5H995.19M782.7 918.94V1041.31M807.93 918.94V1041.31M833.15 918.94V1041.31M858.38 918.94V1041.31M883.6 918.94V1041.31M908.83 918.94V1041.31M934.05 918.94V1041.31M959.28 918.94V1041.31M984.5 918.94V1041.31" stroke="#ebebeb" stroke-width="2" fill="none"/><path d="M782.9 969.8 L783.2 1001 L783.5 1005.4 L783.8 1009.1 L784.1 1012.2 L784.3 1014.8 L784.6 1017 L784.9 1018.9 L785.2 1020.4 L785.5 1021.6 L785.7 1022.6 L786 1023.5 L786.3 1024.1 L786.6 1023.7 L786.9 1022.8 L787.2 1021.9 L787.4 1021.1 L787.7 1020.2 L788 1019.3 L788.3 1018.4 L788.6 1017.4 L788.8 1016.4 L789.1 1015.3 L789.4 1014.3 L789.7 1013.2 L790 1012.1 L790.3 1011.1 L790.5 1010.1 L790.8 1009.1 L791.1 1008.1 L791.4 1007.1 L791.7 1006.2 L791.9 1005.4 L792.2 1004.5 L792.5 1003.8 L792.8 1003 L793.8 1000.5 L794.9 998.2 L795.9 996 L796.9 993.9 L798 991.9 L799 990 L800 988.2 L801.1 986.5 L802.1 984.8 L803.1 983.2 L804.2 981.7 L805.2 980.2 L806.2 978.8 L807.3 977.4 L808.3 976.1 L809.3 974.8 L810.4 973.6 L811.4 972.4 L812.5 971.3 L813.5 970.2 L814.5 969.2 L815.6 968.2 L816.6 967.2 L817.6 966.3 L818.7 965.4 L819.7 964.6 L820.7 963.8 L821.8 963 L822.8 962.3 L823.8 961.6 L824.9 960.9 L825.9 960.2 L826.9 959.6 L828 959 L829 958.4 L830 957.8 L831.1 957.3 L832.1 956.8 L833.2 956.3 L839.7 953.5 L846.3 951.4 L852.9 949.7 L859.5 948.4 L866.1 947.4 L872.6 946.6 L879.2 945.9 L885.8 945.5 L892.4 945.1 L899 944.8 L905.5 944.6 L912.1 944.5 L918.7 944.3 L925.3 944.2 L931.9 944.1 L938.4 944.1 L945 944 L951.6 943.9 L958.2 943.8 L964.8 943.8 L971.3 943.7 L977.9 943.6 L984.5 943.6 L984.5 995.4 L977.9 995.8 L971.3 996.2 L964.8 996.6 L958.2 997.1 L951.6 997.7 L945 998.2 L938.4 998.9 L931.9 999.6 L925.3 1000.3 L918.7 1001.1 L912.1 1001.9 L905.5 1002.8 L899 1003.8 L892.4 1004.8 L885.8 1005.9 L879.2 1007.1 L872.6 1008.4 L866.1 1009.8 L859.5 1011.3 L852.9 1012.9 L846.3 1014.7 L839.7 1016.5 L833.2 1018.4 L832.1 1018.7 L831.1 1018.9 L830 1019.2 L829 1019.5 L828 1019.8 L826.9 1020.1 L825.9 1020.4 L824.9 1020.8 L823.8 1021.1 L822.8 1021.4 L821.8 1021.7 L820.7 1022 L819.7 1022.3 L818.7 1022.7 L817.6 1023 L816.6 1023.3 L815.6 1023.7 L814.5 1024 L813.5 1024.3 L812.5 1024.7 L811.4 1025 L810.4 1025.4 L809.3 1025.7 L808.3 1026.1 L807.3 1026.5 L806.2 1026.8 L805.2 1027.2 L804.2 1027.5 L803.1 1027.9 L802.1 1028.3 L801.1 1028.6 L800 1029 L799 1029.4 L798 1029.7 L796.9 1030.1 L795.9 1030.5 L794.9 1030.8 L793.8 1031.2 L792.8 1031.5 L792.5 1031.6 L792.2 1031.7 L791.9 1031.8 L791.7 1031.8 L791.4 1031.9 L791.1 1032 L790.8 1032 L790.5 1032.1 L790.3 1032.1 L790 1032.2 L789.7 1032.2 L789.4 1032.2 L789.1 1032.2 L788.8 1032.1 L788.6 1032.1 L788.3 1032 L788 1031.8 L787.7 1031.7 L787.4 1031.4 L787.2 1031.2 L786.9 1030.8 L786.6 1030.4 L786.3 1029.8 L786 1029.2 L785.7 1028.4 L785.5 1027.4 L785.2 1026.3 L784.9 1024.9 L784.6 1023.3 L784.3 1021.4 L784.1 1019.1 L783.8 1016.3 L783.5 1013.1 L783.2 1009.2 L782.9 1004.7Z" fill="#0000ff" fill-opacity="0.1" stroke="none"/><line x1="782.7" y1="1025.85" x2="802.71" y2="1025.85" stroke="#ff0000" stroke-opacity="0.2" stroke-width="4"/><line x1="802.94" y1="995.37" x2="984.84" y2="995.37" stroke="#ff0000" stroke-opacity="0.2" stroke-width="4"/><line x1="792.59" y1="990.08" x2="792.59" y2="1035.64" stroke="#ff0000" stroke-opacity="0.8" stroke-width="2.3"/><circle cx="792.59" cy="1025.85" r="3.7" fill="#ff0000" fill-opacity="0.8"/><line x1="893.55" y1="977.71" x2="893.55" y2="1012.58" stroke="#ff0000" stroke-opacity="0.8" stroke-width="2.3"/><circle cx="893.55" cy="995.37" r="3.7" fill="#ff0000" fill-opacity="0.8"/><line x1="782.7" y1="1018.54" x2="802.71" y2="1018.54" stroke="#0000ff" stroke-opacity="0.2" stroke-width="4"/><line x1="802.94" y1="985.36" x2="984.84" y2="985.36" stroke="#0000ff" stroke-opacity="0.2" stroke-width="4"/><line x1="792.59" y1="1003.02" x2="792.59" y2="1022.14" stroke="#0000ff" stroke-opacity="0.8" stroke-width="2.3"/><circle cx="792.59" cy="1018.54" r="3.7" fill="#0000ff" fill-opacity="0.8"/><line x1="893.55" y1="956.33" x2="893.55" y2="1012.58" stroke="#0000ff" stroke-opacity="0.8" stroke-width="2.3"/><circle cx="893.55" cy="985.36" r="3.7" fill="#0000ff" fill-opacity="0.8"/><path d="M782.9 996.3 L783.2 1001.4 L783.5 1005.8 L783.8 1009.5 L784.1 1012.6 L784.3 1015.3 L784.6 1017.5 L784.9 1019.3 L785.2 1020.8 L785.5 1022.1 L785.7 1023.1 L786 1023.9 L786.3 1024.6 L786.6 1025.1 L786.9 1025.4 L787.2 1025.7 L787.4 1025.9 L787.7 1026 L788 1026.1 L788.3 1026.1 L788.6 1026 L788.8 1025.8 L789.1 1025.7 L789.4 1025.4 L789.7 1025.2 L790 1024.9 L790.3 1024.6 L790.5 1024.3 L790.8 1024 L791.1 1023.6 L791.4 1023.3 L791.7 1023 L791.9 1022.6 L792.2 1022.3 L792.5 1021.9 L792.8 1021.6 L793.8 1020.4 L794.9 1019.2 L795.9 1018 L796.9 1016.8 L798 1015.6 L799 1014.5 L800 1013.4 L801.1 1012.3 L802.1 1011.2 L803.1 1010.2 L804.2 1009.2 L805.2 1008.2 L806.2 1007.3 L807.3 1006.4 L808.3 1005.5 L809.3 1004.6 L810.4 1003.8 L811.4 1003.1 L812.5 1002.3 L813.5 1001.6 L814.5 1001 L815.6 1000.3 L816.6 999.7 L817.6 999.1 L818.7 998.6 L819.7 998 L820.7 997.5 L821.8 996.9 L822.8 996.4 L823.8 995.9 L824.9 995.3 L825.9 994.8 L826.9 994.3 L828 993.8 L829 993.3 L830 992.8 L831.1 992.3 L832.1 991.7 L833.2 991.2 L839.7 988.1 L846.3 985.3 L852.9 982.9 L859.5 980.7 L866.1 978.7 L872.6 976.8 L879.2 975.2 L885.8 974 L892.4 972.9 L899 972 L905.5 971.2 L912.1 970.5 L918.7 969.9 L925.3 969.3 L931.9 968.9 L938.4 968.4 L945 968.1 L951.6 967.7 L958.2 967.4 L964.8 967 L971.3 966.7 L977.9 966.5 L984.5 966.2" fill="none" stroke="#0000ff" stroke-width="2" stroke-linejoin="round"/><text x="884.5" y="911.6" font-size="27.2" fill="#000" text-anchor="middle">Bangladesh (59)</text><text x="768" y="1046.4" font-size="27.4" fill="#4d4d4d" text-anchor="end">0.00</text><text x="768" y="1018.59" font-size="27.4" fill="#4d4d4d" text-anchor="end">0.25</text><text x="768" y="990.77" font-size="27.4" fill="#4d4d4d" text-anchor="end">0.50</text><text x="768" y="962.96" font-size="27.4" fill="#4d4d4d" text-anchor="end">0.75</text><text x="768" y="935.15" font-size="27.4" fill="#4d4d4d" text-anchor="end">1.00</text><text x="782.7" y="1066.05" font-size="27.4" fill="#4d4d4d" text-anchor="middle">0</text><text x="833.15" y="1066.05" font-size="27.4" fill="#4d4d4d" text-anchor="middle">5</text><text x="883.6" y="1066.05" font-size="27.4" fill="#4d4d4d" text-anchor="middle">10</text><text x="934.05" y="1066.05" font-size="27.4" fill="#4d4d4d" text-anchor="middle">15</text><text x="984.5" y="1066.05" font-size="27.4" fill="#4d4d4d" text-anchor="middle">20</text></g>
<g><path d="M1000.45 1035.75H1223.03M1000.45 1021.84H1223.03M1000.45 1007.94H1223.03M1000.45 994.03H1223.03M1000.45 980.12H1223.03M1000.45 966.22H1223.03M1000.45 952.31H1223.03M1000.45 938.41H1223.03M1000.45 924.5H1223.03M1010.54 918.94V1041.31M1035.77 918.94V1041.31M1060.99 918.94V1041.31M1086.22 918.94V1041.31M1111.44 918.94V1041.31M1136.66 918.94V1041.31M1161.89 918.94V1041.31M1187.12 918.94V1041.31M1212.34 918.94V1041.31" stroke="#ebebeb" stroke-width="2" fill="none"/><path d="M1011 984.5 L1011.3 990.7 L1011.5 996 L1011.8 1000.6 L1012.1 1004.4 L1012.4 1007.8 L1012.6 1010.6 L1012.9 1013 L1013.2 1015 L1013.5 1016.7 L1013.7 1018.1 L1014 1019.2 L1014.3 1020.2 L1014.6 1020.9 L1014.8 1021.5 L1015.1 1022 L1015.4 1022.4 L1015.7 1022.6 L1015.9 1022.8 L1016.2 1022.8 L1016.5 1022.9 L1016.8 1022.8 L1017 1022.7 L1017.3 1022.6 L1017.6 1022.4 L1017.9 1022.2 L1018.2 1022 L1018.4 1021.7 L1018.7 1021.4 L1019 1021.2 L1019.3 1020.8 L1019.5 1020.5 L1019.8 1020.2 L1020.1 1019.9 L1020.4 1019.5 L1020.6 1019.2 L1021.7 1017.8 L1022.7 1016.4 L1023.7 1015 L1024.8 1013.7 L1025.8 1012.3 L1026.8 1011 L1027.9 1009.7 L1028.9 1008.4 L1029.9 1007.2 L1031 1005.9 L1032 1004.8 L1033 1003.6 L1034.1 1002.5 L1035.1 1001.4 L1036.2 1000.3 L1037.2 999.3 L1038.2 998.2 L1039.3 997.3 L1040.3 996.3 L1041.3 995.3 L1042.4 994.4 L1043.4 993.5 L1044.4 992.7 L1045.5 991.8 L1046.5 991 L1047.5 990.2 L1048.6 989.4 L1049.6 988.6 L1050.6 987.8 L1051.7 987.1 L1052.7 986.4 L1053.7 985.7 L1054.8 985 L1055.8 984.3 L1056.9 983.6 L1057.9 983 L1058.9 982.3 L1060 981.7 L1061 981.1 L1067.6 977.5 L1074.2 974.3 L1080.7 971.6 L1087.3 969.2 L1093.9 967.2 L1100.5 965.4 L1107.1 963.8 L1113.6 962.4 L1120.2 961.2 L1126.8 960.2 L1133.4 959.3 L1140 958.6 L1146.5 957.9 L1153.1 957.3 L1159.7 956.8 L1166.3 956.4 L1172.9 956 L1179.4 955.6 L1186 955.2 L1192.6 954.8 L1199.2 954.5 L1205.8 954.2 L1212.3 953.9 L1212.3 974.8 L1205.8 975 L1199.2 975.1 L1192.6 975.3 L1186 975.5 L1179.4 975.8 L1172.9 976.1 L1166.3 976.5 L1159.7 976.9 L1153.1 977.5 L1146.5 978 L1140 978.7 L1133.4 979.5 L1126.8 980.3 L1120.2 981.3 L1113.6 982.4 L1107.1 983.6 L1100.5 985 L1093.9 986.6 L1087.3 988.4 L1080.7 990.3 L1074.2 992.5 L1067.6 995 L1061 997.8 L1060 998.3 L1058.9 998.7 L1057.9 999.2 L1056.9 999.7 L1055.8 1000.2 L1054.8 1000.7 L1053.7 1001.2 L1052.7 1001.7 L1051.7 1002.3 L1050.6 1002.8 L1049.6 1003.3 L1048.6 1003.9 L1047.5 1004.5 L1046.5 1005 L1045.5 1005.6 L1044.4 1006.2 L1043.4 1006.8 L1042.4 1007.5 L1041.3 1008.1 L1040.3 1008.8 L1039.3 1009.5 L1038.2 1010.2 L1037.2 1010.9 L1036.2 1011.6 L1035.1 1012.4 L1034.1 1013.1 L1033 1013.9 L1032 1014.7 L1031 1015.6 L1029.9 1016.4 L1028.9 1017.3 L1027.9 1018.2 L1026.8 1019.1 L1025.8 1020 L1024.8 1020.9 L1023.7 1021.9 L1022.7 1022.9 L1021.7 1023.9 L1020.6 1024.9 L1020.4 1025.2 L1020.1 1025.5 L1019.8 1025.7 L1019.5 1026 L1019.3 1026.3 L1019 1026.6 L1018.7 1026.8 L1018.4 1027.1 L1018.2 1027.4 L1017.9 1027.7 L1017.6 1027.9 L1017.3 1028.2 L1017 1028.4 L1016.8 1028.7 L1016.5 1028.9 L1016.2 1029.2 L1015.9 1029.4 L1015.7 1029.6 L1015.4 1029.7 L1015.1 1029.8 L1014.8 1029.9 L1014.6 1029.9 L1014.3 1029.9 L1014 1029.7 L1013.7 1029.4 L1013.5 1029 L1013.2 1028.4 L1012.9 1027.5 L1012.6 1026.3 L1012.4 1024.6 L1012.1 1022.4 L1011.8 1019.6 L1011.5 1015.8 L1011.3 1011 L1011 1004.7Z" fill="#0000ff" fill-opacity="0.1" stroke="none"/><line x1="1010.54" y1="1003.35" x2="1030.78" y2="1003.35" stroke="#ff0000" stroke-opacity="0.2" stroke-width="4"/><line x1="1031.56" y1="1003.02" x2="1060.79" y2="1003.02" stroke="#ff0000" stroke-opacity="0.2" stroke-width="4"/><line x1="1061.92" y1="978.61" x2="1111.38" y2="978.61" stroke="#ff0000" stroke-opacity="0.2" stroke-width="4"/><line x1="1111.38" y1="981.42" x2="1212.56" y2="981.42" stroke="#ff0000" stroke-opacity="0.2" stroke-width="4"/><line x1="1020.66" y1="991.21" x2="1020.66" y2="1013.7" stroke="#ff0000" stroke-opacity="0.8" stroke-width="2.3"/><circle cx="1020.66" cy="1003.35" r="3.7" fill="#ff0000" fill-opacity="0.8"/><line x1="1046.4" y1="995.7" x2="1046.4" y2="1009.77" stroke="#ff0000" stroke-opacity="0.8" stroke-width="2.3"/><circle cx="1046.4" cy="1003.02" r="3.7" fill="#ff0000" fill-opacity="0.8"/><line x1="1086.43" y1="973.21" x2="1086.43" y2="984.46" stroke="#ff0000" stroke-opacity="0.8" stroke-width="2.3"/><circle cx="1086.43" cy="978.61" r="3.7" fill="#ff0000" fill-opacity="0.8"/><line x1="1161.86" y1="970.96" x2="1161.86" y2="994.02" stroke="#ff0000" stroke-opacity="0.8" stroke-width="2.3"/><circle cx="1161.86" cy="981.42" r="3.7" fill="#ff0000" fill-opacity="0.8"/><line x1="1010.54" y1="1018.76" x2="1030.78" y2="1018.76" stroke="#0000ff" stroke-opacity="0.2" stroke-width="4"/><line x1="1031.56" y1="1000.43" x2="1060.79" y2="1000.43" stroke="#0000ff" stroke-opacity="0.2" stroke-width="4"/><line x1="1061.92" y1="980.52" x2="1111.38" y2="980.52" stroke="#0000ff" stroke-opacity="0.2" stroke-width="4"/><line x1="1111.38" y1="968.15" x2="1212.56" y2="968.15" stroke="#0000ff" stroke-opacity="0.2" stroke-width="4"/><line x1="1020.66" y1="1014.83" x2="1020.66" y2="1023.83" stroke="#0000ff" stroke-opacity="0.8" stroke-width="2.3"/><circle cx="1020.66" cy="1018.76" r="3.7" fill="#0000ff" fill-opacity="0.8"/><line x1="1046.4" y1="991.21" x2="1046.4" y2="1009.2" stroke="#0000ff" stroke-opacity="0.8" stroke-width="2.3"/><circle cx="1046.4" cy="1000.43" r="3.7" fill="#0000ff" fill-opacity="0.8"/><line x1="1086.43" y1="970.39" x2="1086.43" y2="990.64" stroke="#0000ff" stroke-opacity="0.8" stroke-width="2.3"/><circle cx="1086.43" cy="980.52" r="3.7" fill="#0000ff" fill-opacity="0.8"/><line x1="1161.86" y1="958.02" x2="1161.86" y2="975.46" stroke="#0000ff" stroke-opacity="0.8" stroke-width="2.3"/><circle cx="1161.86" cy="968.15" r="3.7" fill="#0000ff" fill-opacity="0.8"/><path d="M1011 996.3 L1011.3 1001.5 L1011.5 1005.9 L1011.8 1009.6 L1012.1 1012.7 L1012.4 1015.4 L1012.6 1017.6 L1012.9 1019.4 L1013.2 1020.9 L1013.5 1022.1 L1013.7 1023.1 L1014 1024 L1014.3 1024.6 L1014.6 1025.1 L1014.8 1025.5 L1015.1 1025.8 L1015.4 1025.9 L1015.7 1026 L1015.9 1026.1 L1016.2 1026.1 L1016.5 1026 L1016.8 1025.9 L1017 1025.7 L1017.3 1025.4 L1017.6 1025.2 L1017.9 1024.9 L1018.2 1024.6 L1018.4 1024.3 L1018.7 1024 L1019 1023.6 L1019.3 1023.3 L1019.5 1022.9 L1019.8 1022.6 L1020.1 1022.3 L1020.4 1021.9 L1020.6 1021.6 L1021.7 1020.4 L1022.7 1019.2 L1023.7 1018 L1024.8 1016.8 L1025.8 1015.7 L1026.8 1014.6 L1027.9 1013.5 L1028.9 1012.4 L1029.9 1011.3 L1031 1010.3 L1032 1009.3 L1033 1008.3 L1034.1 1007.4 L1035.1 1006.5 L1036.2 1005.6 L1037.2 1004.7 L1038.2 1003.9 L1039.3 1003.1 L1040.3 1002.3 L1041.3 1001.6 L1042.4 1000.9 L1043.4 1000.3 L1044.4 999.6 L1045.5 999 L1046.5 998.4 L1047.5 997.8 L1048.6 997.2 L1049.6 996.6 L1050.6 996.1 L1051.7 995.5 L1052.7 995 L1053.7 994.4 L1054.8 993.9 L1055.8 993.4 L1056.9 992.8 L1057.9 992.3 L1058.9 991.7 L1060 991.2 L1061 990.7 L1067.6 987.4 L1074.2 984.5 L1080.7 981.9 L1087.3 979.6 L1093.9 977.5 L1100.5 975.7 L1107.1 974.1 L1113.6 972.8 L1120.2 971.6 L1126.8 970.6 L1133.4 969.7 L1140 969 L1146.5 968.3 L1153.1 967.7 L1159.7 967.2 L1166.3 966.7 L1172.9 966.3 L1179.4 965.9 L1186 965.5 L1192.6 965.1 L1199.2 964.8 L1205.8 964.5 L1212.3 964.2" fill="none" stroke="#0000ff" stroke-width="2" stroke-linejoin="round"/><text x="1112.34" y="911.6" font-size="27.2" fill="#000" text-anchor="middle">Pakistan (30)</text><text x="1010.54" y="1066.05" font-size="27.4" fill="#4d4d4d" text-anchor="middle">0</text><text x="1060.99" y="1066.05" font-size="27.4" fill="#4d4d4d" text-anchor="middle">5</text><text x="1111.44" y="1066.05" font-size="27.4" fill="#4d4d4d" text-anchor="middle">10</text><text x="1161.89" y="1066.05" font-size="27.4" fill="#4d4d4d" text-anchor="middle">15</text><text x="1212.34" y="1066.05" font-size="27.4" fill="#4d4d4d" text-anchor="middle">20</text></g>
<g><path d="M1228.29 1035.75H1450.87M1228.29 1021.84H1450.87M1228.29 1007.94H1450.87M1228.29 994.03H1450.87M1228.29 980.12H1450.87M1228.29 966.22H1450.87M1228.29 952.31H1450.87M1228.29 938.41H1450.87M1228.29 924.5H1450.87M1238.38 918.94V1041.31M1263.61 918.94V1041.31M1288.83 918.94V1041.31M1314.06 918.94V1041.31M1339.28 918.94V1041.31M1364.51 918.94V1041.31M1389.73 918.94V1041.31M1414.96 918.94V1041.31M1440.18 918.94V1041.31" stroke="#ebebeb" stroke-width="2" fill="none"/><path d="M1238.9 955.2 L1239.2 964.8 L1239.5 972.9 L1239.8 979.7 L1240 985.3 L1240.3 989.9 L1240.6 993.8 L1240.8 996.9 L1241.1 999.4 L1241.4 1001.3 L1241.7 1002.9 L1241.9 1004 L1242.2 1004.9 L1242.5 1005.4 L1242.8 1005.7 L1243 1005.9 L1243.3 1005.8 L1243.6 1005.7 L1243.8 1005.4 L1244.1 1005 L1244.4 1004.5 L1244.7 1004 L1244.9 1003.4 L1245.2 1002.7 L1245.5 1002 L1245.7 1001.3 L1246 1000.5 L1246.3 999.8 L1246.6 999 L1246.8 998.2 L1247.1 997.4 L1247.4 996.6 L1247.7 995.8 L1247.9 995 L1248.2 994.2 L1248.5 993.4 L1249.5 990.3 L1250.5 987.4 L1251.6 984.6 L1252.6 982 L1253.6 979.5 L1254.7 977.1 L1255.7 974.8 L1256.7 972.7 L1257.8 970.6 L1258.8 968.7 L1259.9 966.9 L1260.9 965.2 L1261.9 963.6 L1263 962.1 L1264 960.6 L1265 959.3 L1266.1 958 L1267.1 956.8 L1268.1 955.7 L1269.2 954.7 L1270.2 953.7 L1271.2 952.8 L1272.3 952 L1273.3 951.2 L1274.3 950.4 L1275.4 949.7 L1276.4 949 L1277.4 948.4 L1278.5 947.8 L1279.5 947.2 L1280.6 946.7 L1281.6 946.2 L1282.6 945.7 L1283.7 945.2 L1284.7 944.8 L1285.7 944.4 L1286.8 944 L1287.8 943.6 L1288.8 943.2 L1295.4 941.2 L1302 939.8 L1308.6 938.8 L1315.2 938 L1321.7 937.4 L1328.3 937 L1334.9 936.7 L1341.5 936.5 L1348.1 936.3 L1354.6 936.2 L1361.2 936.1 L1367.8 936 L1374.4 935.9 L1381 935.8 L1387.5 935.8 L1394.1 935.7 L1400.7 935.7 L1407.3 935.6 L1413.9 935.6 L1420.4 935.6 L1427 935.5 L1433.6 935.5 L1440.2 935.5 L1440.2 943.3 L1433.6 943.3 L1427 943.3 L1420.4 943.3 L1413.9 943.3 L1407.3 943.3 L1400.7 943.3 L1394.1 943.4 L1387.5 943.4 L1381 943.4 L1374.4 943.4 L1367.8 943.5 L1361.2 943.5 L1354.6 943.6 L1348.1 943.7 L1341.5 943.9 L1334.9 944.1 L1328.3 944.5 L1321.7 944.9 L1315.2 945.5 L1308.6 946.4 L1302 947.5 L1295.4 949.1 L1288.8 951.3 L1287.8 951.8 L1286.8 952.2 L1285.7 952.7 L1284.7 953.2 L1283.7 953.7 L1282.6 954.2 L1281.6 954.8 L1280.6 955.4 L1279.5 956 L1278.5 956.7 L1277.4 957.4 L1276.4 958.1 L1275.4 958.9 L1274.3 959.7 L1273.3 960.5 L1272.3 961.4 L1271.2 962.3 L1270.2 963.3 L1269.2 964.4 L1268.1 965.4 L1267.1 966.6 L1266.1 967.8 L1265 969 L1264 970.3 L1263 971.7 L1261.9 973.2 L1260.9 974.7 L1259.9 976.3 L1258.8 977.9 L1257.8 979.7 L1256.7 981.6 L1255.7 983.5 L1254.7 985.6 L1253.6 987.7 L1252.6 990 L1251.6 992.3 L1250.5 994.8 L1249.5 997.5 L1248.5 1000.2 L1248.2 1001 L1247.9 1001.7 L1247.7 1002.5 L1247.4 1003.3 L1247.1 1004.1 L1246.8 1004.9 L1246.6 1005.7 L1246.3 1006.5 L1246 1007.3 L1245.7 1008.2 L1245.5 1009 L1245.2 1009.9 L1244.9 1010.8 L1244.7 1011.7 L1244.4 1012.5 L1244.1 1013.5 L1243.8 1014.4 L1243.6 1015.3 L1243.3 1016.2 L1243 1017.1 L1242.8 1018.1 L1242.5 1019 L1242.2 1019.8 L1241.9 1020.6 L1241.7 1021.4 L1241.4 1022 L1241.1 1022.3 L1240.8 1022.3 L1240.6 1021.8 L1240.3 1020.5 L1240 1017.9 L1239.8 1013.4 L1239.5 1006 L1239.2 994.1 L1238.9 975.5Z" fill="#0000ff" fill-opacity="0.1" stroke="none"/><line x1="1240.85" y1="970.96" x2="1269.18" y2="970.96" stroke="#ff0000" stroke-opacity="0.2" stroke-width="4"/><line x1="1269.86" y1="948.46" x2="1339.79" y2="948.46" stroke="#ff0000" stroke-opacity="0.2" stroke-width="4"/><line x1="1339.79" y1="945.31" x2="1440.4" y2="945.31" stroke="#ff0000" stroke-opacity="0.2" stroke-width="4"/><line x1="1253.56" y1="963.08" x2="1253.56" y2="975.46" stroke="#ff0000" stroke-opacity="0.8" stroke-width="2.3"/><circle cx="1253.56" cy="970.96" r="3.7" fill="#ff0000" fill-opacity="0.8"/><line x1="1304.71" y1="945.65" x2="1304.71" y2="951.83" stroke="#ff0000" stroke-opacity="0.8" stroke-width="2.3"/><circle cx="1304.71" cy="948.46" r="3.7" fill="#ff0000" fill-opacity="0.8"/><line x1="1390.04" y1="942.84" x2="1390.04" y2="952.73" stroke="#ff0000" stroke-opacity="0.8" stroke-width="2.3"/><circle cx="1390.04" cy="945.31" r="3.7" fill="#ff0000" fill-opacity="0.8"/><line x1="1240.85" y1="981.42" x2="1269.18" y2="981.42" stroke="#0000ff" stroke-opacity="0.2" stroke-width="4"/><line x1="1269.86" y1="946.77" x2="1339.79" y2="946.77" stroke="#0000ff" stroke-opacity="0.2" stroke-width="4"/><line x1="1339.79" y1="939.46" x2="1440.4" y2="939.46" stroke="#0000ff" stroke-opacity="0.2" stroke-width="4"/><line x1="1253.56" y1="975.46" x2="1253.56" y2="988.96" stroke="#0000ff" stroke-opacity="0.8" stroke-width="2.3"/><circle cx="1253.56" cy="981.42" r="3.7" fill="#0000ff" fill-opacity="0.8"/><line x1="1304.71" y1="943.96" x2="1304.71" y2="949.58" stroke="#0000ff" stroke-opacity="0.8" stroke-width="2.3"/><circle cx="1304.71" cy="946.77" r="3.7" fill="#0000ff" fill-opacity="0.8"/><line x1="1390.04" y1="934.96" x2="1390.04" y2="943.96" stroke="#0000ff" stroke-opacity="0.8" stroke-width="2.3"/><circle cx="1390.04" cy="939.46" r="3.7" fill="#0000ff" fill-opacity="0.8"/><path d="M1238.9 965.9 L1239.2 977.7 L1239.5 987 L1239.8 994.2 L1240 999.8 L1240.3 1004.1 L1240.6 1007.3 L1240.8 1009.7 L1241.1 1011.4 L1241.4 1012.6 L1241.7 1013.3 L1241.9 1013.6 L1242.2 1013.7 L1242.5 1013.6 L1242.8 1013.3 L1243 1012.9 L1243.3 1012.3 L1243.6 1011.7 L1243.8 1011 L1244.1 1010.3 L1244.4 1009.6 L1244.7 1008.9 L1244.9 1008.1 L1245.2 1007.4 L1245.5 1006.6 L1245.7 1005.8 L1246 1005.1 L1246.3 1004.3 L1246.6 1003.5 L1246.8 1002.7 L1247.1 1001.9 L1247.4 1001.2 L1247.7 1000.4 L1247.9 999.6 L1248.2 998.8 L1248.5 998 L1249.5 995 L1250.5 992 L1251.6 989 L1252.6 986.3 L1253.6 983.7 L1254.7 981.3 L1255.7 979 L1256.7 976.8 L1257.8 974.8 L1258.8 972.8 L1259.9 971 L1260.9 969.3 L1261.9 967.7 L1263 966.2 L1264 964.8 L1265 963.5 L1266.1 962.3 L1267.1 961.2 L1268.1 960.1 L1269.2 959.2 L1270.2 958.3 L1271.2 957.4 L1272.3 956.6 L1273.3 955.8 L1274.3 955.1 L1275.4 954.3 L1276.4 953.6 L1277.4 952.9 L1278.5 952.3 L1279.5 951.6 L1280.6 951.1 L1281.6 950.5 L1282.6 950 L1283.7 949.5 L1284.7 949 L1285.7 948.5 L1286.8 948.1 L1287.8 947.7 L1288.8 947.3 L1295.4 945.2 L1302 943.7 L1308.6 942.6 L1315.2 941.8 L1321.7 941.2 L1328.3 940.7 L1334.9 940.4 L1341.5 940.2 L1348.1 940 L1354.6 939.9 L1361.2 939.9 L1367.8 939.8 L1374.4 939.8 L1381 939.8 L1387.5 939.7 L1394.1 939.7 L1400.7 939.7 L1407.3 939.7 L1413.9 939.7 L1420.4 939.7 L1427 939.7 L1433.6 939.7 L1440.2 939.7" fill="none" stroke="#0000ff" stroke-width="2" stroke-linejoin="round"/><text x="1340.18" y="911.6" font-size="27.2" fill="#000" text-anchor="middle">Pakistan (60)</text><text x="1238.38" y="1066.05" font-size="27.4" fill="#4d4d4d" text-anchor="middle">0</text><text x="1288.83" y="1066.05" font-size="27.4" fill="#4d4d4d" text-anchor="middle">5</text><text x="1339.28" y="1066.05" font-size="27.4" fill="#4d4d4d" text-anchor="middle">10</text><text x="1389.73" y="1066.05" font-size="27.4" fill="#4d4d4d" text-anchor="middle">15</text><text x="1440.18" y="1066.05" font-size="27.4" fill="#4d4d4d" text-anchor="middle">20</text></g>
<rect x="677.9" y="70.1" width="1246.6" height="430.9" fill="none" stroke="#00CD66" stroke-width="3.8"/>
<rect x="1922.5" y="68.2" width="78.5" height="433.2" fill="#00CD66"/>
<text transform="translate(1946.7 284.4) rotate(90)" font-size="43.5" fill="#fff" text-anchor="middle">Africa</text>
<rect x="677.9" y="501" width="1246.6" height="389.8" fill="none" stroke="#00BFFF" stroke-width="3.8"/>
<rect x="1923" y="501.4" width="77" height="389.6" fill="#00BFFF"/>
<text transform="translate(1946.7 706.6) rotate(90)" font-size="43.5" fill="#fff" text-anchor="middle">West Asia</text>
<rect x="677.9" y="890.8" width="1246.6" height="185.1" fill="none" stroke="#EE30A7" stroke-width="3.8"/>
<rect x="1923" y="891" width="77" height="186.8" fill="#EE30A7"/>
<text transform="translate(1946.7 984) rotate(90)" font-size="43.5" fill="#fff" text-anchor="middle">S. Asia</text>
<g opacity="0.8"><line x1="1615.2" y1="943.5" x2="1628.8" y2="943.5" stroke="#ff0000" stroke-width="1.8"/><circle cx="1622" cy="943.5" r="3.2" fill="#ff0000"/></g>
<text x="1636.6" y="954.8" font-size="26.4" fill="#000">data</text>
<g opacity="0.8"><line x1="1615.2" y1="968.5" x2="1628.8" y2="968.5" stroke="#0000ff" stroke-width="1.8"/><circle cx="1622" cy="968.5" r="3.2" fill="#0000ff"/></g>
<text x="1636.6" y="978.6" font-size="26.4" fill="#000">predicted</text>
</g>
</svg></body></html>
